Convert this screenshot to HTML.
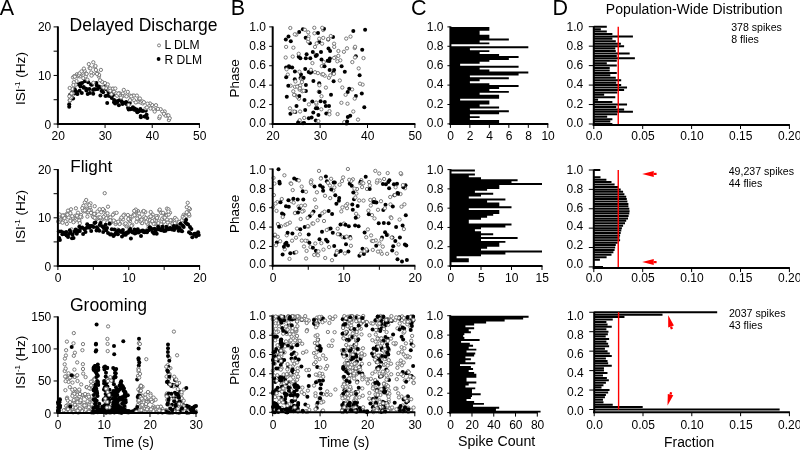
<!DOCTYPE html>
<html><head><meta charset="utf-8"><style>
html,body{margin:0;padding:0;background:#fff;}
svg{display:block;filter:blur(0.3px);}
text{font-family:"Liberation Sans", sans-serif;}
.b{fill:#000;}
.h{fill:#fff;stroke:#747474;stroke-width:0.95px;}
</style></head><body>
<svg width="800" height="450" viewBox="0 0 800 450" font-family='"Liberation Sans", sans-serif'>
<rect width="800" height="450" fill="#fff"/>
<g><circle cx="138.7" cy="111.3" r="2.0" class="b"/><circle cx="108.4" cy="91.4" r="2.0" class="b"/><circle cx="137.3" cy="112.3" r="2.0" class="b"/><circle cx="129.8" cy="103.0" r="2.0" class="b"/><circle cx="70.1" cy="94.7" r="2.0" class="b"/><circle cx="119.8" cy="100.0" r="2.0" class="b"/><circle cx="91.0" cy="84.4" r="2.0" class="b"/><circle cx="145.8" cy="110.7" r="2.0" class="b"/><circle cx="102.8" cy="89.1" r="2.0" class="b"/><circle cx="125.2" cy="102.7" r="2.0" class="b"/><circle cx="74.5" cy="93.5" r="2.0" class="b"/><circle cx="128.0" cy="107.8" r="2.0" class="b"/><circle cx="94.1" cy="89.2" r="2.0" class="b"/><circle cx="106.2" cy="89.3" r="2.0" class="b"/><circle cx="93.2" cy="93.7" r="2.0" class="b"/><circle cx="69.2" cy="106.7" r="2.0" class="b"/><circle cx="107.4" cy="95.4" r="2.0" class="b"/><circle cx="132.9" cy="107.3" r="2.0" class="b"/><circle cx="136.7" cy="109.4" r="2.0" class="b"/><circle cx="126.2" cy="102.0" r="2.0" class="b"/><circle cx="134.6" cy="108.4" r="2.0" class="b"/><circle cx="81.8" cy="93.0" r="2.0" class="b"/><circle cx="97.7" cy="89.0" r="2.0" class="b"/><circle cx="111.8" cy="97.9" r="2.0" class="b"/><circle cx="95.6" cy="89.2" r="2.0" class="b"/><circle cx="122.2" cy="102.4" r="2.0" class="b"/><circle cx="147.3" cy="118.1" r="2.0" class="b"/><circle cx="87.7" cy="94.1" r="2.0" class="b"/><circle cx="96.8" cy="85.5" r="2.0" class="b"/><circle cx="80.5" cy="86.6" r="2.0" class="b"/><circle cx="73.4" cy="93.1" r="2.0" class="b"/><circle cx="144.5" cy="116.5" r="2.0" class="b"/><circle cx="141.8" cy="110.7" r="2.0" class="b"/><circle cx="100.1" cy="87.4" r="2.0" class="b"/><circle cx="140.7" cy="116.0" r="2.0" class="b"/><circle cx="89.9" cy="93.0" r="2.0" class="b"/><circle cx="140.9" cy="117.2" r="2.0" class="b"/><circle cx="109.0" cy="94.2" r="2.0" class="b"/><circle cx="135.3" cy="109.9" r="2.0" class="b"/><circle cx="71.4" cy="97.0" r="2.0" class="b"/><circle cx="100.4" cy="95.4" r="2.0" class="b"/><circle cx="86.4" cy="90.5" r="2.0" class="b"/><circle cx="77.5" cy="94.1" r="2.0" class="b"/><circle cx="143.0" cy="111.1" r="2.0" class="b"/><circle cx="82.1" cy="82.9" r="2.0" class="b"/><circle cx="140.4" cy="108.9" r="2.0" class="b"/><circle cx="103.1" cy="92.2" r="2.0" class="b"/><circle cx="131.3" cy="108.8" r="2.0" class="b"/><circle cx="107.2" cy="103.1" r="2.0" class="b"/><circle cx="123.6" cy="102.7" r="2.0" class="b"/><circle cx="73.1" cy="98.5" r="2.0" class="b"/><circle cx="117.9" cy="100.9" r="2.0" class="b"/><circle cx="146.6" cy="114.8" r="2.0" class="b"/><circle cx="86.2" cy="88.7" r="2.0" class="b"/><circle cx="83.7" cy="86.9" r="2.0" class="b"/><circle cx="116.0" cy="101.4" r="2.0" class="b"/><circle cx="128.7" cy="109.6" r="2.0" class="b"/><circle cx="117.0" cy="102.4" r="2.0" class="b"/><circle cx="72.5" cy="91.5" r="2.0" class="b"/><circle cx="93.1" cy="89.9" r="2.0" class="b"/><circle cx="115.1" cy="103.4" r="2.0" class="b"/><circle cx="118.9" cy="105.3" r="2.0" class="b"/><circle cx="114.0" cy="102.3" r="2.0" class="b"/><circle cx="69.2" cy="104.3" r="2.0" class="b"/><circle cx="88.2" cy="82.3" r="2.0" class="b"/><circle cx="98.9" cy="86.5" r="2.0" class="b"/><circle cx="139.2" cy="110.7" r="2.0" class="b"/><circle cx="126.5" cy="104.0" r="2.0" class="b"/><circle cx="76.9" cy="93.4" r="2.0" class="b"/><circle cx="80.3" cy="83.5" r="2.0" class="b"/><circle cx="84.7" cy="81.2" r="2.0" class="b"/><circle cx="122.5" cy="104.0" r="2.0" class="b"/><circle cx="91.9" cy="84.7" r="2.0" class="b"/><circle cx="70.6" cy="99.6" r="2.0" class="b"/><circle cx="83.7" cy="87.7" r="2.0" class="b"/><circle cx="89.4" cy="89.1" r="2.0" class="b"/><circle cx="145.3" cy="116.6" r="2.0" class="b"/><circle cx="76.1" cy="91.5" r="2.0" class="b"/><circle cx="121.4" cy="101.1" r="2.0" class="b"/><circle cx="130.4" cy="109.2" r="2.0" class="b"/><circle cx="101.6" cy="91.1" r="2.0" class="b"/><circle cx="96.4" cy="83.1" r="2.0" class="b"/><circle cx="79.6" cy="90.8" r="2.0" class="b"/><circle cx="133.8" cy="109.4" r="2.0" class="b"/><circle cx="74.8" cy="89.3" r="2.0" class="b"/><circle cx="114.1" cy="99.9" r="2.0" class="b"/><circle cx="104.6" cy="86.8" r="2.0" class="b"/><circle cx="110.8" cy="92.8" r="2.0" class="b"/><circle cx="109.4" cy="95.9" r="2.0" class="b"/><circle cx="113.0" cy="94.9" r="2.0" class="b"/><circle cx="78.6" cy="84.6" r="2.0" class="b"/><circle cx="105.5" cy="95.9" r="2.0" class="b"/><circle cx="164.7" cy="111.5" r="1.65" class="h"/><circle cx="167.2" cy="115.5" r="1.65" class="h"/><circle cx="83.3" cy="78.1" r="1.65" class="h"/><circle cx="95.9" cy="70.0" r="1.65" class="h"/><circle cx="76.9" cy="74.3" r="1.65" class="h"/><circle cx="122.8" cy="93.5" r="1.65" class="h"/><circle cx="69.7" cy="100.2" r="1.65" class="h"/><circle cx="98.9" cy="76.6" r="1.65" class="h"/><circle cx="77.5" cy="76.4" r="1.65" class="h"/><circle cx="75.7" cy="84.8" r="1.65" class="h"/><circle cx="114.0" cy="91.7" r="1.65" class="h"/><circle cx="70.2" cy="100.5" r="1.65" class="h"/><circle cx="88.8" cy="64.1" r="1.65" class="h"/><circle cx="154.9" cy="110.2" r="1.65" class="h"/><circle cx="122.2" cy="96.3" r="1.65" class="h"/><circle cx="162.2" cy="111.4" r="1.65" class="h"/><circle cx="112.0" cy="88.9" r="1.65" class="h"/><circle cx="108.7" cy="89.8" r="1.65" class="h"/><circle cx="128.6" cy="105.0" r="1.65" class="h"/><circle cx="107.0" cy="86.1" r="1.65" class="h"/><circle cx="120.1" cy="95.1" r="1.65" class="h"/><circle cx="69.9" cy="100.3" r="1.65" class="h"/><circle cx="132.6" cy="95.7" r="1.65" class="h"/><circle cx="123.8" cy="89.9" r="1.65" class="h"/><circle cx="125.2" cy="95.5" r="1.65" class="h"/><circle cx="105.9" cy="88.1" r="1.65" class="h"/><circle cx="159.3" cy="118.1" r="1.65" class="h"/><circle cx="102.0" cy="81.8" r="1.65" class="h"/><circle cx="119.3" cy="93.1" r="1.65" class="h"/><circle cx="73.0" cy="77.4" r="1.65" class="h"/><circle cx="133.9" cy="95.6" r="1.65" class="h"/><circle cx="165.5" cy="115.6" r="1.65" class="h"/><circle cx="76.5" cy="81.1" r="1.65" class="h"/><circle cx="139.1" cy="99.1" r="1.65" class="h"/><circle cx="97.6" cy="73.3" r="1.65" class="h"/><circle cx="168.9" cy="120.1" r="1.65" class="h"/><circle cx="80.6" cy="74.9" r="1.65" class="h"/><circle cx="92.9" cy="73.8" r="1.65" class="h"/><circle cx="82.6" cy="72.7" r="1.65" class="h"/><circle cx="110.0" cy="88.5" r="1.65" class="h"/><circle cx="159.8" cy="116.5" r="1.65" class="h"/><circle cx="79.9" cy="76.4" r="1.65" class="h"/><circle cx="84.6" cy="70.8" r="1.65" class="h"/><circle cx="130.0" cy="100.2" r="1.65" class="h"/><circle cx="74.3" cy="76.1" r="1.65" class="h"/><circle cx="152.1" cy="105.0" r="1.65" class="h"/><circle cx="145.6" cy="108.4" r="1.65" class="h"/><circle cx="129.8" cy="95.6" r="1.65" class="h"/><circle cx="150.6" cy="108.5" r="1.65" class="h"/><circle cx="131.2" cy="96.4" r="1.65" class="h"/><circle cx="137.6" cy="101.9" r="1.65" class="h"/><circle cx="93.3" cy="62.3" r="1.65" class="h"/><circle cx="93.4" cy="82.8" r="1.65" class="h"/><circle cx="105.0" cy="83.1" r="1.65" class="h"/><circle cx="78.2" cy="75.7" r="1.65" class="h"/><circle cx="78.9" cy="74.8" r="1.65" class="h"/><circle cx="89.6" cy="68.0" r="1.65" class="h"/><circle cx="90.4" cy="68.3" r="1.65" class="h"/><circle cx="126.5" cy="96.4" r="1.65" class="h"/><circle cx="111.4" cy="94.3" r="1.65" class="h"/><circle cx="74.8" cy="76.7" r="1.65" class="h"/><circle cx="91.2" cy="72.5" r="1.65" class="h"/><circle cx="140.8" cy="102.5" r="1.65" class="h"/><circle cx="153.6" cy="109.1" r="1.65" class="h"/><circle cx="85.7" cy="76.3" r="1.65" class="h"/><circle cx="91.5" cy="75.6" r="1.65" class="h"/><circle cx="86.3" cy="73.7" r="1.65" class="h"/><circle cx="94.6" cy="66.8" r="1.65" class="h"/><circle cx="102.7" cy="86.8" r="1.65" class="h"/><circle cx="150.0" cy="103.5" r="1.65" class="h"/><circle cx="73.8" cy="82.2" r="1.65" class="h"/><circle cx="72.4" cy="89.0" r="1.65" class="h"/><circle cx="142.4" cy="101.4" r="1.65" class="h"/><circle cx="142.8" cy="103.4" r="1.65" class="h"/><circle cx="127.8" cy="91.9" r="1.65" class="h"/><circle cx="134.2" cy="100.3" r="1.65" class="h"/><circle cx="154.7" cy="111.5" r="1.65" class="h"/><circle cx="73.4" cy="85.0" r="1.65" class="h"/><circle cx="71.4" cy="97.2" r="1.65" class="h"/><circle cx="116.4" cy="93.3" r="1.65" class="h"/><circle cx="99.1" cy="74.9" r="1.65" class="h"/><circle cx="148.7" cy="105.6" r="1.65" class="h"/><circle cx="70.7" cy="97.6" r="1.65" class="h"/><circle cx="100.1" cy="80.3" r="1.65" class="h"/><circle cx="163.9" cy="113.8" r="1.65" class="h"/><circle cx="147.5" cy="103.7" r="1.65" class="h"/><circle cx="107.8" cy="84.4" r="1.65" class="h"/><circle cx="72.7" cy="93.3" r="1.65" class="h"/><circle cx="97.0" cy="73.9" r="1.65" class="h"/><circle cx="110.3" cy="90.8" r="1.65" class="h"/><circle cx="95.5" cy="66.0" r="1.65" class="h"/><circle cx="87.4" cy="79.7" r="1.65" class="h"/><circle cx="139.9" cy="98.5" r="1.65" class="h"/><circle cx="135.8" cy="102.4" r="1.65" class="h"/><circle cx="113.0" cy="88.6" r="1.65" class="h"/><circle cx="117.1" cy="95.7" r="1.65" class="h"/><circle cx="69.7" cy="88.0" r="1.65" class="h"/><circle cx="169.7" cy="118.2" r="1.65" class="h"/><circle cx="168.4" cy="115.3" r="1.65" class="h"/><circle cx="86.6" cy="73.9" r="1.65" class="h"/><circle cx="79.7" cy="73.2" r="1.65" class="h"/><circle cx="160.6" cy="109.2" r="1.65" class="h"/><circle cx="115.3" cy="88.5" r="1.65" class="h"/><circle cx="121.0" cy="97.6" r="1.65" class="h"/><circle cx="143.9" cy="102.2" r="1.65" class="h"/><circle cx="136.9" cy="95.6" r="1.65" class="h"/><circle cx="157.9" cy="108.9" r="1.65" class="h"/><circle cx="83.9" cy="68.6" r="1.65" class="h"/><circle cx="118.4" cy="93.7" r="1.65" class="h"/><circle cx="146.9" cy="107.5" r="1.65" class="h"/><circle cx="100.9" cy="69.9" r="1.65" class="h"/><circle cx="103.5" cy="87.6" r="1.65" class="h"/><circle cx="71.5" cy="93.4" r="1.65" class="h"/><circle cx="81.5" cy="71.4" r="1.65" class="h"/><circle cx="69.3" cy="96.3" r="1.65" class="h"/><circle cx="156.0" cy="105.2" r="1.65" class="h"/></g>
<g><circle cx="180.4" cy="229.8" r="1.65" class="h"/><circle cx="107.3" cy="222.3" r="1.65" class="h"/><circle cx="83.6" cy="211.4" r="1.65" class="h"/><circle cx="61.1" cy="219.2" r="1.65" class="h"/><circle cx="185.4" cy="222.3" r="1.65" class="h"/><circle cx="157.8" cy="216.2" r="1.65" class="h"/><circle cx="189.4" cy="215.7" r="1.65" class="h"/><circle cx="85.6" cy="210.3" r="1.65" class="h"/><circle cx="117.3" cy="223.0" r="1.65" class="h"/><circle cx="108.0" cy="206.7" r="1.65" class="h"/><circle cx="171.6" cy="220.6" r="1.65" class="h"/><circle cx="165.4" cy="214.8" r="1.65" class="h"/><circle cx="90.1" cy="207.6" r="1.65" class="h"/><circle cx="171.4" cy="220.1" r="1.65" class="h"/><circle cx="87.0" cy="212.3" r="1.65" class="h"/><circle cx="75.5" cy="215.7" r="1.65" class="h"/><circle cx="152.8" cy="214.6" r="1.65" class="h"/><circle cx="76.7" cy="216.8" r="1.65" class="h"/><circle cx="167.0" cy="208.6" r="1.65" class="h"/><circle cx="117.7" cy="229.6" r="1.65" class="h"/><circle cx="173.8" cy="226.4" r="1.65" class="h"/><circle cx="131.1" cy="216.8" r="1.65" class="h"/><circle cx="90.7" cy="210.0" r="1.65" class="h"/><circle cx="177.3" cy="227.9" r="1.65" class="h"/><circle cx="159.3" cy="210.5" r="1.65" class="h"/><circle cx="118.9" cy="230.3" r="1.65" class="h"/><circle cx="114.2" cy="213.4" r="1.65" class="h"/><circle cx="165.9" cy="215.2" r="1.65" class="h"/><circle cx="138.0" cy="211.1" r="1.65" class="h"/><circle cx="126.4" cy="226.2" r="1.65" class="h"/><circle cx="111.9" cy="221.5" r="1.65" class="h"/><circle cx="109.3" cy="217.3" r="1.65" class="h"/><circle cx="79.3" cy="221.2" r="1.65" class="h"/><circle cx="93.6" cy="217.3" r="1.65" class="h"/><circle cx="183.7" cy="214.8" r="1.65" class="h"/><circle cx="187.7" cy="202.8" r="1.65" class="h"/><circle cx="184.8" cy="215.9" r="1.65" class="h"/><circle cx="104.8" cy="218.5" r="1.65" class="h"/><circle cx="144.5" cy="218.8" r="1.65" class="h"/><circle cx="164.0" cy="221.8" r="1.65" class="h"/><circle cx="155.4" cy="223.9" r="1.65" class="h"/><circle cx="144.3" cy="216.5" r="1.65" class="h"/><circle cx="65.2" cy="216.7" r="1.65" class="h"/><circle cx="150.7" cy="212.0" r="1.65" class="h"/><circle cx="120.7" cy="219.1" r="1.65" class="h"/><circle cx="148.7" cy="226.4" r="1.65" class="h"/><circle cx="69.2" cy="211.6" r="1.65" class="h"/><circle cx="96.6" cy="217.9" r="1.65" class="h"/><circle cx="181.7" cy="220.3" r="1.65" class="h"/><circle cx="70.3" cy="220.9" r="1.65" class="h"/><circle cx="68.6" cy="217.4" r="1.65" class="h"/><circle cx="125.6" cy="224.3" r="1.65" class="h"/><circle cx="188.2" cy="212.8" r="1.65" class="h"/><circle cx="139.3" cy="218.3" r="1.65" class="h"/><circle cx="159.8" cy="209.6" r="1.65" class="h"/><circle cx="179.1" cy="223.8" r="1.65" class="h"/><circle cx="77.9" cy="217.1" r="1.65" class="h"/><circle cx="73.9" cy="220.4" r="1.65" class="h"/><circle cx="154.9" cy="223.7" r="1.65" class="h"/><circle cx="181.2" cy="224.6" r="1.65" class="h"/><circle cx="189.9" cy="209.1" r="1.65" class="h"/><circle cx="130.3" cy="219.1" r="1.65" class="h"/><circle cx="180.9" cy="230.3" r="1.65" class="h"/><circle cx="95.1" cy="213.8" r="1.65" class="h"/><circle cx="156.2" cy="218.0" r="1.65" class="h"/><circle cx="88.4" cy="204.3" r="1.65" class="h"/><circle cx="136.1" cy="210.8" r="1.65" class="h"/><circle cx="123.0" cy="219.4" r="1.65" class="h"/><circle cx="187.4" cy="212.5" r="1.65" class="h"/><circle cx="115.6" cy="224.0" r="1.65" class="h"/><circle cx="139.1" cy="213.4" r="1.65" class="h"/><circle cx="138.1" cy="218.7" r="1.65" class="h"/><circle cx="185.9" cy="216.5" r="1.65" class="h"/><circle cx="70.4" cy="213.2" r="1.65" class="h"/><circle cx="173.2" cy="222.6" r="1.65" class="h"/><circle cx="147.6" cy="229.3" r="1.65" class="h"/><circle cx="90.5" cy="203.3" r="1.65" class="h"/><circle cx="167.7" cy="222.4" r="1.65" class="h"/><circle cx="71.0" cy="209.3" r="1.65" class="h"/><circle cx="137.7" cy="219.7" r="1.65" class="h"/><circle cx="154.1" cy="220.3" r="1.65" class="h"/><circle cx="136.5" cy="221.9" r="1.65" class="h"/><circle cx="130.0" cy="221.2" r="1.65" class="h"/><circle cx="129.4" cy="228.0" r="1.65" class="h"/><circle cx="175.8" cy="225.7" r="1.65" class="h"/><circle cx="66.7" cy="214.0" r="1.65" class="h"/><circle cx="148.0" cy="223.4" r="1.65" class="h"/><circle cx="88.2" cy="212.2" r="1.65" class="h"/><circle cx="61.8" cy="215.7" r="1.65" class="h"/><circle cx="110.9" cy="222.6" r="1.65" class="h"/><circle cx="114.7" cy="221.3" r="1.65" class="h"/><circle cx="91.7" cy="212.7" r="1.65" class="h"/><circle cx="67.5" cy="214.7" r="1.65" class="h"/><circle cx="162.2" cy="225.3" r="1.65" class="h"/><circle cx="60.2" cy="219.6" r="1.65" class="h"/><circle cx="101.5" cy="219.9" r="1.65" class="h"/><circle cx="98.8" cy="217.8" r="1.65" class="h"/><circle cx="119.8" cy="223.4" r="1.65" class="h"/><circle cx="104.7" cy="193.2" r="1.65" class="h"/><circle cx="172.5" cy="223.9" r="1.65" class="h"/><circle cx="169.7" cy="225.1" r="1.65" class="h"/><circle cx="78.0" cy="212.7" r="1.65" class="h"/><circle cx="182.7" cy="216.9" r="1.65" class="h"/><circle cx="174.8" cy="223.1" r="1.65" class="h"/><circle cx="175.1" cy="217.9" r="1.65" class="h"/><circle cx="87.4" cy="216.6" r="1.65" class="h"/><circle cx="147.3" cy="223.6" r="1.65" class="h"/><circle cx="135.8" cy="209.6" r="1.65" class="h"/><circle cx="141.8" cy="223.0" r="1.65" class="h"/><circle cx="66.8" cy="223.9" r="1.65" class="h"/><circle cx="146.4" cy="222.0" r="1.65" class="h"/><circle cx="89.0" cy="210.4" r="1.65" class="h"/><circle cx="135.4" cy="214.8" r="1.65" class="h"/><circle cx="176.6" cy="219.5" r="1.65" class="h"/><circle cx="142.2" cy="223.1" r="1.65" class="h"/><circle cx="64.2" cy="215.7" r="1.65" class="h"/><circle cx="140.6" cy="221.2" r="1.65" class="h"/><circle cx="127.9" cy="215.0" r="1.65" class="h"/><circle cx="92.6" cy="215.8" r="1.65" class="h"/><circle cx="60.3" cy="221.5" r="1.65" class="h"/><circle cx="104.0" cy="210.2" r="1.65" class="h"/><circle cx="77.0" cy="215.7" r="1.65" class="h"/><circle cx="132.3" cy="224.8" r="1.65" class="h"/><circle cx="174.1" cy="227.1" r="1.65" class="h"/><circle cx="158.7" cy="221.3" r="1.65" class="h"/><circle cx="121.7" cy="231.2" r="1.65" class="h"/><circle cx="153.6" cy="223.8" r="1.65" class="h"/><circle cx="97.0" cy="218.8" r="1.65" class="h"/><circle cx="126.8" cy="224.5" r="1.65" class="h"/><circle cx="149.3" cy="217.3" r="1.65" class="h"/><circle cx="133.8" cy="214.4" r="1.65" class="h"/><circle cx="112.1" cy="220.9" r="1.65" class="h"/><circle cx="162.1" cy="218.8" r="1.65" class="h"/><circle cx="150.0" cy="220.2" r="1.65" class="h"/><circle cx="189.0" cy="208.2" r="1.65" class="h"/><circle cx="63.6" cy="215.5" r="1.65" class="h"/><circle cx="101.2" cy="212.3" r="1.65" class="h"/><circle cx="64.5" cy="218.1" r="1.65" class="h"/><circle cx="83.9" cy="209.9" r="1.65" class="h"/><circle cx="109.1" cy="218.3" r="1.65" class="h"/><circle cx="94.7" cy="206.2" r="1.65" class="h"/><circle cx="106.1" cy="213.6" r="1.65" class="h"/><circle cx="152.1" cy="221.5" r="1.65" class="h"/><circle cx="124.6" cy="224.2" r="1.65" class="h"/><circle cx="145.3" cy="212.0" r="1.65" class="h"/><circle cx="189.0" cy="214.2" r="1.65" class="h"/><circle cx="161.2" cy="212.9" r="1.65" class="h"/><circle cx="91.0" cy="212.9" r="1.65" class="h"/><circle cx="98.5" cy="217.4" r="1.65" class="h"/><circle cx="156.3" cy="216.1" r="1.65" class="h"/><circle cx="152.3" cy="221.1" r="1.65" class="h"/><circle cx="163.5" cy="217.3" r="1.65" class="h"/><circle cx="139.8" cy="216.8" r="1.65" class="h"/><circle cx="102.5" cy="218.5" r="1.65" class="h"/><circle cx="79.1" cy="220.5" r="1.65" class="h"/><circle cx="134.2" cy="210.9" r="1.65" class="h"/><circle cx="166.8" cy="215.3" r="1.65" class="h"/><circle cx="143.1" cy="211.5" r="1.65" class="h"/><circle cx="141.5" cy="219.8" r="1.65" class="h"/><circle cx="102.9" cy="209.1" r="1.65" class="h"/><circle cx="145.7" cy="218.0" r="1.65" class="h"/><circle cx="116.6" cy="212.8" r="1.65" class="h"/><circle cx="105.1" cy="215.2" r="1.65" class="h"/><circle cx="119.6" cy="224.0" r="1.65" class="h"/><circle cx="151.3" cy="216.4" r="1.65" class="h"/><circle cx="62.8" cy="215.6" r="1.65" class="h"/><circle cx="65.6" cy="221.3" r="1.65" class="h"/><circle cx="93.2" cy="217.0" r="1.65" class="h"/><circle cx="75.9" cy="208.3" r="1.65" class="h"/><circle cx="168.5" cy="209.3" r="1.65" class="h"/><circle cx="83.0" cy="210.4" r="1.65" class="h"/><circle cx="59.5" cy="214.5" r="1.65" class="h"/><circle cx="116.0" cy="222.3" r="1.65" class="h"/><circle cx="170.5" cy="220.2" r="1.65" class="h"/><circle cx="125.6" cy="223.4" r="1.65" class="h"/><circle cx="68.0" cy="210.6" r="1.65" class="h"/><circle cx="112.9" cy="214.8" r="1.65" class="h"/><circle cx="118.2" cy="221.7" r="1.65" class="h"/><circle cx="170.0" cy="212.7" r="1.65" class="h"/><circle cx="81.5" cy="217.2" r="1.65" class="h"/><circle cx="160.9" cy="224.3" r="1.65" class="h"/><circle cx="97.5" cy="211.5" r="1.65" class="h"/><circle cx="74.7" cy="221.0" r="1.65" class="h"/><circle cx="158.4" cy="223.1" r="1.65" class="h"/><circle cx="103.6" cy="216.8" r="1.65" class="h"/><circle cx="133.0" cy="216.4" r="1.65" class="h"/><circle cx="167.0" cy="219.5" r="1.65" class="h"/><circle cx="157.0" cy="217.8" r="1.65" class="h"/><circle cx="83.4" cy="205.8" r="1.65" class="h"/><circle cx="178.3" cy="226.9" r="1.65" class="h"/><circle cx="168.7" cy="214.5" r="1.65" class="h"/><circle cx="99.6" cy="209.2" r="1.65" class="h"/><circle cx="129.0" cy="219.8" r="1.65" class="h"/><circle cx="150.6" cy="216.4" r="1.65" class="h"/><circle cx="86.6" cy="208.6" r="1.65" class="h"/><circle cx="106.4" cy="218.1" r="1.65" class="h"/><circle cx="179.2" cy="222.1" r="1.65" class="h"/><circle cx="79.8" cy="223.2" r="1.65" class="h"/><circle cx="89.4" cy="205.2" r="1.65" class="h"/><circle cx="95.7" cy="218.4" r="1.65" class="h"/><circle cx="94.7" cy="217.8" r="1.65" class="h"/><circle cx="107.5" cy="213.3" r="1.65" class="h"/><circle cx="128.3" cy="219.0" r="1.65" class="h"/><circle cx="82.3" cy="208.1" r="1.65" class="h"/><circle cx="110.4" cy="217.4" r="1.65" class="h"/><circle cx="84.8" cy="202.4" r="1.65" class="h"/><circle cx="122.4" cy="217.3" r="1.65" class="h"/><circle cx="94.3" cy="213.9" r="1.65" class="h"/><circle cx="58.3" cy="221.3" r="1.65" class="h"/><circle cx="124.3" cy="214.6" r="1.65" class="h"/><circle cx="72.8" cy="217.8" r="1.65" class="h"/><circle cx="134.5" cy="215.2" r="1.65" class="h"/><circle cx="71.6" cy="229.4" r="1.65" class="h"/><circle cx="73.5" cy="222.2" r="1.65" class="h"/><circle cx="86.2" cy="200.0" r="1.65" class="h"/><circle cx="113.7" cy="220.5" r="1.65" class="h"/><circle cx="168.4" cy="211.5" r="1.65" class="h"/><circle cx="80.9" cy="215.0" r="1.65" class="h"/><circle cx="163.1" cy="212.8" r="1.65" class="h"/><circle cx="123.5" cy="215.4" r="1.65" class="h"/><circle cx="100.8" cy="218.3" r="1.65" class="h"/><circle cx="177.9" cy="226.0" r="1.65" class="h"/><circle cx="137.2" cy="218.5" r="1.65" class="h"/><circle cx="182.6" cy="225.8" r="1.65" class="h"/><circle cx="110.2" cy="220.3" r="1.65" class="h"/><circle cx="121.4" cy="217.6" r="1.65" class="h"/><circle cx="72.2" cy="216.2" r="1.65" class="h"/><circle cx="186.7" cy="212.2" r="1.65" class="h"/><circle cx="186.8" cy="207.2" r="1.65" class="h"/><circle cx="184.4" cy="218.2" r="1.65" class="h"/><circle cx="85.7" cy="209.6" r="1.65" class="h"/><circle cx="84.8" cy="210.4" r="1.65" class="h"/><circle cx="58.6" cy="222.1" r="1.65" class="h"/><circle cx="164.8" cy="217.7" r="1.65" class="h"/><circle cx="62.5" cy="222.7" r="1.65" class="h"/><circle cx="80.4" cy="216.8" r="1.65" class="h"/><circle cx="131.5" cy="225.9" r="1.65" class="h"/><circle cx="100.2" cy="217.3" r="1.65" class="h"/><circle cx="143.7" cy="211.0" r="1.65" class="h"/><circle cx="74.4" cy="231.8" r="2.0" class="b"/><circle cx="127.2" cy="232.5" r="2.0" class="b"/><circle cx="124.1" cy="234.8" r="2.0" class="b"/><circle cx="80.6" cy="228.0" r="2.0" class="b"/><circle cx="75.7" cy="229.6" r="2.0" class="b"/><circle cx="193.9" cy="234.3" r="2.0" class="b"/><circle cx="114.4" cy="229.5" r="2.0" class="b"/><circle cx="95.4" cy="222.5" r="2.0" class="b"/><circle cx="119.7" cy="231.3" r="2.0" class="b"/><circle cx="111.8" cy="229.3" r="2.0" class="b"/><circle cx="65.3" cy="234.2" r="2.0" class="b"/><circle cx="144.7" cy="232.3" r="2.0" class="b"/><circle cx="165.6" cy="230.7" r="2.0" class="b"/><circle cx="180.8" cy="230.4" r="2.0" class="b"/><circle cx="134.4" cy="229.6" r="2.0" class="b"/><circle cx="109.6" cy="223.8" r="2.0" class="b"/><circle cx="140.0" cy="231.4" r="2.0" class="b"/><circle cx="63.4" cy="232.4" r="2.0" class="b"/><circle cx="172.0" cy="229.4" r="2.0" class="b"/><circle cx="136.4" cy="231.5" r="2.0" class="b"/><circle cx="87.2" cy="224.3" r="2.0" class="b"/><circle cx="99.3" cy="230.8" r="2.0" class="b"/><circle cx="147.0" cy="232.3" r="2.0" class="b"/><circle cx="178.6" cy="230.8" r="2.0" class="b"/><circle cx="173.7" cy="225.9" r="2.0" class="b"/><circle cx="96.5" cy="230.5" r="2.0" class="b"/><circle cx="186.1" cy="219.8" r="2.0" class="b"/><circle cx="180.6" cy="223.7" r="2.0" class="b"/><circle cx="132.8" cy="232.4" r="2.0" class="b"/><circle cx="114.8" cy="234.6" r="2.0" class="b"/><circle cx="72.6" cy="234.6" r="2.0" class="b"/><circle cx="142.9" cy="230.6" r="2.0" class="b"/><circle cx="102.2" cy="226.3" r="2.0" class="b"/><circle cx="94.5" cy="223.0" r="2.0" class="b"/><circle cx="159.3" cy="229.5" r="2.0" class="b"/><circle cx="69.8" cy="230.2" r="2.0" class="b"/><circle cx="129.3" cy="230.6" r="2.0" class="b"/><circle cx="79.3" cy="226.8" r="2.0" class="b"/><circle cx="149.3" cy="230.0" r="2.0" class="b"/><circle cx="63.9" cy="233.6" r="2.0" class="b"/><circle cx="104.3" cy="227.8" r="2.0" class="b"/><circle cx="172.8" cy="228.7" r="2.0" class="b"/><circle cx="177.0" cy="227.6" r="2.0" class="b"/><circle cx="123.5" cy="233.1" r="2.0" class="b"/><circle cx="154.0" cy="233.4" r="2.0" class="b"/><circle cx="106.1" cy="230.2" r="2.0" class="b"/><circle cx="77.8" cy="231.4" r="2.0" class="b"/><circle cx="185.4" cy="222.2" r="2.0" class="b"/><circle cx="196.9" cy="234.8" r="2.0" class="b"/><circle cx="188.1" cy="224.5" r="2.0" class="b"/><circle cx="161.2" cy="230.2" r="2.0" class="b"/><circle cx="194.7" cy="233.8" r="2.0" class="b"/><circle cx="59.2" cy="238.1" r="2.0" class="b"/><circle cx="113.5" cy="235.9" r="2.0" class="b"/><circle cx="84.2" cy="228.8" r="2.0" class="b"/><circle cx="190.0" cy="227.0" r="2.0" class="b"/><circle cx="118.6" cy="230.3" r="2.0" class="b"/><circle cx="89.6" cy="227.7" r="2.0" class="b"/><circle cx="157.8" cy="229.0" r="2.0" class="b"/><circle cx="136.0" cy="232.8" r="2.0" class="b"/><circle cx="156.7" cy="233.7" r="2.0" class="b"/><circle cx="137.8" cy="229.3" r="2.0" class="b"/><circle cx="92.0" cy="226.0" r="2.0" class="b"/><circle cx="160.0" cy="228.9" r="2.0" class="b"/><circle cx="141.9" cy="230.8" r="2.0" class="b"/><circle cx="126.6" cy="232.8" r="2.0" class="b"/><circle cx="90.7" cy="225.9" r="2.0" class="b"/><circle cx="125.8" cy="234.8" r="2.0" class="b"/><circle cx="73.5" cy="238.0" r="2.0" class="b"/><circle cx="155.5" cy="231.6" r="2.0" class="b"/><circle cx="158.1" cy="226.8" r="2.0" class="b"/><circle cx="97.8" cy="228.8" r="2.0" class="b"/><circle cx="186.8" cy="223.7" r="2.0" class="b"/><circle cx="83.1" cy="234.0" r="2.0" class="b"/><circle cx="96.8" cy="227.2" r="2.0" class="b"/><circle cx="141.0" cy="236.0" r="2.0" class="b"/><circle cx="130.2" cy="229.1" r="2.0" class="b"/><circle cx="108.0" cy="232.9" r="2.0" class="b"/><circle cx="151.7" cy="229.1" r="2.0" class="b"/><circle cx="86.8" cy="227.8" r="2.0" class="b"/><circle cx="190.5" cy="233.6" r="2.0" class="b"/><circle cx="182.9" cy="225.8" r="2.0" class="b"/><circle cx="99.7" cy="224.9" r="2.0" class="b"/><circle cx="175.4" cy="228.0" r="2.0" class="b"/><circle cx="176.9" cy="226.3" r="2.0" class="b"/><circle cx="84.7" cy="229.2" r="2.0" class="b"/><circle cx="195.6" cy="233.7" r="2.0" class="b"/><circle cx="179.5" cy="228.0" r="2.0" class="b"/><circle cx="110.1" cy="234.6" r="2.0" class="b"/><circle cx="62.4" cy="234.3" r="2.0" class="b"/><circle cx="138.3" cy="232.4" r="2.0" class="b"/><circle cx="70.4" cy="232.5" r="2.0" class="b"/><circle cx="128.1" cy="232.7" r="2.0" class="b"/><circle cx="131.6" cy="231.8" r="2.0" class="b"/><circle cx="107.0" cy="227.9" r="2.0" class="b"/><circle cx="130.9" cy="238.6" r="2.0" class="b"/><circle cx="117.9" cy="234.3" r="2.0" class="b"/><circle cx="121.1" cy="232.1" r="2.0" class="b"/><circle cx="116.7" cy="231.2" r="2.0" class="b"/><circle cx="198.1" cy="232.2" r="2.0" class="b"/><circle cx="162.5" cy="226.7" r="2.0" class="b"/><circle cx="103.6" cy="228.0" r="2.0" class="b"/><circle cx="164.0" cy="230.9" r="2.0" class="b"/><circle cx="174.1" cy="230.1" r="2.0" class="b"/><circle cx="150.5" cy="227.9" r="2.0" class="b"/><circle cx="162.9" cy="229.0" r="2.0" class="b"/><circle cx="100.5" cy="223.0" r="2.0" class="b"/><circle cx="66.6" cy="235.6" r="2.0" class="b"/><circle cx="111.3" cy="234.3" r="2.0" class="b"/><circle cx="93.6" cy="227.0" r="2.0" class="b"/><circle cx="79.8" cy="230.9" r="2.0" class="b"/><circle cx="149.8" cy="227.3" r="2.0" class="b"/><circle cx="134.9" cy="233.5" r="2.0" class="b"/><circle cx="182.1" cy="231.3" r="2.0" class="b"/><circle cx="198.8" cy="235.0" r="2.0" class="b"/><circle cx="192.3" cy="237.3" r="2.0" class="b"/><circle cx="122.9" cy="230.1" r="2.0" class="b"/><circle cx="147.8" cy="230.5" r="2.0" class="b"/><circle cx="166.7" cy="228.8" r="2.0" class="b"/><circle cx="115.6" cy="233.5" r="2.0" class="b"/><circle cx="68.1" cy="237.1" r="2.0" class="b"/><circle cx="167.8" cy="228.8" r="2.0" class="b"/><circle cx="105.6" cy="224.8" r="2.0" class="b"/><circle cx="66.2" cy="232.1" r="2.0" class="b"/><circle cx="82.2" cy="227.6" r="2.0" class="b"/><circle cx="170.2" cy="227.9" r="2.0" class="b"/><circle cx="189.0" cy="232.2" r="2.0" class="b"/><circle cx="76.8" cy="233.7" r="2.0" class="b"/><circle cx="191.4" cy="229.0" r="2.0" class="b"/><circle cx="77.6" cy="230.5" r="2.0" class="b"/><circle cx="91.2" cy="231.1" r="2.0" class="b"/><circle cx="154.5" cy="228.8" r="2.0" class="b"/><circle cx="166.3" cy="226.8" r="2.0" class="b"/><circle cx="59.9" cy="240.0" r="2.0" class="b"/><circle cx="88.7" cy="225.8" r="2.0" class="b"/><circle cx="146.3" cy="231.4" r="2.0" class="b"/><circle cx="103.2" cy="231.9" r="2.0" class="b"/><circle cx="183.7" cy="227.1" r="2.0" class="b"/><circle cx="85.5" cy="231.9" r="2.0" class="b"/><circle cx="196.1" cy="236.6" r="2.0" class="b"/><circle cx="145.1" cy="231.2" r="2.0" class="b"/><circle cx="58.8" cy="231.5" r="2.0" class="b"/><circle cx="143.6" cy="232.0" r="2.0" class="b"/><circle cx="152.6" cy="232.1" r="2.0" class="b"/><circle cx="168.8" cy="229.2" r="2.0" class="b"/><circle cx="69.0" cy="234.1" r="2.0" class="b"/><circle cx="122.0" cy="236.6" r="2.0" class="b"/><circle cx="72.0" cy="238.3" r="2.0" class="b"/><circle cx="170.5" cy="228.8" r="2.0" class="b"/><circle cx="61.1" cy="231.4" r="2.0" class="b"/></g>
<g><circle cx="79.4" cy="408.8" r="1.65" class="h"/><circle cx="79.3" cy="390.7" r="1.65" class="h"/><circle cx="79.8" cy="396.2" r="1.65" class="h"/><circle cx="88.8" cy="409.7" r="1.65" class="h"/><circle cx="128.4" cy="412.6" r="1.65" class="h"/><circle cx="66.9" cy="341.6" r="1.65" class="h"/><circle cx="94.1" cy="390.0" r="1.65" class="h"/><circle cx="92.7" cy="383.4" r="1.65" class="h"/><circle cx="86.6" cy="387.2" r="1.65" class="h"/><circle cx="72.9" cy="411.2" r="1.65" class="h"/><circle cx="83.6" cy="410.9" r="1.65" class="h"/><circle cx="86.9" cy="387.1" r="1.65" class="h"/><circle cx="65.1" cy="409.9" r="1.65" class="h"/><circle cx="66.6" cy="409.4" r="1.65" class="h"/><circle cx="83.8" cy="402.6" r="1.65" class="h"/><circle cx="83.9" cy="405.9" r="1.65" class="h"/><circle cx="113.6" cy="411.2" r="1.65" class="h"/><circle cx="73.1" cy="376.4" r="1.65" class="h"/><circle cx="122.4" cy="404.6" r="1.65" class="h"/><circle cx="91.7" cy="401.1" r="1.65" class="h"/><circle cx="115.5" cy="411.2" r="1.65" class="h"/><circle cx="94.5" cy="378.7" r="1.65" class="h"/><circle cx="67.3" cy="409.1" r="1.65" class="h"/><circle cx="90.4" cy="388.9" r="1.65" class="h"/><circle cx="90.1" cy="402.4" r="1.65" class="h"/><circle cx="89.1" cy="388.2" r="1.65" class="h"/><circle cx="82.5" cy="404.6" r="1.65" class="h"/><circle cx="88.3" cy="404.2" r="1.65" class="h"/><circle cx="74.3" cy="408.4" r="1.65" class="h"/><circle cx="67.1" cy="397.7" r="1.65" class="h"/><circle cx="77.6" cy="398.6" r="1.65" class="h"/><circle cx="86.2" cy="411.3" r="1.65" class="h"/><circle cx="94.5" cy="397.5" r="1.65" class="h"/><circle cx="87.7" cy="411.7" r="1.65" class="h"/><circle cx="89.3" cy="397.5" r="1.65" class="h"/><circle cx="76.1" cy="393.8" r="1.65" class="h"/><circle cx="73.8" cy="401.4" r="1.65" class="h"/><circle cx="83.5" cy="409.7" r="1.65" class="h"/><circle cx="64.9" cy="358.6" r="1.65" class="h"/><circle cx="85.6" cy="410.9" r="1.65" class="h"/><circle cx="76.5" cy="398.8" r="1.65" class="h"/><circle cx="74.9" cy="377.0" r="1.65" class="h"/><circle cx="90.5" cy="407.9" r="1.65" class="h"/><circle cx="87.7" cy="395.2" r="1.65" class="h"/><circle cx="68.6" cy="381.9" r="1.65" class="h"/><circle cx="78.3" cy="401.9" r="1.65" class="h"/><circle cx="72.9" cy="393.9" r="1.65" class="h"/><circle cx="88.8" cy="410.6" r="1.65" class="h"/><circle cx="82.1" cy="411.1" r="1.65" class="h"/><circle cx="92.2" cy="401.1" r="1.65" class="h"/><circle cx="86.0" cy="405.3" r="1.65" class="h"/><circle cx="86.4" cy="411.7" r="1.65" class="h"/><circle cx="76.2" cy="411.6" r="1.65" class="h"/><circle cx="87.2" cy="410.2" r="1.65" class="h"/><circle cx="94.4" cy="379.0" r="1.65" class="h"/><circle cx="70.3" cy="377.6" r="1.65" class="h"/><circle cx="95.6" cy="389.2" r="1.65" class="h"/><circle cx="113.2" cy="408.2" r="1.65" class="h"/><circle cx="67.3" cy="405.2" r="1.65" class="h"/><circle cx="91.6" cy="412.5" r="1.65" class="h"/><circle cx="70.8" cy="405.7" r="1.65" class="h"/><circle cx="85.1" cy="395.9" r="1.65" class="h"/><circle cx="119.0" cy="412.4" r="1.65" class="h"/><circle cx="77.4" cy="394.9" r="1.65" class="h"/><circle cx="93.3" cy="399.6" r="1.65" class="h"/><circle cx="74.3" cy="401.7" r="1.65" class="h"/><circle cx="64.7" cy="364.3" r="1.65" class="h"/><circle cx="88.3" cy="394.8" r="1.65" class="h"/><circle cx="75.4" cy="390.2" r="1.65" class="h"/><circle cx="85.0" cy="411.1" r="1.65" class="h"/><circle cx="126.9" cy="412.1" r="1.65" class="h"/><circle cx="67.0" cy="398.8" r="1.65" class="h"/><circle cx="65.6" cy="381.2" r="1.65" class="h"/><circle cx="92.8" cy="380.9" r="1.65" class="h"/><circle cx="72.6" cy="408.5" r="1.65" class="h"/><circle cx="117.0" cy="408.7" r="1.65" class="h"/><circle cx="91.8" cy="409.0" r="1.65" class="h"/><circle cx="87.2" cy="397.5" r="1.65" class="h"/><circle cx="81.2" cy="398.1" r="1.65" class="h"/><circle cx="91.8" cy="408.2" r="1.65" class="h"/><circle cx="65.9" cy="355.5" r="1.65" class="h"/><circle cx="92.0" cy="408.6" r="1.65" class="h"/><circle cx="65.4" cy="390.2" r="1.65" class="h"/><circle cx="64.7" cy="371.0" r="1.65" class="h"/><circle cx="77.9" cy="410.0" r="1.65" class="h"/><circle cx="83.2" cy="373.6" r="1.65" class="h"/><circle cx="83.3" cy="395.0" r="1.65" class="h"/><circle cx="93.3" cy="402.0" r="1.65" class="h"/><circle cx="73.8" cy="333.1" r="1.65" class="h"/><circle cx="79.2" cy="402.5" r="1.65" class="h"/><circle cx="82.4" cy="350.2" r="1.65" class="h"/><circle cx="87.7" cy="409.2" r="1.65" class="h"/><circle cx="90.5" cy="411.8" r="1.65" class="h"/><circle cx="88.8" cy="411.8" r="1.65" class="h"/><circle cx="73.5" cy="343.3" r="1.65" class="h"/><circle cx="69.3" cy="378.2" r="1.65" class="h"/><circle cx="76.5" cy="375.8" r="1.65" class="h"/><circle cx="66.0" cy="377.0" r="1.65" class="h"/><circle cx="79.9" cy="402.0" r="1.65" class="h"/><circle cx="79.4" cy="396.3" r="1.65" class="h"/><circle cx="94.6" cy="379.8" r="1.65" class="h"/><circle cx="65.4" cy="411.1" r="1.65" class="h"/><circle cx="77.4" cy="402.2" r="1.65" class="h"/><circle cx="89.0" cy="411.6" r="1.65" class="h"/><circle cx="65.7" cy="368.6" r="1.65" class="h"/><circle cx="70.1" cy="377.5" r="1.65" class="h"/><circle cx="74.3" cy="393.8" r="1.65" class="h"/><circle cx="83.0" cy="369.0" r="1.65" class="h"/><circle cx="80.0" cy="409.2" r="1.65" class="h"/><circle cx="75.0" cy="404.8" r="1.65" class="h"/><circle cx="74.4" cy="369.6" r="1.65" class="h"/><circle cx="70.5" cy="405.7" r="1.65" class="h"/><circle cx="69.4" cy="407.7" r="1.65" class="h"/><circle cx="92.2" cy="411.1" r="1.65" class="h"/><circle cx="91.7" cy="396.4" r="1.65" class="h"/><circle cx="91.0" cy="381.7" r="1.65" class="h"/><circle cx="66.1" cy="350.2" r="1.65" class="h"/><circle cx="85.1" cy="395.1" r="1.65" class="h"/><circle cx="72.9" cy="412.2" r="1.65" class="h"/><circle cx="68.5" cy="373.3" r="1.65" class="h"/><circle cx="74.8" cy="389.1" r="1.65" class="h"/><circle cx="117.1" cy="403.8" r="1.65" class="h"/><circle cx="76.9" cy="410.6" r="1.65" class="h"/><circle cx="122.2" cy="411.5" r="1.65" class="h"/><circle cx="74.4" cy="400.3" r="1.65" class="h"/><circle cx="92.7" cy="411.1" r="1.65" class="h"/><circle cx="83.7" cy="405.2" r="1.65" class="h"/><circle cx="65.5" cy="411.4" r="1.65" class="h"/><circle cx="108.3" cy="409.0" r="1.65" class="h"/><circle cx="77.5" cy="381.0" r="1.65" class="h"/><circle cx="67.9" cy="400.6" r="1.65" class="h"/><circle cx="66.2" cy="405.9" r="1.65" class="h"/><circle cx="83.0" cy="344.1" r="1.65" class="h"/><circle cx="89.1" cy="405.2" r="1.65" class="h"/><circle cx="78.3" cy="412.6" r="1.65" class="h"/><circle cx="74.7" cy="399.3" r="1.65" class="h"/><circle cx="120.6" cy="404.8" r="1.65" class="h"/><circle cx="94.4" cy="386.4" r="1.65" class="h"/><circle cx="80.7" cy="400.2" r="1.65" class="h"/><circle cx="69.5" cy="411.7" r="1.65" class="h"/><circle cx="73.7" cy="400.1" r="1.65" class="h"/><circle cx="68.1" cy="406.8" r="1.65" class="h"/><circle cx="79.2" cy="389.6" r="1.65" class="h"/><circle cx="85.7" cy="409.8" r="1.65" class="h"/><circle cx="77.2" cy="375.2" r="1.65" class="h"/><circle cx="85.1" cy="394.0" r="1.65" class="h"/><circle cx="85.6" cy="377.1" r="1.65" class="h"/><circle cx="90.8" cy="409.0" r="1.65" class="h"/><circle cx="68.1" cy="408.0" r="1.65" class="h"/><circle cx="93.4" cy="410.1" r="1.65" class="h"/><circle cx="77.2" cy="362.4" r="1.65" class="h"/><circle cx="70.1" cy="402.1" r="1.65" class="h"/><circle cx="92.4" cy="402.6" r="1.65" class="h"/><circle cx="87.5" cy="401.2" r="1.65" class="h"/><circle cx="72.3" cy="389.8" r="1.65" class="h"/><circle cx="69.6" cy="411.0" r="1.65" class="h"/><circle cx="91.8" cy="404.4" r="1.65" class="h"/><circle cx="73.7" cy="412.1" r="1.65" class="h"/><circle cx="88.9" cy="396.7" r="1.65" class="h"/><circle cx="69.1" cy="408.2" r="1.65" class="h"/><circle cx="68.0" cy="409.2" r="1.65" class="h"/><circle cx="92.8" cy="387.1" r="1.65" class="h"/><circle cx="63.8" cy="410.3" r="1.65" class="h"/><circle cx="84.6" cy="405.4" r="1.65" class="h"/><circle cx="80.0" cy="394.0" r="1.65" class="h"/><circle cx="82.9" cy="364.2" r="1.65" class="h"/><circle cx="124.2" cy="409.5" r="1.65" class="h"/><circle cx="95.4" cy="400.6" r="1.65" class="h"/><circle cx="72.6" cy="407.1" r="1.65" class="h"/><circle cx="122.0" cy="412.7" r="1.65" class="h"/><circle cx="91.1" cy="385.4" r="1.65" class="h"/><circle cx="77.1" cy="406.8" r="1.65" class="h"/><circle cx="109.8" cy="409.5" r="1.65" class="h"/><circle cx="73.8" cy="355.8" r="1.65" class="h"/><circle cx="92.3" cy="412.2" r="1.65" class="h"/><circle cx="72.4" cy="395.9" r="1.65" class="h"/><circle cx="81.2" cy="384.4" r="1.65" class="h"/><circle cx="88.9" cy="407.2" r="1.65" class="h"/><circle cx="79.9" cy="408.5" r="1.65" class="h"/><circle cx="66.0" cy="376.4" r="1.65" class="h"/><circle cx="75.8" cy="407.8" r="1.65" class="h"/><circle cx="65.1" cy="376.5" r="1.65" class="h"/><circle cx="69.8" cy="387.1" r="1.65" class="h"/><circle cx="72.5" cy="382.6" r="1.65" class="h"/><circle cx="74.9" cy="352.7" r="1.65" class="h"/><circle cx="91.9" cy="410.1" r="1.65" class="h"/><circle cx="118.8" cy="410.8" r="1.65" class="h"/><circle cx="77.7" cy="410.7" r="1.65" class="h"/><circle cx="124.8" cy="407.7" r="1.65" class="h"/><circle cx="114.4" cy="377.6" r="2.0" class="b"/><circle cx="107.9" cy="410.4" r="2.0" class="b"/><circle cx="105.0" cy="405.7" r="2.0" class="b"/><circle cx="113.5" cy="394.3" r="2.0" class="b"/><circle cx="116.2" cy="369.0" r="2.0" class="b"/><circle cx="112.0" cy="407.7" r="2.0" class="b"/><circle cx="106.9" cy="404.7" r="2.0" class="b"/><circle cx="94.7" cy="411.8" r="2.0" class="b"/><circle cx="59.4" cy="402.3" r="2.0" class="b"/><circle cx="105.4" cy="411.2" r="2.0" class="b"/><circle cx="95.7" cy="372.1" r="2.0" class="b"/><circle cx="119.1" cy="406.2" r="2.0" class="b"/><circle cx="123.3" cy="341.2" r="2.0" class="b"/><circle cx="106.9" cy="401.0" r="2.0" class="b"/><circle cx="119.6" cy="397.7" r="2.0" class="b"/><circle cx="58.2" cy="407.6" r="2.0" class="b"/><circle cx="93.8" cy="370.0" r="2.0" class="b"/><circle cx="105.9" cy="389.9" r="2.0" class="b"/><circle cx="95.3" cy="387.2" r="2.0" class="b"/><circle cx="104.5" cy="369.5" r="2.0" class="b"/><circle cx="118.5" cy="398.7" r="2.0" class="b"/><circle cx="122.9" cy="408.8" r="2.0" class="b"/><circle cx="104.6" cy="389.5" r="2.0" class="b"/><circle cx="113.0" cy="411.5" r="2.0" class="b"/><circle cx="95.9" cy="384.2" r="2.0" class="b"/><circle cx="96.3" cy="388.7" r="2.0" class="b"/><circle cx="112.9" cy="395.0" r="2.0" class="b"/><circle cx="122.6" cy="386.3" r="2.0" class="b"/><circle cx="125.6" cy="392.7" r="2.0" class="b"/><circle cx="114.7" cy="404.5" r="2.0" class="b"/><circle cx="95.1" cy="398.9" r="2.0" class="b"/><circle cx="122.7" cy="400.0" r="2.0" class="b"/><circle cx="110.5" cy="411.6" r="2.0" class="b"/><circle cx="116.2" cy="404.2" r="2.0" class="b"/><circle cx="71.7" cy="375.2" r="2.0" class="b"/><circle cx="97.9" cy="406.4" r="2.0" class="b"/><circle cx="110.6" cy="409.5" r="2.0" class="b"/><circle cx="114.6" cy="411.6" r="2.0" class="b"/><circle cx="96.7" cy="407.7" r="2.0" class="b"/><circle cx="108.5" cy="400.7" r="2.0" class="b"/><circle cx="97.1" cy="393.6" r="2.0" class="b"/><circle cx="113.5" cy="406.7" r="2.0" class="b"/><circle cx="123.2" cy="411.5" r="2.0" class="b"/><circle cx="107.6" cy="405.6" r="2.0" class="b"/><circle cx="124.0" cy="388.4" r="2.0" class="b"/><circle cx="118.0" cy="410.3" r="2.0" class="b"/><circle cx="115.0" cy="369.8" r="2.0" class="b"/><circle cx="115.5" cy="377.0" r="2.0" class="b"/><circle cx="121.6" cy="410.3" r="2.0" class="b"/><circle cx="59.6" cy="400.4" r="2.0" class="b"/><circle cx="107.4" cy="400.6" r="2.0" class="b"/><circle cx="127.3" cy="411.2" r="2.0" class="b"/><circle cx="96.7" cy="391.0" r="2.0" class="b"/><circle cx="117.6" cy="401.7" r="2.0" class="b"/><circle cx="113.3" cy="391.0" r="2.0" class="b"/><circle cx="93.5" cy="369.0" r="2.0" class="b"/><circle cx="95.6" cy="370.4" r="2.0" class="b"/><circle cx="114.3" cy="411.3" r="2.0" class="b"/><circle cx="104.7" cy="389.5" r="2.0" class="b"/><circle cx="96.8" cy="392.3" r="2.0" class="b"/><circle cx="107.0" cy="382.3" r="2.0" class="b"/><circle cx="95.6" cy="384.7" r="2.0" class="b"/><circle cx="114.4" cy="377.1" r="2.0" class="b"/><circle cx="120.0" cy="412.2" r="2.0" class="b"/><circle cx="97.7" cy="410.1" r="2.0" class="b"/><circle cx="111.3" cy="412.2" r="2.0" class="b"/><circle cx="105.8" cy="411.1" r="2.0" class="b"/><circle cx="104.8" cy="405.2" r="2.0" class="b"/><circle cx="94.6" cy="400.0" r="2.0" class="b"/><circle cx="125.1" cy="392.0" r="2.0" class="b"/><circle cx="97.2" cy="381.0" r="2.0" class="b"/><circle cx="117.9" cy="391.6" r="2.0" class="b"/><circle cx="123.6" cy="390.8" r="2.0" class="b"/><circle cx="115.7" cy="400.4" r="2.0" class="b"/><circle cx="96.0" cy="406.7" r="2.0" class="b"/><circle cx="95.8" cy="392.6" r="2.0" class="b"/><circle cx="125.4" cy="402.4" r="2.0" class="b"/><circle cx="93.5" cy="407.9" r="2.0" class="b"/><circle cx="116.9" cy="394.8" r="2.0" class="b"/><circle cx="114.7" cy="406.9" r="2.0" class="b"/><circle cx="106.2" cy="407.7" r="2.0" class="b"/><circle cx="112.6" cy="398.8" r="2.0" class="b"/><circle cx="60.1" cy="405.8" r="2.0" class="b"/><circle cx="107.8" cy="407.3" r="2.0" class="b"/><circle cx="107.6" cy="398.0" r="2.0" class="b"/><circle cx="106.3" cy="410.1" r="2.0" class="b"/><circle cx="125.0" cy="392.1" r="2.0" class="b"/><circle cx="105.5" cy="397.6" r="2.0" class="b"/><circle cx="109.5" cy="393.4" r="2.0" class="b"/><circle cx="108.6" cy="412.3" r="2.0" class="b"/><circle cx="96.3" cy="411.3" r="2.0" class="b"/><circle cx="128.9" cy="411.0" r="2.0" class="b"/><circle cx="93.9" cy="395.0" r="2.0" class="b"/><circle cx="116.8" cy="389.4" r="2.0" class="b"/><circle cx="114.1" cy="410.6" r="2.0" class="b"/><circle cx="123.7" cy="409.9" r="2.0" class="b"/><circle cx="107.6" cy="411.2" r="2.0" class="b"/><circle cx="113.8" cy="378.0" r="2.0" class="b"/><circle cx="115.4" cy="403.7" r="2.0" class="b"/><circle cx="98.3" cy="367.5" r="2.0" class="b"/><circle cx="104.8" cy="387.6" r="2.0" class="b"/><circle cx="103.6" cy="400.0" r="2.0" class="b"/><circle cx="99.2" cy="403.7" r="2.0" class="b"/><circle cx="118.6" cy="410.9" r="2.0" class="b"/><circle cx="116.0" cy="387.3" r="2.0" class="b"/><circle cx="125.6" cy="400.1" r="2.0" class="b"/><circle cx="120.8" cy="383.8" r="2.0" class="b"/><circle cx="124.0" cy="412.1" r="2.0" class="b"/><circle cx="105.7" cy="401.9" r="2.0" class="b"/><circle cx="93.7" cy="412.4" r="2.0" class="b"/><circle cx="107.1" cy="378.7" r="2.0" class="b"/><circle cx="109.1" cy="410.5" r="2.0" class="b"/><circle cx="107.6" cy="394.4" r="2.0" class="b"/><circle cx="122.5" cy="399.5" r="2.0" class="b"/><circle cx="121.0" cy="412.3" r="2.0" class="b"/><circle cx="126.4" cy="395.6" r="2.0" class="b"/><circle cx="108.8" cy="402.3" r="2.0" class="b"/><circle cx="96.2" cy="350.2" r="2.0" class="b"/><circle cx="122.9" cy="386.9" r="2.0" class="b"/><circle cx="95.4" cy="366.1" r="2.0" class="b"/><circle cx="121.5" cy="407.9" r="2.0" class="b"/><circle cx="107.0" cy="391.7" r="2.0" class="b"/><circle cx="106.6" cy="386.9" r="2.0" class="b"/><circle cx="59.4" cy="405.7" r="2.0" class="b"/><circle cx="104.5" cy="406.7" r="2.0" class="b"/><circle cx="95.3" cy="391.6" r="2.0" class="b"/><circle cx="127.8" cy="395.3" r="2.0" class="b"/><circle cx="116.0" cy="390.3" r="2.0" class="b"/><circle cx="104.0" cy="399.3" r="2.0" class="b"/><circle cx="109.5" cy="389.7" r="2.0" class="b"/><circle cx="121.3" cy="412.7" r="2.0" class="b"/><circle cx="107.2" cy="368.1" r="2.0" class="b"/><circle cx="106.2" cy="410.0" r="2.0" class="b"/><circle cx="115.4" cy="396.5" r="2.0" class="b"/><circle cx="121.9" cy="397.2" r="2.0" class="b"/><circle cx="106.0" cy="402.2" r="2.0" class="b"/><circle cx="93.0" cy="410.9" r="2.0" class="b"/><circle cx="119.4" cy="408.8" r="2.0" class="b"/><circle cx="95.6" cy="406.4" r="2.0" class="b"/><circle cx="97.0" cy="411.5" r="2.0" class="b"/><circle cx="117.3" cy="394.9" r="2.0" class="b"/><circle cx="119.3" cy="389.8" r="2.0" class="b"/><circle cx="115.8" cy="373.2" r="2.0" class="b"/><circle cx="115.4" cy="407.6" r="2.0" class="b"/><circle cx="113.4" cy="408.3" r="2.0" class="b"/><circle cx="101.8" cy="412.0" r="2.0" class="b"/><circle cx="110.0" cy="412.4" r="2.0" class="b"/><circle cx="117.7" cy="411.0" r="2.0" class="b"/><circle cx="97.8" cy="411.4" r="2.0" class="b"/><circle cx="96.7" cy="384.6" r="2.0" class="b"/><circle cx="122.2" cy="403.7" r="2.0" class="b"/><circle cx="124.5" cy="410.7" r="2.0" class="b"/><circle cx="114.0" cy="403.7" r="2.0" class="b"/><circle cx="115.1" cy="403.4" r="2.0" class="b"/><circle cx="115.0" cy="399.2" r="2.0" class="b"/><circle cx="126.6" cy="411.1" r="2.0" class="b"/><circle cx="118.0" cy="409.5" r="2.0" class="b"/><circle cx="96.1" cy="371.0" r="2.0" class="b"/><circle cx="117.5" cy="405.0" r="2.0" class="b"/><circle cx="97.9" cy="375.8" r="2.0" class="b"/><circle cx="93.8" cy="367.3" r="2.0" class="b"/><circle cx="104.1" cy="367.3" r="2.0" class="b"/><circle cx="114.8" cy="369.5" r="2.0" class="b"/><circle cx="104.1" cy="383.5" r="2.0" class="b"/><circle cx="124.4" cy="402.3" r="2.0" class="b"/><circle cx="108.4" cy="407.7" r="2.0" class="b"/><circle cx="104.8" cy="381.7" r="2.0" class="b"/><circle cx="114.1" cy="412.1" r="2.0" class="b"/><circle cx="113.1" cy="404.7" r="2.0" class="b"/><circle cx="122.3" cy="411.6" r="2.0" class="b"/><circle cx="95.7" cy="351.5" r="2.0" class="b"/><circle cx="98.2" cy="385.0" r="2.0" class="b"/><circle cx="105.1" cy="366.5" r="2.0" class="b"/><circle cx="114.9" cy="400.1" r="2.0" class="b"/><circle cx="108.3" cy="409.3" r="2.0" class="b"/><circle cx="106.0" cy="411.1" r="2.0" class="b"/><circle cx="107.4" cy="412.3" r="2.0" class="b"/><circle cx="113.2" cy="368.0" r="2.0" class="b"/><circle cx="58.0" cy="410.8" r="2.0" class="b"/><circle cx="58.7" cy="411.6" r="2.0" class="b"/><circle cx="120.6" cy="398.4" r="2.0" class="b"/><circle cx="110.3" cy="394.7" r="2.0" class="b"/><circle cx="98.3" cy="369.9" r="2.0" class="b"/><circle cx="58.0" cy="402.3" r="2.0" class="b"/><circle cx="106.0" cy="372.7" r="2.0" class="b"/><circle cx="122.9" cy="411.0" r="2.0" class="b"/><circle cx="94.9" cy="366.0" r="2.0" class="b"/><circle cx="106.0" cy="385.0" r="2.0" class="b"/><circle cx="98.0" cy="381.9" r="2.0" class="b"/><circle cx="120.4" cy="399.3" r="2.0" class="b"/><circle cx="102.3" cy="406.4" r="2.0" class="b"/><circle cx="58.1" cy="411.9" r="2.0" class="b"/><circle cx="113.2" cy="410.3" r="2.0" class="b"/><circle cx="95.7" cy="403.0" r="2.0" class="b"/><circle cx="120.4" cy="411.1" r="2.0" class="b"/><circle cx="105.2" cy="409.0" r="2.0" class="b"/><circle cx="109.5" cy="396.5" r="2.0" class="b"/><circle cx="70.3" cy="406.6" r="2.0" class="b"/><circle cx="106.4" cy="410.3" r="2.0" class="b"/><circle cx="59.9" cy="399.3" r="2.0" class="b"/><circle cx="107.4" cy="386.6" r="2.0" class="b"/><circle cx="93.9" cy="390.4" r="2.0" class="b"/><circle cx="115.4" cy="399.6" r="2.0" class="b"/><circle cx="115.0" cy="373.0" r="2.0" class="b"/><circle cx="104.1" cy="410.4" r="2.0" class="b"/><circle cx="121.2" cy="381.2" r="2.0" class="b"/><circle cx="105.8" cy="411.0" r="2.0" class="b"/><circle cx="114.9" cy="395.4" r="2.0" class="b"/><circle cx="106.9" cy="389.7" r="2.0" class="b"/><circle cx="106.2" cy="401.2" r="2.0" class="b"/><circle cx="125.5" cy="394.7" r="2.0" class="b"/><circle cx="121.9" cy="388.5" r="2.0" class="b"/><circle cx="109.2" cy="399.8" r="2.0" class="b"/><circle cx="58.2" cy="410.2" r="2.0" class="b"/><circle cx="94.5" cy="369.1" r="2.0" class="b"/><circle cx="114.9" cy="393.9" r="2.0" class="b"/><circle cx="97.9" cy="384.2" r="2.0" class="b"/><circle cx="106.1" cy="412.4" r="2.0" class="b"/><circle cx="106.4" cy="405.5" r="2.0" class="b"/><circle cx="105.6" cy="394.0" r="2.0" class="b"/><circle cx="114.5" cy="411.9" r="2.0" class="b"/><circle cx="106.1" cy="389.2" r="2.0" class="b"/><circle cx="71.7" cy="347.0" r="2.0" class="b"/><circle cx="107.1" cy="367.7" r="2.0" class="b"/><circle cx="58.9" cy="410.0" r="2.0" class="b"/><circle cx="96.0" cy="389.5" r="2.0" class="b"/><circle cx="113.3" cy="402.6" r="2.0" class="b"/><circle cx="120.4" cy="408.1" r="2.0" class="b"/><circle cx="58.2" cy="404.0" r="2.0" class="b"/><circle cx="105.9" cy="412.4" r="2.0" class="b"/><circle cx="100.7" cy="410.2" r="2.0" class="b"/><circle cx="111.6" cy="393.4" r="2.0" class="b"/><circle cx="124.9" cy="392.7" r="2.0" class="b"/><circle cx="105.1" cy="381.4" r="2.0" class="b"/><circle cx="96.6" cy="365.7" r="2.0" class="b"/><circle cx="114.9" cy="407.0" r="2.0" class="b"/><circle cx="123.1" cy="397.2" r="2.0" class="b"/><circle cx="104.0" cy="389.5" r="2.0" class="b"/><circle cx="120.4" cy="408.4" r="2.0" class="b"/><circle cx="114.3" cy="412.5" r="2.0" class="b"/><circle cx="108.6" cy="406.0" r="2.0" class="b"/><circle cx="97.4" cy="408.1" r="2.0" class="b"/><circle cx="95.1" cy="403.9" r="2.0" class="b"/><circle cx="105.7" cy="376.6" r="2.0" class="b"/><circle cx="115.3" cy="402.1" r="2.0" class="b"/><circle cx="114.6" cy="407.8" r="2.0" class="b"/><circle cx="115.9" cy="411.5" r="2.0" class="b"/><circle cx="117.9" cy="407.0" r="2.0" class="b"/><circle cx="114.2" cy="354.2" r="2.0" class="b"/><circle cx="125.7" cy="401.9" r="2.0" class="b"/><circle cx="95.9" cy="344.5" r="2.0" class="b"/><circle cx="97.8" cy="412.3" r="2.0" class="b"/><circle cx="106.4" cy="411.2" r="2.0" class="b"/><circle cx="119.7" cy="399.7" r="2.0" class="b"/><circle cx="98.9" cy="409.3" r="2.0" class="b"/><circle cx="106.7" cy="388.9" r="2.0" class="b"/><circle cx="121.8" cy="385.5" r="2.0" class="b"/><circle cx="116.6" cy="409.7" r="2.0" class="b"/><circle cx="112.9" cy="381.0" r="2.0" class="b"/><circle cx="108.9" cy="407.1" r="2.0" class="b"/><circle cx="125.4" cy="396.5" r="2.0" class="b"/><circle cx="115.5" cy="393.2" r="2.0" class="b"/><circle cx="96.0" cy="343.8" r="2.0" class="b"/><circle cx="120.8" cy="388.2" r="2.0" class="b"/><circle cx="102.1" cy="408.5" r="2.0" class="b"/><circle cx="96.6" cy="324.4" r="2.0" class="b"/><circle cx="121.2" cy="387.4" r="2.0" class="b"/><circle cx="93.8" cy="399.5" r="2.0" class="b"/><circle cx="97.8" cy="364.5" r="2.0" class="b"/><circle cx="116.7" cy="402.6" r="2.0" class="b"/><circle cx="124.4" cy="395.6" r="2.0" class="b"/><circle cx="110.8" cy="410.9" r="2.0" class="b"/><circle cx="114.9" cy="393.9" r="2.0" class="b"/><circle cx="96.7" cy="373.8" r="2.0" class="b"/><circle cx="59.9" cy="407.5" r="2.0" class="b"/><circle cx="94.9" cy="368.7" r="2.0" class="b"/><circle cx="96.5" cy="376.9" r="2.0" class="b"/><circle cx="115.2" cy="398.9" r="2.0" class="b"/><circle cx="121.7" cy="410.5" r="2.0" class="b"/><circle cx="111.9" cy="410.5" r="2.0" class="b"/><circle cx="115.9" cy="403.5" r="2.0" class="b"/><circle cx="106.6" cy="405.4" r="2.0" class="b"/><circle cx="124.8" cy="400.7" r="2.0" class="b"/><circle cx="93.6" cy="389.9" r="2.0" class="b"/><circle cx="124.5" cy="406.1" r="2.0" class="b"/><circle cx="124.4" cy="409.3" r="2.0" class="b"/><circle cx="114.0" cy="346.0" r="2.0" class="b"/><circle cx="97.5" cy="395.9" r="2.0" class="b"/><circle cx="118.2" cy="389.3" r="2.0" class="b"/><circle cx="119.6" cy="385.5" r="2.0" class="b"/><circle cx="120.6" cy="382.7" r="2.0" class="b"/><circle cx="106.3" cy="390.7" r="2.0" class="b"/><circle cx="115.4" cy="376.9" r="2.0" class="b"/><circle cx="122.6" cy="397.7" r="2.0" class="b"/><circle cx="94.5" cy="388.3" r="2.0" class="b"/><circle cx="106.8" cy="387.7" r="2.0" class="b"/><circle cx="130.3" cy="412.1" r="2.0" class="b"/><circle cx="96.7" cy="400.7" r="2.0" class="b"/><circle cx="104.1" cy="381.1" r="2.0" class="b"/><circle cx="95.2" cy="370.9" r="2.0" class="b"/><circle cx="115.5" cy="400.2" r="2.0" class="b"/><circle cx="113.9" cy="384.2" r="2.0" class="b"/><circle cx="109.3" cy="407.4" r="1.65" class="h"/><circle cx="105.4" cy="401.4" r="1.65" class="h"/><circle cx="107.0" cy="388.6" r="1.65" class="h"/><circle cx="107.5" cy="379.6" r="1.65" class="h"/><circle cx="105.3" cy="398.6" r="1.65" class="h"/><circle cx="107.4" cy="338.9" r="1.65" class="h"/><circle cx="108.1" cy="326.4" r="1.65" class="h"/><circle cx="107.6" cy="343.9" r="1.65" class="h"/><circle cx="106.9" cy="407.5" r="1.65" class="h"/><circle cx="110.3" cy="377.1" r="1.65" class="h"/><circle cx="107.6" cy="392.1" r="1.65" class="h"/><circle cx="105.9" cy="388.7" r="1.65" class="h"/><circle cx="109.1" cy="395.0" r="1.65" class="h"/><circle cx="107.3" cy="402.0" r="1.65" class="h"/><circle cx="107.7" cy="351.1" r="1.65" class="h"/><circle cx="111.3" cy="380.7" r="1.65" class="h"/><circle cx="108.0" cy="381.0" r="1.65" class="h"/><circle cx="138.5" cy="371.3" r="1.65" class="h"/><circle cx="180.1" cy="412.2" r="1.65" class="h"/><circle cx="137.2" cy="379.6" r="2.0" class="b"/><circle cx="153.4" cy="406.4" r="1.65" class="h"/><circle cx="163.4" cy="411.6" r="1.65" class="h"/><circle cx="174.3" cy="409.7" r="2.0" class="b"/><circle cx="172.0" cy="404.7" r="2.0" class="b"/><circle cx="152.8" cy="408.0" r="1.65" class="h"/><circle cx="169.4" cy="375.6" r="2.0" class="b"/><circle cx="175.2" cy="407.3" r="1.65" class="h"/><circle cx="137.9" cy="404.9" r="1.65" class="h"/><circle cx="148.0" cy="392.0" r="1.65" class="h"/><circle cx="172.1" cy="384.7" r="2.0" class="b"/><circle cx="175.0" cy="379.9" r="2.0" class="b"/><circle cx="158.1" cy="412.5" r="1.65" class="h"/><circle cx="174.4" cy="385.2" r="2.0" class="b"/><circle cx="177.1" cy="355.3" r="1.65" class="h"/><circle cx="138.9" cy="343.2" r="1.65" class="h"/><circle cx="159.1" cy="411.7" r="1.65" class="h"/><circle cx="181.0" cy="397.8" r="1.65" class="h"/><circle cx="149.8" cy="410.2" r="1.65" class="h"/><circle cx="166.9" cy="393.5" r="1.65" class="h"/><circle cx="167.3" cy="400.1" r="1.65" class="h"/><circle cx="169.5" cy="374.0" r="1.65" class="h"/><circle cx="138.1" cy="410.5" r="1.65" class="h"/><circle cx="189.0" cy="410.7" r="2.0" class="b"/><circle cx="163.3" cy="411.9" r="1.65" class="h"/><circle cx="170.7" cy="412.4" r="2.0" class="b"/><circle cx="138.6" cy="359.7" r="2.0" class="b"/><circle cx="170.4" cy="368.1" r="1.65" class="h"/><circle cx="139.9" cy="390.9" r="1.65" class="h"/><circle cx="167.3" cy="412.5" r="1.65" class="h"/><circle cx="179.1" cy="382.9" r="1.65" class="h"/><circle cx="177.6" cy="393.9" r="2.0" class="b"/><circle cx="177.0" cy="412.3" r="2.0" class="b"/><circle cx="138.8" cy="365.4" r="2.0" class="b"/><circle cx="154.0" cy="411.4" r="1.65" class="h"/><circle cx="138.5" cy="409.4" r="1.65" class="h"/><circle cx="149.5" cy="400.5" r="1.65" class="h"/><circle cx="148.2" cy="408.4" r="1.65" class="h"/><circle cx="183.2" cy="404.9" r="2.0" class="b"/><circle cx="138.1" cy="410.8" r="2.0" class="b"/><circle cx="189.1" cy="406.7" r="2.0" class="b"/><circle cx="167.7" cy="365.2" r="1.65" class="h"/><circle cx="169.4" cy="384.2" r="2.0" class="b"/><circle cx="172.9" cy="396.2" r="2.0" class="b"/><circle cx="166.4" cy="395.1" r="1.65" class="h"/><circle cx="186.7" cy="405.7" r="2.0" class="b"/><circle cx="141.8" cy="395.5" r="1.65" class="h"/><circle cx="180.2" cy="391.7" r="2.0" class="b"/><circle cx="178.6" cy="397.1" r="1.65" class="h"/><circle cx="175.7" cy="406.0" r="2.0" class="b"/><circle cx="148.2" cy="400.9" r="1.65" class="h"/><circle cx="186.7" cy="412.2" r="2.0" class="b"/><circle cx="176.2" cy="379.4" r="1.65" class="h"/><circle cx="187.9" cy="412.5" r="2.0" class="b"/><circle cx="139.3" cy="362.4" r="2.0" class="b"/><circle cx="168.8" cy="393.5" r="2.0" class="b"/><circle cx="155.1" cy="411.4" r="1.65" class="h"/><circle cx="138.0" cy="375.9" r="1.65" class="h"/><circle cx="185.6" cy="409.4" r="2.0" class="b"/><circle cx="146.5" cy="409.8" r="1.65" class="h"/><circle cx="132.6" cy="411.3" r="2.0" class="b"/><circle cx="146.3" cy="398.7" r="1.65" class="h"/><circle cx="141.5" cy="410.4" r="1.65" class="h"/><circle cx="142.1" cy="410.3" r="1.65" class="h"/><circle cx="167.4" cy="404.5" r="2.0" class="b"/><circle cx="168.1" cy="402.0" r="1.65" class="h"/><circle cx="191.7" cy="412.0" r="2.0" class="b"/><circle cx="176.1" cy="400.7" r="2.0" class="b"/><circle cx="195.4" cy="410.6" r="1.65" class="h"/><circle cx="168.9" cy="378.9" r="1.65" class="h"/><circle cx="168.3" cy="366.9" r="2.0" class="b"/><circle cx="167.1" cy="395.5" r="2.0" class="b"/><circle cx="138.2" cy="401.2" r="1.65" class="h"/><circle cx="175.0" cy="385.7" r="1.65" class="h"/><circle cx="181.9" cy="399.0" r="1.65" class="h"/><circle cx="138.5" cy="399.1" r="1.65" class="h"/><circle cx="196.0" cy="406.1" r="2.0" class="b"/><circle cx="187.2" cy="408.2" r="2.0" class="b"/><circle cx="175.8" cy="398.2" r="2.0" class="b"/><circle cx="138.9" cy="400.4" r="1.65" class="h"/><circle cx="182.2" cy="409.8" r="1.65" class="h"/><circle cx="159.2" cy="410.8" r="1.65" class="h"/><circle cx="150.5" cy="393.8" r="1.65" class="h"/><circle cx="184.0" cy="389.5" r="1.65" class="h"/><circle cx="183.7" cy="400.7" r="1.65" class="h"/><circle cx="154.8" cy="410.1" r="1.65" class="h"/><circle cx="178.7" cy="409.7" r="1.65" class="h"/><circle cx="163.3" cy="410.8" r="1.65" class="h"/><circle cx="184.5" cy="411.5" r="2.0" class="b"/><circle cx="175.9" cy="393.8" r="2.0" class="b"/><circle cx="162.5" cy="409.0" r="1.65" class="h"/><circle cx="177.1" cy="404.7" r="1.65" class="h"/><circle cx="176.2" cy="412.3" r="2.0" class="b"/><circle cx="185.5" cy="411.8" r="2.0" class="b"/><circle cx="139.9" cy="344.0" r="1.65" class="h"/><circle cx="180.5" cy="411.5" r="2.0" class="b"/><circle cx="184.7" cy="412.1" r="2.0" class="b"/><circle cx="143.5" cy="408.9" r="1.65" class="h"/><circle cx="176.8" cy="399.7" r="1.65" class="h"/><circle cx="138.8" cy="411.4" r="1.65" class="h"/><circle cx="168.5" cy="395.9" r="2.0" class="b"/><circle cx="160.8" cy="406.8" r="1.65" class="h"/><circle cx="142.6" cy="411.0" r="1.65" class="h"/><circle cx="145.2" cy="408.4" r="1.65" class="h"/><circle cx="141.2" cy="412.0" r="2.0" class="b"/><circle cx="168.8" cy="374.6" r="1.65" class="h"/><circle cx="160.9" cy="411.0" r="1.65" class="h"/><circle cx="190.2" cy="407.9" r="1.65" class="h"/><circle cx="181.5" cy="394.1" r="1.65" class="h"/><circle cx="142.0" cy="402.2" r="1.65" class="h"/><circle cx="146.3" cy="359.2" r="1.65" class="h"/><circle cx="133.8" cy="411.6" r="2.0" class="b"/><circle cx="189.8" cy="408.0" r="2.0" class="b"/><circle cx="183.7" cy="406.1" r="1.65" class="h"/><circle cx="170.2" cy="411.6" r="2.0" class="b"/><circle cx="141.8" cy="402.8" r="1.65" class="h"/><circle cx="179.4" cy="412.6" r="1.65" class="h"/><circle cx="153.4" cy="409.2" r="1.65" class="h"/><circle cx="169.7" cy="412.4" r="1.65" class="h"/><circle cx="167.6" cy="381.4" r="2.0" class="b"/><circle cx="162.0" cy="411.0" r="2.0" class="b"/><circle cx="150.6" cy="395.6" r="1.65" class="h"/><circle cx="180.5" cy="403.7" r="2.0" class="b"/><circle cx="137.7" cy="397.1" r="2.0" class="b"/><circle cx="186.4" cy="407.7" r="2.0" class="b"/><circle cx="142.5" cy="386.8" r="1.65" class="h"/><circle cx="148.9" cy="410.4" r="1.65" class="h"/><circle cx="174.9" cy="392.8" r="2.0" class="b"/><circle cx="173.9" cy="331.6" r="1.65" class="h"/><circle cx="188.6" cy="409.9" r="2.0" class="b"/><circle cx="144.0" cy="400.4" r="1.65" class="h"/><circle cx="139.2" cy="377.6" r="1.65" class="h"/><circle cx="166.6" cy="376.6" r="1.65" class="h"/><circle cx="148.0" cy="401.9" r="1.65" class="h"/><circle cx="193.9" cy="412.2" r="2.0" class="b"/><circle cx="139.8" cy="406.6" r="1.65" class="h"/><circle cx="168.7" cy="369.1" r="1.65" class="h"/><circle cx="189.1" cy="412.6" r="2.0" class="b"/><circle cx="170.3" cy="406.8" r="1.65" class="h"/><circle cx="147.3" cy="409.4" r="1.65" class="h"/><circle cx="146.2" cy="406.0" r="1.65" class="h"/><circle cx="151.2" cy="411.9" r="1.65" class="h"/><circle cx="153.0" cy="401.1" r="1.65" class="h"/><circle cx="171.9" cy="410.7" r="2.0" class="b"/><circle cx="181.6" cy="409.9" r="2.0" class="b"/><circle cx="155.6" cy="399.7" r="1.65" class="h"/><circle cx="162.3" cy="412.6" r="2.0" class="b"/><circle cx="177.0" cy="385.2" r="2.0" class="b"/><circle cx="160.8" cy="406.7" r="1.65" class="h"/><circle cx="183.2" cy="411.5" r="1.65" class="h"/><circle cx="139.0" cy="338.7" r="2.0" class="b"/><circle cx="177.2" cy="410.7" r="1.65" class="h"/><circle cx="139.7" cy="410.1" r="1.65" class="h"/><circle cx="179.9" cy="408.2" r="1.65" class="h"/><circle cx="162.8" cy="411.0" r="1.65" class="h"/><circle cx="177.8" cy="389.1" r="1.65" class="h"/><circle cx="169.4" cy="357.9" r="1.65" class="h"/><circle cx="141.4" cy="410.1" r="1.65" class="h"/><circle cx="152.4" cy="408.5" r="1.65" class="h"/><circle cx="167.9" cy="352.1" r="2.0" class="b"/><circle cx="184.9" cy="408.7" r="1.65" class="h"/><circle cx="168.8" cy="383.4" r="2.0" class="b"/><circle cx="167.9" cy="371.8" r="2.0" class="b"/><circle cx="173.3" cy="395.4" r="1.65" class="h"/><circle cx="174.5" cy="411.4" r="2.0" class="b"/><circle cx="184.7" cy="411.4" r="1.65" class="h"/><circle cx="167.3" cy="370.4" r="2.0" class="b"/><circle cx="170.6" cy="395.9" r="1.65" class="h"/><circle cx="166.9" cy="381.9" r="2.0" class="b"/><circle cx="181.7" cy="404.5" r="1.65" class="h"/><circle cx="181.1" cy="404.1" r="1.65" class="h"/><circle cx="140.0" cy="373.9" r="1.65" class="h"/><circle cx="168.0" cy="355.9" r="2.0" class="b"/><circle cx="138.4" cy="368.7" r="1.65" class="h"/><circle cx="166.3" cy="410.1" r="1.65" class="h"/><circle cx="191.6" cy="410.0" r="2.0" class="b"/><circle cx="174.2" cy="376.7" r="1.65" class="h"/><circle cx="141.3" cy="405.6" r="1.65" class="h"/><circle cx="139.8" cy="391.6" r="1.65" class="h"/><circle cx="158.5" cy="408.7" r="1.65" class="h"/><circle cx="143.3" cy="400.5" r="1.65" class="h"/><circle cx="173.7" cy="410.0" r="2.0" class="b"/><circle cx="140.1" cy="395.9" r="2.0" class="b"/><circle cx="140.3" cy="387.5" r="2.0" class="b"/><circle cx="155.3" cy="407.5" r="1.65" class="h"/><circle cx="151.1" cy="399.6" r="1.65" class="h"/><circle cx="172.9" cy="412.5" r="2.0" class="b"/><circle cx="140.7" cy="387.8" r="1.65" class="h"/><circle cx="139.6" cy="390.0" r="1.65" class="h"/><circle cx="191.1" cy="408.8" r="1.65" class="h"/><circle cx="176.4" cy="410.7" r="1.65" class="h"/><circle cx="192.4" cy="407.7" r="2.0" class="b"/><circle cx="151.9" cy="401.9" r="1.65" class="h"/><circle cx="188.1" cy="410.6" r="1.65" class="h"/><circle cx="179.8" cy="401.5" r="2.0" class="b"/><circle cx="156.7" cy="410.7" r="1.65" class="h"/><circle cx="138.3" cy="389.5" r="1.65" class="h"/><circle cx="150.5" cy="410.1" r="1.65" class="h"/><circle cx="140.5" cy="390.8" r="2.0" class="b"/><circle cx="166.2" cy="366.7" r="1.65" class="h"/><circle cx="168.0" cy="348.3" r="2.0" class="b"/><circle cx="169.3" cy="360.7" r="2.0" class="b"/><circle cx="135.3" cy="409.6" r="2.0" class="b"/><circle cx="173.1" cy="386.4" r="1.65" class="h"/><circle cx="143.7" cy="402.4" r="1.65" class="h"/><circle cx="169.4" cy="376.7" r="2.0" class="b"/><circle cx="156.1" cy="408.6" r="1.65" class="h"/><circle cx="136.4" cy="411.7" r="1.65" class="h"/><circle cx="181.6" cy="392.2" r="1.65" class="h"/><circle cx="138.6" cy="348.6" r="2.0" class="b"/><circle cx="193.5" cy="411.1" r="2.0" class="b"/><circle cx="176.2" cy="394.1" r="2.0" class="b"/><circle cx="145.4" cy="394.5" r="1.65" class="h"/><circle cx="156.6" cy="409.4" r="1.65" class="h"/><circle cx="195.8" cy="412.2" r="2.0" class="b"/><circle cx="180.9" cy="410.1" r="1.65" class="h"/><circle cx="167.8" cy="403.4" r="2.0" class="b"/><circle cx="175.7" cy="411.3" r="1.65" class="h"/><circle cx="140.9" cy="390.7" r="1.65" class="h"/><circle cx="175.8" cy="410.9" r="2.0" class="b"/><circle cx="179.1" cy="402.5" r="2.0" class="b"/><circle cx="178.4" cy="412.4" r="2.0" class="b"/><circle cx="163.5" cy="411.7" r="1.65" class="h"/><circle cx="171.3" cy="393.7" r="2.0" class="b"/><circle cx="138.8" cy="370.1" r="1.65" class="h"/><circle cx="188.2" cy="412.5" r="1.65" class="h"/><circle cx="155.0" cy="409.7" r="1.65" class="h"/><circle cx="171.3" cy="386.0" r="2.0" class="b"/><circle cx="146.6" cy="402.3" r="1.65" class="h"/><circle cx="176.0" cy="406.7" r="2.0" class="b"/><circle cx="171.8" cy="412.4" r="1.65" class="h"/><circle cx="177.1" cy="383.5" r="1.65" class="h"/><circle cx="170.1" cy="384.5" r="1.65" class="h"/><circle cx="169.6" cy="411.2" r="1.65" class="h"/><circle cx="182.2" cy="408.3" r="1.65" class="h"/><circle cx="178.1" cy="395.2" r="2.0" class="b"/><circle cx="179.6" cy="412.1" r="1.65" class="h"/><circle cx="174.3" cy="411.2" r="1.65" class="h"/><circle cx="193.3" cy="408.7" r="2.0" class="b"/><circle cx="168.9" cy="412.4" r="2.0" class="b"/><circle cx="168.0" cy="344.5" r="2.0" class="b"/><circle cx="163.1" cy="412.0" r="1.65" class="h"/><circle cx="138.5" cy="395.4" r="2.0" class="b"/><circle cx="173.8" cy="399.6" r="1.65" class="h"/><circle cx="153.6" cy="397.6" r="1.65" class="h"/><circle cx="140.7" cy="385.5" r="1.65" class="h"/><circle cx="174.2" cy="401.3" r="2.0" class="b"/><circle cx="181.7" cy="398.2" r="1.65" class="h"/><circle cx="147.9" cy="407.9" r="1.65" class="h"/><circle cx="146.1" cy="404.0" r="1.65" class="h"/><circle cx="140.6" cy="397.1" r="1.65" class="h"/><circle cx="168.6" cy="397.9" r="2.0" class="b"/><circle cx="141.8" cy="398.6" r="1.65" class="h"/><circle cx="153.5" cy="410.5" r="1.65" class="h"/><circle cx="179.8" cy="410.7" r="2.0" class="b"/><circle cx="153.4" cy="411.0" r="1.65" class="h"/><circle cx="172.3" cy="410.2" r="2.0" class="b"/><circle cx="141.1" cy="386.0" r="1.65" class="h"/><circle cx="170.3" cy="408.4" r="2.0" class="b"/><circle cx="166.0" cy="411.3" r="2.0" class="b"/><circle cx="151.0" cy="409.3" r="1.65" class="h"/><circle cx="190.6" cy="409.2" r="2.0" class="b"/><circle cx="147.0" cy="409.3" r="1.65" class="h"/><circle cx="159.2" cy="410.5" r="1.65" class="h"/><circle cx="177.7" cy="411.9" r="1.65" class="h"/><circle cx="177.8" cy="408.7" r="1.65" class="h"/><circle cx="175.9" cy="404.6" r="2.0" class="b"/><circle cx="182.0" cy="408.2" r="2.0" class="b"/><circle cx="178.9" cy="397.8" r="2.0" class="b"/><circle cx="186.5" cy="412.5" r="2.0" class="b"/><circle cx="138.5" cy="358.3" r="2.0" class="b"/><circle cx="166.7" cy="396.5" r="1.65" class="h"/><circle cx="194.6" cy="406.5" r="2.0" class="b"/><circle cx="179.3" cy="403.8" r="1.65" class="h"/><circle cx="168.5" cy="400.0" r="2.0" class="b"/><circle cx="163.2" cy="411.2" r="1.65" class="h"/><circle cx="157.8" cy="406.8" r="1.65" class="h"/><circle cx="145.3" cy="397.9" r="1.65" class="h"/><circle cx="186.3" cy="388.0" r="2.0" class="b"/><circle cx="142.3" cy="404.9" r="1.65" class="h"/><circle cx="188.0" cy="406.5" r="2.0" class="b"/><circle cx="137.2" cy="407.1" r="2.0" class="b"/></g>
<g><circle cx="329.0" cy="106.0" r="2.0" class="b"/><circle cx="315.0" cy="72.2" r="1.65" class="h"/><circle cx="329.4" cy="61.0" r="2.0" class="b"/><circle cx="308.7" cy="72.1" r="2.0" class="b"/><circle cx="350.5" cy="36.6" r="1.65" class="h"/><circle cx="346.2" cy="38.6" r="1.65" class="h"/><circle cx="350.2" cy="115.7" r="2.0" class="b"/><circle cx="325.8" cy="106.1" r="2.0" class="b"/><circle cx="316.4" cy="104.1" r="1.65" class="h"/><circle cx="358.7" cy="68.4" r="1.65" class="h"/><circle cx="287.8" cy="74.6" r="1.65" class="h"/><circle cx="362.2" cy="49.8" r="2.0" class="b"/><circle cx="315.6" cy="54.9" r="1.65" class="h"/><circle cx="290.4" cy="113.8" r="2.0" class="b"/><circle cx="353.3" cy="111.5" r="1.65" class="h"/><circle cx="295.1" cy="95.1" r="1.65" class="h"/><circle cx="355.9" cy="96.1" r="2.0" class="b"/><circle cx="354.7" cy="48.0" r="1.65" class="h"/><circle cx="288.5" cy="36.6" r="2.0" class="b"/><circle cx="302.9" cy="29.2" r="2.0" class="b"/><circle cx="286.1" cy="46.9" r="1.65" class="h"/><circle cx="329.5" cy="111.1" r="1.65" class="h"/><circle cx="305.9" cy="85.1" r="2.0" class="b"/><circle cx="347.7" cy="91.9" r="2.0" class="b"/><circle cx="314.4" cy="33.3" r="1.65" class="h"/><circle cx="328.2" cy="39.6" r="2.0" class="b"/><circle cx="334.2" cy="46.9" r="1.65" class="h"/><circle cx="298.7" cy="56.7" r="2.0" class="b"/><circle cx="290.3" cy="28.0" r="1.65" class="h"/><circle cx="301.0" cy="74.4" r="2.0" class="b"/><circle cx="324.8" cy="102.1" r="2.0" class="b"/><circle cx="296.5" cy="105.9" r="2.0" class="b"/><circle cx="304.9" cy="29.8" r="1.65" class="h"/><circle cx="338.3" cy="55.9" r="1.65" class="h"/><circle cx="323.2" cy="30.0" r="1.65" class="h"/><circle cx="300.5" cy="77.9" r="2.0" class="b"/><circle cx="290.0" cy="108.3" r="1.65" class="h"/><circle cx="296.3" cy="34.7" r="1.65" class="h"/><circle cx="361.8" cy="93.6" r="2.0" class="b"/><circle cx="358.0" cy="119.6" r="1.65" class="h"/><circle cx="318.8" cy="91.7" r="1.65" class="h"/><circle cx="301.3" cy="79.0" r="1.65" class="h"/><circle cx="310.4" cy="72.7" r="2.0" class="b"/><circle cx="326.3" cy="113.6" r="2.0" class="b"/><circle cx="311.3" cy="72.0" r="2.0" class="b"/><circle cx="321.8" cy="66.1" r="1.65" class="h"/><circle cx="341.6" cy="66.2" r="2.0" class="b"/><circle cx="319.2" cy="42.1" r="2.0" class="b"/><circle cx="294.9" cy="86.8" r="1.65" class="h"/><circle cx="300.3" cy="89.1" r="1.65" class="h"/><circle cx="292.8" cy="111.6" r="1.65" class="h"/><circle cx="313.3" cy="112.5" r="2.0" class="b"/><circle cx="328.9" cy="77.8" r="1.65" class="h"/><circle cx="308.6" cy="36.5" r="1.65" class="h"/><circle cx="329.4" cy="114.3" r="1.65" class="h"/><circle cx="299.0" cy="86.3" r="2.0" class="b"/><circle cx="328.2" cy="39.0" r="1.65" class="h"/><circle cx="294.8" cy="79.2" r="2.0" class="b"/><circle cx="286.1" cy="67.5" r="2.0" class="b"/><circle cx="302.3" cy="91.2" r="1.65" class="h"/><circle cx="355.8" cy="56.2" r="2.0" class="b"/><circle cx="343.9" cy="51.8" r="1.65" class="h"/><circle cx="319.2" cy="83.3" r="2.0" class="b"/><circle cx="292.7" cy="56.6" r="1.65" class="h"/><circle cx="299.2" cy="121.3" r="1.65" class="h"/><circle cx="335.3" cy="57.3" r="1.65" class="h"/><circle cx="333.6" cy="81.2" r="2.0" class="b"/><circle cx="299.7" cy="120.2" r="1.65" class="h"/><circle cx="323.8" cy="62.1" r="1.65" class="h"/><circle cx="330.3" cy="75.4" r="1.65" class="h"/><circle cx="298.7" cy="53.8" r="1.65" class="h"/><circle cx="306.6" cy="54.2" r="2.0" class="b"/><circle cx="321.3" cy="109.3" r="1.65" class="h"/><circle cx="339.8" cy="80.5" r="1.65" class="h"/><circle cx="302.8" cy="78.8" r="1.65" class="h"/><circle cx="293.4" cy="47.7" r="1.65" class="h"/><circle cx="344.8" cy="71.7" r="2.0" class="b"/><circle cx="303.6" cy="77.8" r="2.0" class="b"/><circle cx="355.1" cy="46.8" r="1.65" class="h"/><circle cx="345.6" cy="94.8" r="1.65" class="h"/><circle cx="309.9" cy="43.3" r="2.0" class="b"/><circle cx="299.2" cy="32.0" r="2.0" class="b"/><circle cx="365.1" cy="29.8" r="2.0" class="b"/><circle cx="286.8" cy="96.8" r="2.0" class="b"/><circle cx="310.9" cy="69.8" r="1.65" class="h"/><circle cx="333.3" cy="72.7" r="2.0" class="b"/><circle cx="300.3" cy="85.5" r="1.65" class="h"/><circle cx="347.0" cy="48.3" r="1.65" class="h"/><circle cx="290.7" cy="85.7" r="1.65" class="h"/><circle cx="298.9" cy="98.7" r="1.65" class="h"/><circle cx="340.3" cy="60.3" r="1.65" class="h"/><circle cx="315.9" cy="108.2" r="2.0" class="b"/><circle cx="299.6" cy="89.6" r="1.65" class="h"/><circle cx="308.1" cy="41.5" r="1.65" class="h"/><circle cx="312.4" cy="63.1" r="1.65" class="h"/><circle cx="295.3" cy="112.1" r="2.0" class="b"/><circle cx="295.4" cy="81.5" r="1.65" class="h"/><circle cx="324.0" cy="28.7" r="2.0" class="b"/><circle cx="294.6" cy="111.6" r="1.65" class="h"/><circle cx="346.5" cy="123.8" r="1.65" class="h"/><circle cx="285.7" cy="57.5" r="1.65" class="h"/><circle cx="292.2" cy="67.6" r="2.0" class="b"/><circle cx="288.3" cy="85.7" r="2.0" class="b"/><circle cx="288.9" cy="66.3" r="2.0" class="b"/><circle cx="317.9" cy="73.1" r="1.65" class="h"/><circle cx="305.9" cy="91.1" r="2.0" class="b"/><circle cx="341.4" cy="102.8" r="1.65" class="h"/><circle cx="322.2" cy="27.8" r="1.65" class="h"/><circle cx="298.1" cy="122.6" r="2.0" class="b"/><circle cx="333.0" cy="36.9" r="2.0" class="b"/><circle cx="347.5" cy="103.7" r="1.65" class="h"/><circle cx="318.0" cy="32.9" r="2.0" class="b"/><circle cx="338.4" cy="51.0" r="1.65" class="h"/><circle cx="305.8" cy="58.2" r="2.0" class="b"/><circle cx="321.5" cy="59.5" r="2.0" class="b"/><circle cx="352.3" cy="62.1" r="1.65" class="h"/><circle cx="322.1" cy="43.7" r="1.65" class="h"/><circle cx="353.3" cy="31.0" r="2.0" class="b"/><circle cx="305.2" cy="110.0" r="2.0" class="b"/><circle cx="301.9" cy="82.1" r="1.65" class="h"/><circle cx="362.6" cy="84.6" r="1.65" class="h"/><circle cx="312.3" cy="101.6" r="2.0" class="b"/><circle cx="312.8" cy="52.1" r="2.0" class="b"/><circle cx="316.2" cy="102.6" r="1.65" class="h"/><circle cx="347.8" cy="117.1" r="2.0" class="b"/><circle cx="305.7" cy="37.8" r="2.0" class="b"/><circle cx="320.6" cy="101.3" r="2.0" class="b"/><circle cx="337.3" cy="61.3" r="1.65" class="h"/><circle cx="337.6" cy="114.1" r="1.65" class="h"/><circle cx="344.3" cy="122.1" r="1.65" class="h"/><circle cx="319.2" cy="38.7" r="1.65" class="h"/><circle cx="286.2" cy="77.2" r="2.0" class="b"/><circle cx="300.1" cy="111.5" r="1.65" class="h"/><circle cx="311.6" cy="117.4" r="2.0" class="b"/><circle cx="315.0" cy="46.9" r="1.65" class="h"/><circle cx="355.0" cy="57.5" r="1.65" class="h"/><circle cx="352.1" cy="89.4" r="1.65" class="h"/><circle cx="354.7" cy="98.6" r="1.65" class="h"/><circle cx="329.6" cy="70.0" r="2.0" class="b"/><circle cx="314.3" cy="27.8" r="1.65" class="h"/><circle cx="321.0" cy="52.1" r="2.0" class="b"/><circle cx="349.2" cy="88.8" r="2.0" class="b"/><circle cx="321.5" cy="96.2" r="1.65" class="h"/><circle cx="308.2" cy="32.3" r="1.65" class="h"/><circle cx="313.4" cy="81.0" r="2.0" class="b"/><circle cx="360.0" cy="83.7" r="1.65" class="h"/><circle cx="294.1" cy="94.9" r="1.65" class="h"/><circle cx="315.8" cy="120.6" r="2.0" class="b"/><circle cx="329.9" cy="58.5" r="2.0" class="b"/><circle cx="324.7" cy="75.7" r="1.65" class="h"/><circle cx="330.1" cy="51.0" r="2.0" class="b"/><circle cx="316.9" cy="55.0" r="2.0" class="b"/><circle cx="334.1" cy="70.1" r="2.0" class="b"/><circle cx="342.3" cy="87.5" r="1.65" class="h"/><circle cx="316.7" cy="43.4" r="1.65" class="h"/><circle cx="334.1" cy="43.7" r="1.65" class="h"/><circle cx="359.6" cy="75.2" r="2.0" class="b"/><circle cx="290.8" cy="41.3" r="2.0" class="b"/><circle cx="364.3" cy="107.2" r="2.0" class="b"/><circle cx="322.0" cy="74.4" r="1.65" class="h"/><circle cx="324.5" cy="66.3" r="2.0" class="b"/><circle cx="333.9" cy="73.9" r="1.65" class="h"/><circle cx="317.3" cy="108.3" r="2.0" class="b"/><circle cx="294.9" cy="71.5" r="2.0" class="b"/><circle cx="308.8" cy="118.3" r="2.0" class="b"/><circle cx="323.2" cy="37.9" r="1.65" class="h"/><circle cx="318.4" cy="115.0" r="2.0" class="b"/><circle cx="308.9" cy="104.4" r="1.65" class="h"/><circle cx="323.2" cy="74.2" r="1.65" class="h"/><circle cx="330.8" cy="36.0" r="1.65" class="h"/><circle cx="285.8" cy="39.5" r="2.0" class="b"/><circle cx="318.4" cy="121.1" r="1.65" class="h"/><circle cx="299.4" cy="71.7" r="1.65" class="h"/><circle cx="363.5" cy="58.1" r="1.65" class="h"/><circle cx="299.9" cy="88.3" r="1.65" class="h"/><circle cx="310.3" cy="58.3" r="2.0" class="b"/><circle cx="297.6" cy="96.9" r="1.65" class="h"/><circle cx="304.5" cy="100.0" r="2.0" class="b"/><circle cx="328.5" cy="48.4" r="2.0" class="b"/><circle cx="303.6" cy="90.8" r="1.65" class="h"/><circle cx="289.5" cy="67.3" r="2.0" class="b"/><circle cx="327.7" cy="60.8" r="2.0" class="b"/><circle cx="300.4" cy="58.2" r="2.0" class="b"/><circle cx="297.2" cy="86.6" r="1.65" class="h"/><circle cx="299.3" cy="96.0" r="2.0" class="b"/><circle cx="305.2" cy="68.9" r="2.0" class="b"/><circle cx="293.3" cy="91.3" r="1.65" class="h"/><circle cx="303.0" cy="123.3" r="2.0" class="b"/><circle cx="319.4" cy="85.3" r="1.65" class="h"/><circle cx="294.8" cy="34.3" r="1.65" class="h"/><circle cx="334.1" cy="57.9" r="1.65" class="h"/><circle cx="331.0" cy="94.7" r="2.0" class="b"/><circle cx="315.8" cy="56.0" r="2.0" class="b"/><circle cx="347.1" cy="121.5" r="2.0" class="b"/><circle cx="304.2" cy="117.9" r="1.65" class="h"/><circle cx="286.6" cy="69.3" r="1.65" class="h"/><circle cx="325.9" cy="87.6" r="1.65" class="h"/><circle cx="304.1" cy="123.0" r="2.0" class="b"/><circle cx="319.5" cy="92.1" r="2.0" class="b"/><circle cx="308.3" cy="38.9" r="1.65" class="h"/></g>
<g><circle cx="297.0" cy="228.6" r="1.65" class="h"/><circle cx="325.0" cy="195.8" r="1.65" class="h"/><circle cx="350.1" cy="237.0" r="2.0" class="b"/><circle cx="335.3" cy="195.2" r="2.0" class="b"/><circle cx="314.9" cy="199.6" r="1.65" class="h"/><circle cx="329.1" cy="247.1" r="1.65" class="h"/><circle cx="291.4" cy="201.3" r="1.65" class="h"/><circle cx="339.9" cy="234.4" r="2.0" class="b"/><circle cx="352.9" cy="179.3" r="1.65" class="h"/><circle cx="292.7" cy="190.1" r="1.65" class="h"/><circle cx="388.3" cy="181.9" r="2.0" class="b"/><circle cx="322.7" cy="187.2" r="2.0" class="b"/><circle cx="404.9" cy="244.6" r="2.0" class="b"/><circle cx="387.4" cy="234.8" r="1.65" class="h"/><circle cx="338.9" cy="200.8" r="2.0" class="b"/><circle cx="301.8" cy="240.6" r="1.65" class="h"/><circle cx="312.4" cy="223.5" r="1.65" class="h"/><circle cx="336.4" cy="203.8" r="2.0" class="b"/><circle cx="371.9" cy="240.9" r="1.65" class="h"/><circle cx="300.7" cy="219.0" r="1.65" class="h"/><circle cx="296.9" cy="179.8" r="2.0" class="b"/><circle cx="384.1" cy="179.0" r="1.65" class="h"/><circle cx="317.0" cy="252.1" r="1.65" class="h"/><circle cx="306.6" cy="250.9" r="1.65" class="h"/><circle cx="333.3" cy="190.4" r="1.65" class="h"/><circle cx="394.4" cy="195.3" r="2.0" class="b"/><circle cx="332.1" cy="214.0" r="2.0" class="b"/><circle cx="390.2" cy="197.0" r="1.65" class="h"/><circle cx="367.9" cy="229.4" r="1.65" class="h"/><circle cx="315.9" cy="250.7" r="2.0" class="b"/><circle cx="399.1" cy="193.6" r="1.65" class="h"/><circle cx="290.3" cy="253.3" r="2.0" class="b"/><circle cx="293.7" cy="202.6" r="1.65" class="h"/><circle cx="310.4" cy="247.0" r="1.65" class="h"/><circle cx="350.9" cy="245.8" r="1.65" class="h"/><circle cx="383.3" cy="210.0" r="2.0" class="b"/><circle cx="329.0" cy="228.9" r="1.65" class="h"/><circle cx="284.4" cy="175.3" r="1.65" class="h"/><circle cx="372.8" cy="249.9" r="1.65" class="h"/><circle cx="293.4" cy="198.7" r="2.0" class="b"/><circle cx="297.7" cy="199.6" r="2.0" class="b"/><circle cx="340.8" cy="251.0" r="2.0" class="b"/><circle cx="342.4" cy="207.4" r="1.65" class="h"/><circle cx="277.9" cy="224.0" r="1.65" class="h"/><circle cx="367.0" cy="189.0" r="1.65" class="h"/><circle cx="280.2" cy="241.2" r="1.65" class="h"/><circle cx="342.6" cy="237.1" r="1.65" class="h"/><circle cx="359.4" cy="255.7" r="2.0" class="b"/><circle cx="330.2" cy="198.1" r="1.65" class="h"/><circle cx="290.6" cy="183.3" r="1.65" class="h"/><circle cx="316.9" cy="192.3" r="1.65" class="h"/><circle cx="273.9" cy="195.1" r="1.65" class="h"/><circle cx="312.9" cy="247.7" r="2.0" class="b"/><circle cx="395.3" cy="241.1" r="2.0" class="b"/><circle cx="385.9" cy="184.3" r="2.0" class="b"/><circle cx="406.9" cy="260.1" r="2.0" class="b"/><circle cx="273.5" cy="177.9" r="1.65" class="h"/><circle cx="352.3" cy="204.5" r="2.0" class="b"/><circle cx="313.5" cy="211.6" r="2.0" class="b"/><circle cx="328.6" cy="210.9" r="2.0" class="b"/><circle cx="277.3" cy="202.1" r="1.65" class="h"/><circle cx="401.2" cy="174.1" r="1.65" class="h"/><circle cx="405.5" cy="185.3" r="2.0" class="b"/><circle cx="325.2" cy="258.0" r="1.65" class="h"/><circle cx="298.5" cy="206.5" r="1.65" class="h"/><circle cx="374.0" cy="199.2" r="1.65" class="h"/><circle cx="279.4" cy="181.7" r="2.0" class="b"/><circle cx="368.4" cy="210.6" r="1.65" class="h"/><circle cx="301.7" cy="186.6" r="1.65" class="h"/><circle cx="275.5" cy="203.6" r="1.65" class="h"/><circle cx="389.4" cy="180.2" r="2.0" class="b"/><circle cx="396.1" cy="227.0" r="2.0" class="b"/><circle cx="294.4" cy="252.8" r="2.0" class="b"/><circle cx="364.6" cy="232.4" r="2.0" class="b"/><circle cx="317.7" cy="220.3" r="1.65" class="h"/><circle cx="349.7" cy="183.8" r="2.0" class="b"/><circle cx="307.1" cy="240.9" r="1.65" class="h"/><circle cx="343.5" cy="223.9" r="1.65" class="h"/><circle cx="390.7" cy="217.2" r="1.65" class="h"/><circle cx="400.5" cy="194.0" r="1.65" class="h"/><circle cx="334.2" cy="246.1" r="2.0" class="b"/><circle cx="321.3" cy="243.2" r="1.65" class="h"/><circle cx="367.3" cy="250.8" r="2.0" class="b"/><circle cx="382.9" cy="184.1" r="2.0" class="b"/><circle cx="309.7" cy="216.2" r="2.0" class="b"/><circle cx="359.9" cy="183.1" r="1.65" class="h"/><circle cx="303.6" cy="210.8" r="1.65" class="h"/><circle cx="396.6" cy="253.4" r="1.65" class="h"/><circle cx="344.6" cy="237.4" r="2.0" class="b"/><circle cx="387.7" cy="173.1" r="1.65" class="h"/><circle cx="326.8" cy="230.0" r="1.65" class="h"/><circle cx="337.7" cy="228.7" r="1.65" class="h"/><circle cx="400.7" cy="173.2" r="1.65" class="h"/><circle cx="373.4" cy="202.0" r="2.0" class="b"/><circle cx="381.8" cy="253.8" r="1.65" class="h"/><circle cx="397.5" cy="193.0" r="2.0" class="b"/><circle cx="302.7" cy="191.3" r="2.0" class="b"/><circle cx="382.0" cy="237.4" r="2.0" class="b"/><circle cx="286.7" cy="235.3" r="1.65" class="h"/><circle cx="319.8" cy="215.8" r="2.0" class="b"/><circle cx="340.5" cy="224.5" r="2.0" class="b"/><circle cx="361.3" cy="180.1" r="1.65" class="h"/><circle cx="299.5" cy="208.2" r="2.0" class="b"/><circle cx="292.4" cy="233.5" r="2.0" class="b"/><circle cx="362.1" cy="187.1" r="1.65" class="h"/><circle cx="379.8" cy="180.5" r="1.65" class="h"/><circle cx="390.5" cy="204.4" r="1.65" class="h"/><circle cx="357.7" cy="205.9" r="2.0" class="b"/><circle cx="394.9" cy="195.1" r="1.65" class="h"/><circle cx="306.0" cy="191.8" r="1.65" class="h"/><circle cx="385.1" cy="232.2" r="2.0" class="b"/><circle cx="331.3" cy="189.4" r="2.0" class="b"/><circle cx="339.2" cy="198.0" r="2.0" class="b"/><circle cx="288.8" cy="206.7" r="2.0" class="b"/><circle cx="281.0" cy="226.2" r="1.65" class="h"/><circle cx="357.4" cy="216.7" r="1.65" class="h"/><circle cx="283.5" cy="214.6" r="2.0" class="b"/><circle cx="375.8" cy="240.4" r="1.65" class="h"/><circle cx="403.9" cy="229.1" r="1.65" class="h"/><circle cx="359.2" cy="200.5" r="1.65" class="h"/><circle cx="356.4" cy="193.5" r="1.65" class="h"/><circle cx="327.5" cy="241.6" r="2.0" class="b"/><circle cx="281.8" cy="199.0" r="1.65" class="h"/><circle cx="295.4" cy="212.8" r="1.65" class="h"/><circle cx="299.9" cy="234.3" r="1.65" class="h"/><circle cx="286.4" cy="242.8" r="2.0" class="b"/><circle cx="351.7" cy="185.8" r="2.0" class="b"/><circle cx="329.9" cy="185.5" r="1.65" class="h"/><circle cx="276.8" cy="242.5" r="2.0" class="b"/><circle cx="330.6" cy="228.4" r="2.0" class="b"/><circle cx="351.3" cy="180.9" r="1.65" class="h"/><circle cx="376.2" cy="245.7" r="2.0" class="b"/><circle cx="388.6" cy="223.3" r="2.0" class="b"/><circle cx="304.7" cy="227.1" r="2.0" class="b"/><circle cx="337.9" cy="234.2" r="1.65" class="h"/><circle cx="347.9" cy="169.0" r="1.65" class="h"/><circle cx="308.4" cy="226.6" r="1.65" class="h"/><circle cx="278.5" cy="169.3" r="2.0" class="b"/><circle cx="357.0" cy="189.0" r="1.65" class="h"/><circle cx="395.6" cy="187.3" r="1.65" class="h"/><circle cx="358.6" cy="226.3" r="2.0" class="b"/><circle cx="380.4" cy="251.4" r="1.65" class="h"/><circle cx="333.7" cy="182.5" r="2.0" class="b"/><circle cx="296.0" cy="237.7" r="1.65" class="h"/><circle cx="318.5" cy="251.4" r="1.65" class="h"/><circle cx="404.4" cy="204.3" r="1.65" class="h"/><circle cx="339.6" cy="184.7" r="1.65" class="h"/><circle cx="405.0" cy="188.3" r="1.65" class="h"/><circle cx="365.7" cy="176.7" r="2.0" class="b"/><circle cx="294.9" cy="213.1" r="1.65" class="h"/><circle cx="314.5" cy="186.4" r="2.0" class="b"/><circle cx="399.9" cy="237.6" r="2.0" class="b"/><circle cx="326.9" cy="181.2" r="2.0" class="b"/><circle cx="362.5" cy="248.8" r="2.0" class="b"/><circle cx="374.5" cy="218.4" r="1.65" class="h"/><circle cx="316.2" cy="207.2" r="1.65" class="h"/><circle cx="356.1" cy="213.8" r="1.65" class="h"/><circle cx="311.2" cy="183.6" r="1.65" class="h"/><circle cx="305.4" cy="240.7" r="1.65" class="h"/><circle cx="341.3" cy="211.4" r="1.65" class="h"/><circle cx="382.8" cy="246.6" r="1.65" class="h"/><circle cx="361.0" cy="253.6" r="1.65" class="h"/><circle cx="365.3" cy="251.4" r="1.65" class="h"/><circle cx="307.6" cy="217.9" r="1.65" class="h"/><circle cx="360.6" cy="181.8" r="2.0" class="b"/><circle cx="338.4" cy="252.1" r="2.0" class="b"/><circle cx="303.3" cy="199.4" r="2.0" class="b"/><circle cx="336.9" cy="251.1" r="1.65" class="h"/><circle cx="378.0" cy="209.8" r="1.65" class="h"/><circle cx="313.3" cy="223.6" r="1.65" class="h"/><circle cx="323.1" cy="190.7" r="2.0" class="b"/><circle cx="376.4" cy="202.4" r="2.0" class="b"/><circle cx="305.0" cy="205.3" r="1.65" class="h"/><circle cx="369.8" cy="185.5" r="1.65" class="h"/><circle cx="389.1" cy="188.2" r="2.0" class="b"/><circle cx="387.1" cy="253.8" r="1.65" class="h"/><circle cx="393.9" cy="184.3" r="2.0" class="b"/><circle cx="284.8" cy="249.3" r="1.65" class="h"/><circle cx="354.5" cy="188.7" r="1.65" class="h"/><circle cx="383.8" cy="222.9" r="2.0" class="b"/><circle cx="282.0" cy="213.5" r="2.0" class="b"/><circle cx="296.3" cy="252.1" r="1.65" class="h"/><circle cx="300.3" cy="229.2" r="2.0" class="b"/><circle cx="319.5" cy="239.3" r="2.0" class="b"/><circle cx="280.5" cy="202.3" r="2.0" class="b"/><circle cx="381.0" cy="201.2" r="1.65" class="h"/><circle cx="398.1" cy="193.8" r="2.0" class="b"/><circle cx="381.3" cy="239.4" r="1.65" class="h"/><circle cx="288.0" cy="245.6" r="2.0" class="b"/><circle cx="349.2" cy="179.8" r="1.65" class="h"/><circle cx="318.0" cy="255.3" r="1.65" class="h"/><circle cx="386.7" cy="234.9" r="2.0" class="b"/><circle cx="403.4" cy="187.2" r="2.0" class="b"/><circle cx="402.0" cy="261.4" r="2.0" class="b"/><circle cx="346.6" cy="236.6" r="1.65" class="h"/><circle cx="326.0" cy="239.7" r="2.0" class="b"/><circle cx="285.5" cy="224.9" r="1.65" class="h"/><circle cx="304.0" cy="246.5" r="1.65" class="h"/><circle cx="366.4" cy="249.3" r="1.65" class="h"/><circle cx="315.3" cy="243.5" r="1.65" class="h"/><circle cx="369.7" cy="189.1" r="2.0" class="b"/><circle cx="274.7" cy="235.4" r="2.0" class="b"/><circle cx="347.3" cy="204.0" r="1.65" class="h"/><circle cx="393.2" cy="246.3" r="2.0" class="b"/><circle cx="346.0" cy="244.2" r="2.0" class="b"/><circle cx="331.1" cy="178.8" r="1.65" class="h"/><circle cx="402.6" cy="225.4" r="2.0" class="b"/><circle cx="392.2" cy="250.4" r="2.0" class="b"/><circle cx="379.4" cy="243.5" r="1.65" class="h"/><circle cx="343.1" cy="177.4" r="1.65" class="h"/><circle cx="353.3" cy="192.6" r="2.0" class="b"/><circle cx="370.8" cy="205.5" r="1.65" class="h"/><circle cx="332.8" cy="232.7" r="2.0" class="b"/><circle cx="376.9" cy="182.6" r="1.65" class="h"/><circle cx="289.9" cy="222.6" r="1.65" class="h"/><circle cx="321.0" cy="178.1" r="1.65" class="h"/><circle cx="302.2" cy="211.6" r="1.65" class="h"/><circle cx="301.2" cy="205.8" r="1.65" class="h"/><circle cx="378.0" cy="251.6" r="1.65" class="h"/><circle cx="352.8" cy="209.8" r="2.0" class="b"/><circle cx="361.9" cy="182.6" r="1.65" class="h"/><circle cx="319.0" cy="170.9" r="1.65" class="h"/><circle cx="325.9" cy="176.5" r="2.0" class="b"/><circle cx="328.0" cy="182.9" r="1.65" class="h"/><circle cx="322.0" cy="231.7" r="2.0" class="b"/><circle cx="399.6" cy="219.6" r="1.65" class="h"/><circle cx="320.8" cy="178.5" r="1.65" class="h"/><circle cx="355.1" cy="225.6" r="2.0" class="b"/><circle cx="335.6" cy="254.9" r="2.0" class="b"/><circle cx="398.6" cy="244.5" r="1.65" class="h"/><circle cx="347.0" cy="208.2" r="1.65" class="h"/><circle cx="308.7" cy="234.6" r="2.0" class="b"/><circle cx="397.0" cy="183.7" r="2.0" class="b"/><circle cx="378.7" cy="223.2" r="2.0" class="b"/><circle cx="371.1" cy="235.4" r="1.65" class="h"/><circle cx="406.3" cy="245.4" r="2.0" class="b"/><circle cx="405.8" cy="215.2" r="2.0" class="b"/><circle cx="350.5" cy="238.3" r="1.65" class="h"/><circle cx="306.1" cy="258.5" r="1.65" class="h"/><circle cx="342.0" cy="181.1" r="1.65" class="h"/><circle cx="344.9" cy="253.4" r="1.65" class="h"/><circle cx="392.4" cy="237.4" r="2.0" class="b"/><circle cx="323.5" cy="249.6" r="1.65" class="h"/><circle cx="332.0" cy="260.2" r="1.65" class="h"/><circle cx="372.0" cy="215.1" r="1.65" class="h"/><circle cx="370.3" cy="199.9" r="1.65" class="h"/><circle cx="401.5" cy="206.7" r="1.65" class="h"/><circle cx="363.5" cy="200.6" r="1.65" class="h"/><circle cx="368.8" cy="214.2" r="2.0" class="b"/><circle cx="363.9" cy="253.9" r="2.0" class="b"/><circle cx="309.4" cy="242.7" r="2.0" class="b"/><circle cx="366.2" cy="237.3" r="1.65" class="h"/><circle cx="385.5" cy="204.8" r="2.0" class="b"/><circle cx="334.8" cy="182.5" r="2.0" class="b"/><circle cx="354.0" cy="199.3" r="2.0" class="b"/><circle cx="348.4" cy="251.5" r="2.0" class="b"/><circle cx="276.5" cy="210.9" r="1.65" class="h"/><circle cx="311.4" cy="180.3" r="1.65" class="h"/><circle cx="334.4" cy="187.4" r="1.65" class="h"/><circle cx="288.4" cy="200.3" r="2.0" class="b"/><circle cx="289.5" cy="258.9" r="1.65" class="h"/><circle cx="298.0" cy="212.5" r="2.0" class="b"/><circle cx="369.1" cy="182.0" r="1.65" class="h"/><circle cx="345.8" cy="205.6" r="1.65" class="h"/><circle cx="358.2" cy="216.5" r="1.65" class="h"/><circle cx="310.8" cy="182.1" r="1.65" class="h"/><circle cx="348.8" cy="226.2" r="2.0" class="b"/><circle cx="312.1" cy="213.5" r="1.65" class="h"/><circle cx="277.8" cy="236.8" r="1.65" class="h"/><circle cx="344.1" cy="223.6" r="1.65" class="h"/><circle cx="286.0" cy="206.2" r="2.0" class="b"/><circle cx="276.0" cy="245.2" r="1.65" class="h"/><circle cx="287.4" cy="224.0" r="1.65" class="h"/><circle cx="314.2" cy="254.9" r="1.65" class="h"/><circle cx="292.1" cy="240.7" r="1.65" class="h"/><circle cx="392.8" cy="206.5" r="2.0" class="b"/><circle cx="282.6" cy="254.6" r="2.0" class="b"/><circle cx="373.2" cy="241.1" r="1.65" class="h"/><circle cx="279.7" cy="183.5" r="2.0" class="b"/><circle cx="364.4" cy="251.1" r="1.65" class="h"/><circle cx="322.4" cy="213.2" r="1.65" class="h"/><circle cx="324.5" cy="211.7" r="1.65" class="h"/><circle cx="345.5" cy="224.7" r="2.0" class="b"/><circle cx="307.8" cy="226.1" r="1.65" class="h"/><circle cx="275.0" cy="234.7" r="1.65" class="h"/><circle cx="287.6" cy="232.8" r="2.0" class="b"/><circle cx="320.1" cy="185.6" r="2.0" class="b"/><circle cx="355.4" cy="197.5" r="1.65" class="h"/><circle cx="374.9" cy="202.3" r="2.0" class="b"/><circle cx="283.9" cy="246.7" r="2.0" class="b"/><circle cx="324.0" cy="221.0" r="1.65" class="h"/><circle cx="274.4" cy="183.6" r="1.65" class="h"/><circle cx="377.3" cy="180.4" r="1.65" class="h"/><circle cx="294.2" cy="178.5" r="2.0" class="b"/><circle cx="282.7" cy="217.0" r="1.65" class="h"/><circle cx="298.9" cy="180.5" r="1.65" class="h"/><circle cx="375.3" cy="170.9" r="1.65" class="h"/><circle cx="384.9" cy="208.2" r="1.65" class="h"/><circle cx="379.2" cy="173.5" r="1.65" class="h"/><circle cx="391.4" cy="218.1" r="1.65" class="h"/><circle cx="285.2" cy="244.1" r="2.0" class="b"/><circle cx="273.0" cy="207.2" r="1.65" class="h"/><circle cx="279.1" cy="226.8" r="2.0" class="b"/><circle cx="391.7" cy="237.6" r="1.65" class="h"/><circle cx="402.9" cy="185.1" r="1.65" class="h"/><circle cx="363.3" cy="183.3" r="1.65" class="h"/><circle cx="397.5" cy="259.2" r="2.0" class="b"/><circle cx="291.2" cy="183.8" r="1.65" class="h"/><circle cx="355.7" cy="217.8" r="2.0" class="b"/><circle cx="336.8" cy="252.7" r="1.65" class="h"/></g>
<g><circle cx="383.6" cy="317.5" r="1.65" class="h"/><circle cx="375.7" cy="381.8" r="1.65" class="h"/><circle cx="287.4" cy="318.0" r="1.65" class="h"/><circle cx="356.0" cy="347.5" r="1.65" class="h"/><circle cx="342.8" cy="386.4" r="1.65" class="h"/><circle cx="351.2" cy="359.5" r="2.0" class="b"/><circle cx="279.0" cy="321.8" r="1.65" class="h"/><circle cx="308.7" cy="385.9" r="2.0" class="b"/><circle cx="360.2" cy="354.5" r="1.65" class="h"/><circle cx="306.3" cy="411.6" r="2.0" class="b"/><circle cx="321.4" cy="319.5" r="2.0" class="b"/><circle cx="388.8" cy="399.6" r="1.65" class="h"/><circle cx="349.1" cy="321.1" r="1.65" class="h"/><circle cx="410.9" cy="323.3" r="2.0" class="b"/><circle cx="376.7" cy="408.9" r="2.0" class="b"/><circle cx="374.1" cy="400.8" r="1.65" class="h"/><circle cx="411.1" cy="316.4" r="1.65" class="h"/><circle cx="372.9" cy="411.3" r="2.0" class="b"/><circle cx="343.4" cy="318.6" r="1.65" class="h"/><circle cx="293.6" cy="344.9" r="1.65" class="h"/><circle cx="397.4" cy="367.8" r="1.65" class="h"/><circle cx="356.7" cy="317.4" r="1.65" class="h"/><circle cx="385.3" cy="322.3" r="2.0" class="b"/><circle cx="345.4" cy="366.5" r="1.65" class="h"/><circle cx="320.4" cy="350.8" r="2.0" class="b"/><circle cx="401.6" cy="396.5" r="1.65" class="h"/><circle cx="285.1" cy="398.9" r="2.0" class="b"/><circle cx="274.9" cy="411.5" r="2.0" class="b"/><circle cx="393.1" cy="334.4" r="2.0" class="b"/><circle cx="375.4" cy="390.1" r="1.65" class="h"/><circle cx="359.7" cy="319.8" r="1.65" class="h"/><circle cx="401.6" cy="336.7" r="2.0" class="b"/><circle cx="355.4" cy="398.0" r="1.65" class="h"/><circle cx="351.5" cy="368.0" r="1.65" class="h"/><circle cx="278.5" cy="390.2" r="2.0" class="b"/><circle cx="320.4" cy="388.4" r="2.0" class="b"/><circle cx="408.1" cy="371.2" r="1.65" class="h"/><circle cx="293.0" cy="410.7" r="1.65" class="h"/><circle cx="316.8" cy="408.0" r="2.0" class="b"/><circle cx="382.5" cy="342.6" r="1.65" class="h"/><circle cx="387.8" cy="359.5" r="1.65" class="h"/><circle cx="352.6" cy="316.5" r="2.0" class="b"/><circle cx="381.9" cy="350.0" r="2.0" class="b"/><circle cx="286.8" cy="394.6" r="2.0" class="b"/><circle cx="346.2" cy="355.5" r="2.0" class="b"/><circle cx="401.7" cy="318.9" r="1.65" class="h"/><circle cx="325.8" cy="358.9" r="1.65" class="h"/><circle cx="406.5" cy="357.4" r="1.65" class="h"/><circle cx="391.2" cy="374.3" r="1.65" class="h"/><circle cx="283.5" cy="316.7" r="2.0" class="b"/><circle cx="356.8" cy="349.1" r="1.65" class="h"/><circle cx="278.8" cy="355.7" r="2.0" class="b"/><circle cx="355.8" cy="391.9" r="2.0" class="b"/><circle cx="297.4" cy="342.0" r="1.65" class="h"/><circle cx="291.1" cy="348.5" r="1.65" class="h"/><circle cx="356.4" cy="374.4" r="1.65" class="h"/><circle cx="352.2" cy="347.0" r="1.65" class="h"/><circle cx="301.8" cy="320.1" r="2.0" class="b"/><circle cx="348.5" cy="366.5" r="1.65" class="h"/><circle cx="356.1" cy="340.8" r="1.65" class="h"/><circle cx="379.6" cy="411.6" r="1.65" class="h"/><circle cx="342.2" cy="411.7" r="2.0" class="b"/><circle cx="391.0" cy="363.7" r="1.65" class="h"/><circle cx="384.7" cy="349.8" r="1.65" class="h"/><circle cx="277.3" cy="408.9" r="2.0" class="b"/><circle cx="347.1" cy="397.3" r="1.65" class="h"/><circle cx="295.9" cy="331.5" r="1.65" class="h"/><circle cx="395.1" cy="344.2" r="1.65" class="h"/><circle cx="352.0" cy="404.4" r="1.65" class="h"/><circle cx="344.9" cy="318.3" r="1.65" class="h"/><circle cx="314.0" cy="323.3" r="2.0" class="b"/><circle cx="288.1" cy="316.2" r="1.65" class="h"/><circle cx="291.7" cy="316.6" r="1.65" class="h"/><circle cx="399.7" cy="323.5" r="1.65" class="h"/><circle cx="406.3" cy="402.5" r="2.0" class="b"/><circle cx="381.5" cy="409.4" r="1.65" class="h"/><circle cx="322.9" cy="380.5" r="2.0" class="b"/><circle cx="276.6" cy="404.3" r="2.0" class="b"/><circle cx="373.5" cy="355.9" r="2.0" class="b"/><circle cx="354.9" cy="350.0" r="1.65" class="h"/><circle cx="287.4" cy="412.2" r="2.0" class="b"/><circle cx="403.6" cy="332.8" r="1.65" class="h"/><circle cx="403.7" cy="362.5" r="1.65" class="h"/><circle cx="281.4" cy="347.5" r="2.0" class="b"/><circle cx="281.5" cy="380.0" r="2.0" class="b"/><circle cx="317.9" cy="349.2" r="2.0" class="b"/><circle cx="301.3" cy="318.8" r="1.65" class="h"/><circle cx="355.3" cy="403.4" r="1.65" class="h"/><circle cx="382.2" cy="340.9" r="1.65" class="h"/><circle cx="348.2" cy="402.1" r="1.65" class="h"/><circle cx="288.6" cy="384.5" r="1.65" class="h"/><circle cx="347.0" cy="369.0" r="2.0" class="b"/><circle cx="317.6" cy="323.3" r="2.0" class="b"/><circle cx="280.6" cy="343.7" r="2.0" class="b"/><circle cx="384.3" cy="410.0" r="2.0" class="b"/><circle cx="352.5" cy="405.2" r="1.65" class="h"/><circle cx="281.8" cy="407.8" r="1.65" class="h"/><circle cx="375.2" cy="380.1" r="1.65" class="h"/><circle cx="279.6" cy="408.1" r="2.0" class="b"/><circle cx="404.8" cy="380.5" r="1.65" class="h"/><circle cx="349.2" cy="317.7" r="1.65" class="h"/><circle cx="407.6" cy="396.3" r="1.65" class="h"/><circle cx="301.4" cy="366.6" r="2.0" class="b"/><circle cx="289.5" cy="319.3" r="2.0" class="b"/><circle cx="366.2" cy="321.9" r="1.65" class="h"/><circle cx="387.1" cy="344.3" r="2.0" class="b"/><circle cx="292.4" cy="401.5" r="2.0" class="b"/><circle cx="282.9" cy="409.7" r="2.0" class="b"/><circle cx="386.3" cy="408.1" r="2.0" class="b"/><circle cx="294.7" cy="409.9" r="2.0" class="b"/><circle cx="363.2" cy="316.0" r="1.65" class="h"/><circle cx="373.4" cy="412.1" r="1.65" class="h"/><circle cx="291.7" cy="336.5" r="1.65" class="h"/><circle cx="343.3" cy="327.2" r="1.65" class="h"/><circle cx="319.5" cy="398.1" r="1.65" class="h"/><circle cx="378.3" cy="409.7" r="1.65" class="h"/><circle cx="400.9" cy="319.9" r="1.65" class="h"/><circle cx="388.8" cy="350.3" r="1.65" class="h"/><circle cx="349.2" cy="317.3" r="1.65" class="h"/><circle cx="355.6" cy="370.0" r="2.0" class="b"/><circle cx="410.5" cy="327.3" r="1.65" class="h"/><circle cx="344.1" cy="366.4" r="1.65" class="h"/><circle cx="315.7" cy="357.2" r="1.65" class="h"/><circle cx="343.9" cy="324.7" r="1.65" class="h"/><circle cx="383.4" cy="406.1" r="2.0" class="b"/><circle cx="387.0" cy="340.9" r="1.65" class="h"/><circle cx="314.5" cy="323.9" r="2.0" class="b"/><circle cx="377.1" cy="319.5" r="2.0" class="b"/><circle cx="389.0" cy="380.1" r="2.0" class="b"/><circle cx="353.1" cy="393.5" r="1.65" class="h"/><circle cx="372.9" cy="399.1" r="2.0" class="b"/><circle cx="280.0" cy="388.7" r="2.0" class="b"/><circle cx="289.9" cy="373.8" r="1.65" class="h"/><circle cx="364.5" cy="354.8" r="1.65" class="h"/><circle cx="276.0" cy="392.5" r="2.0" class="b"/><circle cx="377.4" cy="318.9" r="1.65" class="h"/><circle cx="384.4" cy="384.9" r="1.65" class="h"/><circle cx="283.5" cy="344.5" r="1.65" class="h"/><circle cx="318.1" cy="339.8" r="2.0" class="b"/><circle cx="288.8" cy="408.9" r="2.0" class="b"/><circle cx="380.6" cy="343.8" r="2.0" class="b"/><circle cx="291.1" cy="392.0" r="2.0" class="b"/><circle cx="297.3" cy="320.5" r="1.65" class="h"/><circle cx="290.1" cy="342.0" r="1.65" class="h"/><circle cx="276.4" cy="317.0" r="2.0" class="b"/><circle cx="367.8" cy="383.3" r="1.65" class="h"/><circle cx="342.8" cy="411.8" r="1.65" class="h"/><circle cx="363.5" cy="376.3" r="1.65" class="h"/><circle cx="287.4" cy="408.4" r="2.0" class="b"/><circle cx="362.3" cy="388.4" r="1.65" class="h"/><circle cx="386.6" cy="338.9" r="1.65" class="h"/><circle cx="375.8" cy="334.5" r="1.65" class="h"/><circle cx="277.4" cy="352.3" r="1.65" class="h"/><circle cx="307.1" cy="330.0" r="1.65" class="h"/><circle cx="348.4" cy="378.8" r="1.65" class="h"/><circle cx="346.9" cy="409.0" r="1.65" class="h"/><circle cx="408.2" cy="379.5" r="1.65" class="h"/><circle cx="381.9" cy="406.8" r="1.65" class="h"/><circle cx="376.0" cy="396.3" r="1.65" class="h"/><circle cx="387.9" cy="407.2" r="1.65" class="h"/><circle cx="289.9" cy="387.9" r="2.0" class="b"/><circle cx="278.1" cy="331.7" r="1.65" class="h"/><circle cx="294.9" cy="316.6" r="1.65" class="h"/><circle cx="360.9" cy="328.8" r="1.65" class="h"/><circle cx="382.8" cy="322.6" r="1.65" class="h"/><circle cx="321.4" cy="317.3" r="1.65" class="h"/><circle cx="349.8" cy="389.1" r="2.0" class="b"/><circle cx="346.3" cy="407.7" r="2.0" class="b"/><circle cx="308.8" cy="320.5" r="1.65" class="h"/><circle cx="289.2" cy="382.0" r="1.65" class="h"/><circle cx="349.5" cy="318.5" r="1.65" class="h"/><circle cx="344.9" cy="408.7" r="1.65" class="h"/><circle cx="277.8" cy="411.8" r="2.0" class="b"/><circle cx="273.6" cy="411.8" r="2.0" class="b"/><circle cx="296.4" cy="330.9" r="1.65" class="h"/><circle cx="383.6" cy="322.0" r="1.65" class="h"/><circle cx="291.4" cy="346.7" r="1.65" class="h"/><circle cx="283.4" cy="377.4" r="2.0" class="b"/><circle cx="386.9" cy="393.5" r="1.65" class="h"/><circle cx="376.8" cy="360.9" r="1.65" class="h"/><circle cx="371.3" cy="323.2" r="1.65" class="h"/><circle cx="405.5" cy="320.4" r="2.0" class="b"/><circle cx="317.2" cy="366.9" r="2.0" class="b"/><circle cx="275.2" cy="382.0" r="2.0" class="b"/><circle cx="346.2" cy="345.0" r="1.65" class="h"/><circle cx="288.3" cy="407.4" r="2.0" class="b"/><circle cx="353.4" cy="403.9" r="2.0" class="b"/><circle cx="355.4" cy="360.5" r="1.65" class="h"/><circle cx="358.7" cy="328.2" r="1.65" class="h"/><circle cx="356.1" cy="330.3" r="2.0" class="b"/><circle cx="282.5" cy="382.8" r="1.65" class="h"/><circle cx="276.3" cy="368.6" r="2.0" class="b"/><circle cx="351.0" cy="338.3" r="1.65" class="h"/><circle cx="298.6" cy="387.3" r="2.0" class="b"/><circle cx="345.8" cy="394.2" r="1.65" class="h"/><circle cx="283.8" cy="344.5" r="2.0" class="b"/><circle cx="384.2" cy="364.9" r="1.65" class="h"/><circle cx="381.0" cy="362.3" r="2.0" class="b"/><circle cx="327.2" cy="391.4" r="1.65" class="h"/><circle cx="277.8" cy="318.0" r="1.65" class="h"/><circle cx="320.3" cy="399.3" r="1.65" class="h"/><circle cx="413.0" cy="316.5" r="2.0" class="b"/><circle cx="362.7" cy="321.7" r="1.65" class="h"/><circle cx="353.9" cy="402.7" r="1.65" class="h"/><circle cx="387.4" cy="377.1" r="1.65" class="h"/><circle cx="317.4" cy="381.5" r="1.65" class="h"/><circle cx="346.5" cy="396.8" r="1.65" class="h"/><circle cx="351.2" cy="365.7" r="1.65" class="h"/><circle cx="309.0" cy="369.9" r="1.65" class="h"/><circle cx="315.5" cy="393.3" r="1.65" class="h"/><circle cx="351.3" cy="319.3" r="2.0" class="b"/><circle cx="388.0" cy="395.1" r="1.65" class="h"/><circle cx="406.2" cy="373.2" r="2.0" class="b"/><circle cx="273.1" cy="393.5" r="2.0" class="b"/><circle cx="366.9" cy="322.1" r="1.65" class="h"/><circle cx="314.0" cy="385.6" r="1.65" class="h"/><circle cx="406.1" cy="381.8" r="2.0" class="b"/><circle cx="374.3" cy="354.6" r="1.65" class="h"/><circle cx="346.0" cy="398.4" r="1.65" class="h"/><circle cx="411.5" cy="344.0" r="2.0" class="b"/><circle cx="379.1" cy="319.1" r="2.0" class="b"/><circle cx="395.3" cy="320.1" r="1.65" class="h"/><circle cx="348.4" cy="392.2" r="1.65" class="h"/><circle cx="298.7" cy="316.9" r="1.65" class="h"/><circle cx="287.4" cy="375.3" r="2.0" class="b"/><circle cx="385.1" cy="325.4" r="2.0" class="b"/><circle cx="379.9" cy="376.8" r="2.0" class="b"/><circle cx="289.5" cy="382.7" r="1.65" class="h"/><circle cx="285.5" cy="330.5" r="1.65" class="h"/><circle cx="369.5" cy="335.3" r="1.65" class="h"/><circle cx="281.1" cy="378.1" r="2.0" class="b"/><circle cx="328.8" cy="345.7" r="1.65" class="h"/><circle cx="384.2" cy="383.5" r="1.65" class="h"/><circle cx="294.3" cy="364.0" r="1.65" class="h"/><circle cx="351.6" cy="327.8" r="1.65" class="h"/><circle cx="384.9" cy="354.5" r="1.65" class="h"/><circle cx="379.3" cy="368.1" r="1.65" class="h"/><circle cx="290.5" cy="395.2" r="2.0" class="b"/><circle cx="357.3" cy="381.6" r="2.0" class="b"/><circle cx="322.3" cy="373.9" r="1.65" class="h"/><circle cx="378.7" cy="367.0" r="2.0" class="b"/><circle cx="303.0" cy="352.8" r="1.65" class="h"/><circle cx="291.6" cy="400.9" r="2.0" class="b"/><circle cx="401.8" cy="351.5" r="1.65" class="h"/><circle cx="376.6" cy="408.9" r="2.0" class="b"/><circle cx="331.1" cy="318.4" r="1.65" class="h"/><circle cx="386.1" cy="355.4" r="1.65" class="h"/><circle cx="377.2" cy="382.3" r="2.0" class="b"/><circle cx="389.9" cy="319.5" r="1.65" class="h"/><circle cx="281.2" cy="342.5" r="2.0" class="b"/><circle cx="295.9" cy="317.8" r="1.65" class="h"/><circle cx="367.8" cy="379.4" r="1.65" class="h"/><circle cx="373.9" cy="407.2" r="2.0" class="b"/><circle cx="301.7" cy="392.1" r="1.65" class="h"/><circle cx="376.8" cy="346.4" r="2.0" class="b"/><circle cx="354.0" cy="400.8" r="1.65" class="h"/><circle cx="345.1" cy="379.2" r="1.65" class="h"/><circle cx="383.2" cy="321.4" r="1.65" class="h"/><circle cx="408.0" cy="396.6" r="2.0" class="b"/><circle cx="330.6" cy="394.8" r="1.65" class="h"/><circle cx="388.0" cy="319.3" r="1.65" class="h"/><circle cx="369.2" cy="363.9" r="1.65" class="h"/><circle cx="278.0" cy="407.0" r="2.0" class="b"/><circle cx="289.8" cy="340.8" r="1.65" class="h"/><circle cx="348.4" cy="367.8" r="1.65" class="h"/><circle cx="398.5" cy="352.9" r="1.65" class="h"/><circle cx="411.6" cy="318.4" r="1.65" class="h"/><circle cx="382.3" cy="342.1" r="1.65" class="h"/><circle cx="377.5" cy="361.0" r="2.0" class="b"/><circle cx="361.9" cy="363.7" r="1.65" class="h"/><circle cx="358.4" cy="356.2" r="1.65" class="h"/><circle cx="294.8" cy="382.7" r="1.65" class="h"/><circle cx="352.4" cy="366.6" r="1.65" class="h"/><circle cx="279.8" cy="354.1" r="1.65" class="h"/><circle cx="343.5" cy="407.4" r="2.0" class="b"/><circle cx="316.9" cy="404.2" r="1.65" class="h"/><circle cx="353.9" cy="318.4" r="1.65" class="h"/><circle cx="401.0" cy="327.2" r="1.65" class="h"/><circle cx="343.6" cy="409.4" r="2.0" class="b"/><circle cx="381.1" cy="365.0" r="1.65" class="h"/><circle cx="298.4" cy="341.1" r="1.65" class="h"/><circle cx="388.4" cy="321.7" r="1.65" class="h"/><circle cx="357.1" cy="316.2" r="1.65" class="h"/><circle cx="283.2" cy="333.7" r="1.65" class="h"/><circle cx="281.9" cy="383.1" r="1.65" class="h"/><circle cx="350.6" cy="357.2" r="1.65" class="h"/><circle cx="273.7" cy="377.4" r="2.0" class="b"/><circle cx="297.1" cy="379.8" r="1.65" class="h"/><circle cx="296.8" cy="396.6" r="2.0" class="b"/><circle cx="285.0" cy="346.5" r="1.65" class="h"/><circle cx="378.1" cy="338.4" r="2.0" class="b"/><circle cx="355.5" cy="369.2" r="2.0" class="b"/><circle cx="364.1" cy="411.3" r="2.0" class="b"/><circle cx="342.7" cy="354.1" r="2.0" class="b"/><circle cx="346.8" cy="339.8" r="2.0" class="b"/><circle cx="378.7" cy="369.1" r="1.65" class="h"/><circle cx="382.3" cy="357.3" r="1.65" class="h"/><circle cx="402.1" cy="316.4" r="1.65" class="h"/><circle cx="281.0" cy="397.5" r="2.0" class="b"/><circle cx="302.7" cy="410.8" r="2.0" class="b"/><circle cx="354.4" cy="344.9" r="2.0" class="b"/><circle cx="356.9" cy="361.6" r="2.0" class="b"/><circle cx="406.6" cy="318.2" r="2.0" class="b"/><circle cx="377.8" cy="320.6" r="1.65" class="h"/><circle cx="298.4" cy="410.9" r="1.65" class="h"/><circle cx="281.1" cy="380.6" r="2.0" class="b"/><circle cx="292.2" cy="331.2" r="1.65" class="h"/><circle cx="362.5" cy="377.3" r="1.65" class="h"/><circle cx="353.5" cy="405.0" r="2.0" class="b"/><circle cx="349.6" cy="410.8" r="2.0" class="b"/><circle cx="329.4" cy="323.0" r="1.65" class="h"/><circle cx="372.9" cy="407.3" r="2.0" class="b"/><circle cx="305.0" cy="320.0" r="1.65" class="h"/><circle cx="387.3" cy="352.4" r="2.0" class="b"/><circle cx="292.8" cy="328.1" r="1.65" class="h"/><circle cx="282.5" cy="410.7" r="2.0" class="b"/><circle cx="293.5" cy="334.5" r="1.65" class="h"/><circle cx="373.4" cy="402.1" r="1.65" class="h"/><circle cx="280.8" cy="364.9" r="2.0" class="b"/><circle cx="346.8" cy="360.5" r="1.65" class="h"/><circle cx="391.4" cy="316.1" r="1.65" class="h"/><circle cx="316.6" cy="323.3" r="1.65" class="h"/><circle cx="348.3" cy="317.2" r="1.65" class="h"/><circle cx="355.4" cy="345.5" r="1.65" class="h"/><circle cx="346.9" cy="332.0" r="2.0" class="b"/><circle cx="401.9" cy="365.3" r="1.65" class="h"/><circle cx="289.3" cy="404.2" r="1.65" class="h"/><circle cx="286.7" cy="333.9" r="1.65" class="h"/><circle cx="283.6" cy="322.1" r="1.65" class="h"/><circle cx="361.8" cy="322.1" r="2.0" class="b"/><circle cx="380.0" cy="339.5" r="1.65" class="h"/><circle cx="320.8" cy="348.4" r="2.0" class="b"/><circle cx="376.1" cy="403.4" r="2.0" class="b"/><circle cx="373.4" cy="406.5" r="2.0" class="b"/><circle cx="362.8" cy="395.7" r="1.65" class="h"/><circle cx="391.3" cy="409.0" r="1.65" class="h"/><circle cx="377.7" cy="400.6" r="1.65" class="h"/><circle cx="349.2" cy="378.5" r="1.65" class="h"/><circle cx="384.0" cy="373.7" r="1.65" class="h"/><circle cx="288.9" cy="324.4" r="2.0" class="b"/><circle cx="341.9" cy="395.4" r="1.65" class="h"/><circle cx="387.5" cy="347.2" r="2.0" class="b"/><circle cx="289.8" cy="410.5" r="2.0" class="b"/><circle cx="378.4" cy="321.5" r="1.65" class="h"/><circle cx="402.0" cy="320.1" r="1.65" class="h"/><circle cx="354.4" cy="317.7" r="1.65" class="h"/><circle cx="378.4" cy="319.2" r="2.0" class="b"/><circle cx="278.8" cy="317.0" r="1.65" class="h"/><circle cx="383.2" cy="350.6" r="1.65" class="h"/><circle cx="286.0" cy="331.7" r="1.65" class="h"/><circle cx="360.6" cy="359.1" r="2.0" class="b"/><circle cx="388.6" cy="402.2" r="1.65" class="h"/><circle cx="358.0" cy="391.8" r="1.65" class="h"/><circle cx="372.6" cy="329.5" r="2.0" class="b"/><circle cx="395.8" cy="343.2" r="1.65" class="h"/><circle cx="342.7" cy="319.3" r="2.0" class="b"/><circle cx="346.0" cy="403.9" r="1.65" class="h"/><circle cx="274.6" cy="335.0" r="1.65" class="h"/><circle cx="411.2" cy="410.6" r="1.65" class="h"/><circle cx="377.1" cy="368.1" r="2.0" class="b"/><circle cx="349.5" cy="393.5" r="1.65" class="h"/><circle cx="359.8" cy="317.9" r="2.0" class="b"/><circle cx="399.2" cy="317.3" r="2.0" class="b"/><circle cx="294.8" cy="394.5" r="2.0" class="b"/><circle cx="277.1" cy="357.9" r="2.0" class="b"/><circle cx="388.1" cy="338.7" r="2.0" class="b"/><circle cx="377.6" cy="322.5" r="1.65" class="h"/><circle cx="294.1" cy="352.4" r="2.0" class="b"/><circle cx="411.7" cy="323.1" r="2.0" class="b"/><circle cx="361.6" cy="356.3" r="1.65" class="h"/><circle cx="357.4" cy="340.5" r="2.0" class="b"/><circle cx="383.3" cy="404.2" r="2.0" class="b"/><circle cx="349.9" cy="336.5" r="1.65" class="h"/><circle cx="355.8" cy="393.1" r="1.65" class="h"/><circle cx="348.3" cy="340.7" r="1.65" class="h"/><circle cx="294.1" cy="385.0" r="2.0" class="b"/><circle cx="373.6" cy="400.5" r="1.65" class="h"/><circle cx="356.3" cy="339.4" r="1.65" class="h"/><circle cx="343.9" cy="356.6" r="1.65" class="h"/><circle cx="289.4" cy="318.7" r="1.65" class="h"/><circle cx="282.1" cy="328.1" r="2.0" class="b"/><circle cx="347.6" cy="326.1" r="1.65" class="h"/><circle cx="344.9" cy="363.4" r="1.65" class="h"/><circle cx="385.7" cy="322.6" r="2.0" class="b"/><circle cx="288.5" cy="383.2" r="2.0" class="b"/><circle cx="274.5" cy="407.2" r="1.65" class="h"/><circle cx="347.8" cy="317.8" r="1.65" class="h"/><circle cx="279.1" cy="345.7" r="1.65" class="h"/><circle cx="356.5" cy="334.6" r="1.65" class="h"/><circle cx="315.5" cy="396.0" r="1.65" class="h"/><circle cx="373.0" cy="323.6" r="1.65" class="h"/><circle cx="314.3" cy="319.4" r="1.65" class="h"/><circle cx="356.5" cy="411.7" r="2.0" class="b"/><circle cx="354.4" cy="356.3" r="2.0" class="b"/><circle cx="343.0" cy="412.1" r="1.65" class="h"/><circle cx="404.1" cy="328.6" r="2.0" class="b"/><circle cx="399.2" cy="318.4" r="2.0" class="b"/><circle cx="291.0" cy="407.5" r="2.0" class="b"/><circle cx="327.9" cy="332.0" r="1.65" class="h"/><circle cx="388.3" cy="324.7" r="1.65" class="h"/><circle cx="382.2" cy="319.6" r="1.65" class="h"/><circle cx="376.8" cy="321.1" r="1.65" class="h"/><circle cx="344.0" cy="383.7" r="1.65" class="h"/><circle cx="284.2" cy="360.1" r="2.0" class="b"/><circle cx="363.1" cy="407.3" r="1.65" class="h"/><circle cx="296.8" cy="408.4" r="1.65" class="h"/><circle cx="298.1" cy="405.0" r="2.0" class="b"/><circle cx="349.8" cy="362.9" r="1.65" class="h"/><circle cx="410.8" cy="410.1" r="1.65" class="h"/><circle cx="317.9" cy="375.2" r="1.65" class="h"/><circle cx="296.2" cy="329.1" r="1.65" class="h"/><circle cx="379.6" cy="373.7" r="1.65" class="h"/><circle cx="286.6" cy="412.2" r="2.0" class="b"/><circle cx="278.5" cy="360.8" r="2.0" class="b"/><circle cx="281.3" cy="400.4" r="1.65" class="h"/><circle cx="273.7" cy="318.9" r="1.65" class="h"/><circle cx="291.1" cy="375.2" r="1.65" class="h"/><circle cx="403.8" cy="318.0" r="1.65" class="h"/><circle cx="405.9" cy="343.4" r="1.65" class="h"/><circle cx="278.9" cy="318.9" r="1.65" class="h"/><circle cx="410.0" cy="320.0" r="2.0" class="b"/><circle cx="394.7" cy="402.8" r="2.0" class="b"/><circle cx="277.9" cy="411.1" r="1.65" class="h"/><circle cx="412.4" cy="377.3" r="2.0" class="b"/><circle cx="356.2" cy="344.1" r="1.65" class="h"/><circle cx="386.8" cy="319.6" r="2.0" class="b"/><circle cx="315.9" cy="374.6" r="1.65" class="h"/><circle cx="275.8" cy="328.8" r="1.65" class="h"/><circle cx="344.4" cy="390.3" r="2.0" class="b"/><circle cx="386.9" cy="403.3" r="2.0" class="b"/><circle cx="382.8" cy="401.7" r="2.0" class="b"/><circle cx="276.8" cy="380.8" r="1.65" class="h"/><circle cx="344.0" cy="352.8" r="1.65" class="h"/><circle cx="280.3" cy="344.2" r="2.0" class="b"/><circle cx="377.9" cy="324.7" r="1.65" class="h"/><circle cx="278.8" cy="317.7" r="1.65" class="h"/><circle cx="274.2" cy="378.3" r="2.0" class="b"/><circle cx="272.9" cy="316.6" r="1.65" class="h"/><circle cx="292.1" cy="319.4" r="2.0" class="b"/><circle cx="342.4" cy="409.9" r="2.0" class="b"/><circle cx="374.3" cy="409.1" r="1.65" class="h"/><circle cx="381.6" cy="376.2" r="2.0" class="b"/><circle cx="349.4" cy="410.8" r="1.65" class="h"/><circle cx="367.2" cy="411.2" r="2.0" class="b"/><circle cx="323.3" cy="401.8" r="1.65" class="h"/><circle cx="388.8" cy="360.2" r="1.65" class="h"/><circle cx="297.0" cy="321.5" r="2.0" class="b"/><circle cx="387.7" cy="393.3" r="2.0" class="b"/><circle cx="289.4" cy="384.6" r="1.65" class="h"/><circle cx="280.0" cy="389.3" r="2.0" class="b"/><circle cx="353.3" cy="410.4" r="2.0" class="b"/><circle cx="315.6" cy="335.9" r="1.65" class="h"/><circle cx="413.4" cy="382.5" r="1.65" class="h"/><circle cx="352.4" cy="367.6" r="1.65" class="h"/><circle cx="280.9" cy="316.1" r="1.65" class="h"/><circle cx="388.8" cy="390.4" r="1.65" class="h"/><circle cx="402.7" cy="371.9" r="2.0" class="b"/><circle cx="272.7" cy="319.1" r="1.65" class="h"/><circle cx="377.5" cy="385.7" r="1.65" class="h"/><circle cx="280.9" cy="410.4" r="2.0" class="b"/><circle cx="408.0" cy="373.0" r="2.0" class="b"/><circle cx="319.5" cy="380.8" r="2.0" class="b"/><circle cx="358.9" cy="319.8" r="1.65" class="h"/><circle cx="347.8" cy="363.0" r="2.0" class="b"/><circle cx="274.6" cy="353.4" r="1.65" class="h"/><circle cx="403.0" cy="410.4" r="2.0" class="b"/><circle cx="399.7" cy="363.7" r="1.65" class="h"/><circle cx="384.6" cy="402.8" r="2.0" class="b"/><circle cx="292.4" cy="401.6" r="2.0" class="b"/><circle cx="381.5" cy="324.0" r="2.0" class="b"/><circle cx="283.1" cy="330.8" r="2.0" class="b"/><circle cx="297.4" cy="319.9" r="1.65" class="h"/><circle cx="379.1" cy="406.6" r="1.65" class="h"/><circle cx="351.5" cy="316.2" r="2.0" class="b"/><circle cx="380.4" cy="395.0" r="1.65" class="h"/><circle cx="295.4" cy="357.9" r="2.0" class="b"/><circle cx="377.3" cy="323.5" r="1.65" class="h"/><circle cx="346.9" cy="324.7" r="1.65" class="h"/><circle cx="378.6" cy="383.9" r="2.0" class="b"/><circle cx="294.9" cy="387.0" r="2.0" class="b"/><circle cx="297.6" cy="368.3" r="1.65" class="h"/><circle cx="351.1" cy="354.5" r="1.65" class="h"/><circle cx="367.0" cy="412.2" r="2.0" class="b"/><circle cx="332.8" cy="319.0" r="1.65" class="h"/><circle cx="327.2" cy="366.0" r="1.65" class="h"/><circle cx="284.6" cy="352.4" r="1.65" class="h"/><circle cx="350.6" cy="328.8" r="2.0" class="b"/><circle cx="373.1" cy="384.1" r="1.65" class="h"/><circle cx="408.2" cy="407.7" r="1.65" class="h"/><circle cx="291.9" cy="372.4" r="2.0" class="b"/><circle cx="281.0" cy="342.4" r="2.0" class="b"/><circle cx="379.5" cy="389.6" r="1.65" class="h"/><circle cx="380.2" cy="407.1" r="1.65" class="h"/><circle cx="292.8" cy="395.3" r="2.0" class="b"/><circle cx="273.4" cy="360.4" r="1.65" class="h"/><circle cx="360.3" cy="318.3" r="1.65" class="h"/><circle cx="358.8" cy="317.4" r="1.65" class="h"/><circle cx="317.3" cy="325.4" r="1.65" class="h"/><circle cx="286.0" cy="412.0" r="2.0" class="b"/><circle cx="387.3" cy="320.7" r="1.65" class="h"/><circle cx="299.8" cy="340.8" r="1.65" class="h"/><circle cx="381.5" cy="412.1" r="2.0" class="b"/><circle cx="282.1" cy="360.0" r="2.0" class="b"/><circle cx="355.6" cy="318.1" r="1.65" class="h"/><circle cx="342.4" cy="411.8" r="1.65" class="h"/><circle cx="350.6" cy="408.1" r="1.65" class="h"/><circle cx="273.4" cy="317.7" r="1.65" class="h"/><circle cx="282.4" cy="384.4" r="1.65" class="h"/><circle cx="400.0" cy="408.1" r="1.65" class="h"/><circle cx="329.8" cy="317.2" r="1.65" class="h"/><circle cx="316.7" cy="348.0" r="1.65" class="h"/><circle cx="413.1" cy="316.7" r="2.0" class="b"/><circle cx="284.5" cy="401.7" r="2.0" class="b"/><circle cx="343.2" cy="393.8" r="2.0" class="b"/><circle cx="276.2" cy="348.9" r="2.0" class="b"/><circle cx="274.4" cy="410.9" r="2.0" class="b"/><circle cx="288.4" cy="409.1" r="2.0" class="b"/><circle cx="314.9" cy="343.0" r="1.65" class="h"/><circle cx="291.5" cy="374.4" r="1.65" class="h"/><circle cx="323.1" cy="355.4" r="1.65" class="h"/><circle cx="353.6" cy="375.8" r="2.0" class="b"/><circle cx="403.0" cy="411.3" r="1.65" class="h"/><circle cx="382.5" cy="373.2" r="1.65" class="h"/><circle cx="289.1" cy="409.1" r="2.0" class="b"/><circle cx="349.6" cy="350.7" r="2.0" class="b"/><circle cx="343.5" cy="333.3" r="2.0" class="b"/><circle cx="413.3" cy="320.5" r="2.0" class="b"/><circle cx="354.1" cy="354.0" r="1.65" class="h"/><circle cx="348.4" cy="404.5" r="2.0" class="b"/><circle cx="343.8" cy="403.0" r="2.0" class="b"/><circle cx="286.4" cy="332.1" r="2.0" class="b"/><circle cx="351.8" cy="316.1" r="1.65" class="h"/><circle cx="283.2" cy="319.4" r="1.65" class="h"/><circle cx="349.4" cy="318.7" r="1.65" class="h"/><circle cx="354.0" cy="349.9" r="1.65" class="h"/><circle cx="373.3" cy="386.9" r="1.65" class="h"/><circle cx="356.7" cy="317.5" r="2.0" class="b"/><circle cx="317.7" cy="402.7" r="2.0" class="b"/><circle cx="346.7" cy="364.0" r="1.65" class="h"/><circle cx="325.8" cy="368.7" r="1.65" class="h"/><circle cx="317.6" cy="344.9" r="2.0" class="b"/><circle cx="379.3" cy="323.5" r="1.65" class="h"/><circle cx="290.9" cy="373.6" r="1.65" class="h"/><circle cx="291.7" cy="354.3" r="2.0" class="b"/><circle cx="410.7" cy="330.1" r="2.0" class="b"/><circle cx="284.5" cy="388.9" r="1.65" class="h"/><circle cx="345.3" cy="370.8" r="1.65" class="h"/><circle cx="411.5" cy="376.0" r="2.0" class="b"/><circle cx="407.9" cy="401.2" r="2.0" class="b"/><circle cx="350.4" cy="327.4" r="1.65" class="h"/><circle cx="355.7" cy="354.5" r="2.0" class="b"/><circle cx="283.6" cy="374.4" r="1.65" class="h"/><circle cx="378.2" cy="329.5" r="2.0" class="b"/><circle cx="322.8" cy="318.7" r="2.0" class="b"/><circle cx="381.5" cy="338.5" r="1.65" class="h"/><circle cx="356.7" cy="332.0" r="1.65" class="h"/><circle cx="351.5" cy="322.2" r="1.65" class="h"/><circle cx="359.0" cy="327.8" r="1.65" class="h"/><circle cx="408.8" cy="372.2" r="1.65" class="h"/><circle cx="359.0" cy="317.0" r="1.65" class="h"/><circle cx="411.9" cy="326.1" r="2.0" class="b"/><circle cx="375.0" cy="410.9" r="1.65" class="h"/><circle cx="307.4" cy="396.8" r="2.0" class="b"/><circle cx="377.1" cy="395.8" r="1.65" class="h"/><circle cx="323.2" cy="376.8" r="1.65" class="h"/><circle cx="357.1" cy="382.4" r="1.65" class="h"/><circle cx="346.0" cy="403.8" r="1.65" class="h"/><circle cx="390.3" cy="409.3" r="1.65" class="h"/><circle cx="275.9" cy="389.9" r="2.0" class="b"/><circle cx="408.0" cy="411.2" r="2.0" class="b"/><circle cx="356.1" cy="394.0" r="2.0" class="b"/><circle cx="273.9" cy="375.4" r="1.65" class="h"/><circle cx="287.6" cy="408.2" r="2.0" class="b"/><circle cx="275.2" cy="340.3" r="1.65" class="h"/><circle cx="381.6" cy="390.3" r="1.65" class="h"/><circle cx="273.4" cy="333.9" r="1.65" class="h"/><circle cx="380.2" cy="330.9" r="2.0" class="b"/><circle cx="356.3" cy="356.8" r="2.0" class="b"/><circle cx="274.4" cy="332.0" r="1.65" class="h"/><circle cx="319.9" cy="399.8" r="1.65" class="h"/><circle cx="387.7" cy="322.2" r="2.0" class="b"/><circle cx="296.7" cy="406.1" r="2.0" class="b"/><circle cx="332.5" cy="340.5" r="1.65" class="h"/><circle cx="297.4" cy="326.2" r="1.65" class="h"/><circle cx="401.6" cy="347.2" r="1.65" class="h"/><circle cx="358.0" cy="320.8" r="2.0" class="b"/><circle cx="349.5" cy="395.2" r="1.65" class="h"/><circle cx="317.8" cy="339.7" r="1.65" class="h"/><circle cx="272.8" cy="370.8" r="1.65" class="h"/><circle cx="296.3" cy="338.0" r="1.65" class="h"/><circle cx="307.5" cy="411.9" r="1.65" class="h"/><circle cx="378.6" cy="356.4" r="2.0" class="b"/><circle cx="377.0" cy="389.9" r="2.0" class="b"/><circle cx="285.4" cy="410.4" r="1.65" class="h"/><circle cx="350.5" cy="346.8" r="1.65" class="h"/><circle cx="349.6" cy="404.5" r="1.65" class="h"/><circle cx="376.9" cy="391.1" r="1.65" class="h"/><circle cx="351.5" cy="354.3" r="1.65" class="h"/><circle cx="390.1" cy="408.4" r="1.65" class="h"/><circle cx="334.6" cy="332.2" r="1.65" class="h"/><circle cx="280.7" cy="319.7" r="1.65" class="h"/><circle cx="404.4" cy="331.6" r="1.65" class="h"/><circle cx="358.7" cy="319.9" r="1.65" class="h"/><circle cx="321.4" cy="316.9" r="1.65" class="h"/><circle cx="383.3" cy="327.6" r="1.65" class="h"/><circle cx="399.9" cy="410.6" r="2.0" class="b"/><circle cx="276.4" cy="332.5" r="1.65" class="h"/><circle cx="290.9" cy="340.3" r="1.65" class="h"/><circle cx="275.6" cy="323.3" r="1.65" class="h"/><circle cx="293.1" cy="372.2" r="2.0" class="b"/><circle cx="381.3" cy="338.4" r="1.65" class="h"/><circle cx="379.9" cy="366.8" r="2.0" class="b"/><circle cx="279.5" cy="389.3" r="1.65" class="h"/><circle cx="403.1" cy="339.6" r="2.0" class="b"/><circle cx="349.0" cy="407.4" r="1.65" class="h"/><circle cx="358.4" cy="349.2" r="1.65" class="h"/><circle cx="274.8" cy="356.2" r="2.0" class="b"/><circle cx="316.0" cy="382.3" r="2.0" class="b"/><circle cx="299.0" cy="318.1" r="1.65" class="h"/><circle cx="285.6" cy="402.7" r="2.0" class="b"/><circle cx="409.8" cy="357.2" r="1.65" class="h"/><circle cx="398.2" cy="393.3" r="1.65" class="h"/><circle cx="383.9" cy="383.8" r="1.65" class="h"/><circle cx="354.0" cy="407.8" r="1.65" class="h"/><circle cx="323.1" cy="394.2" r="1.65" class="h"/><circle cx="326.8" cy="394.8" r="1.65" class="h"/><circle cx="354.7" cy="363.8" r="2.0" class="b"/><circle cx="288.2" cy="375.8" r="1.65" class="h"/><circle cx="349.8" cy="320.7" r="1.65" class="h"/><circle cx="347.6" cy="383.4" r="1.65" class="h"/><circle cx="304.5" cy="318.2" r="1.65" class="h"/><circle cx="359.7" cy="321.4" r="1.65" class="h"/><circle cx="370.4" cy="403.6" r="2.0" class="b"/><circle cx="386.3" cy="369.5" r="2.0" class="b"/><circle cx="409.4" cy="317.6" r="2.0" class="b"/><circle cx="296.9" cy="345.2" r="2.0" class="b"/><circle cx="279.0" cy="317.9" r="2.0" class="b"/><circle cx="294.9" cy="384.1" r="2.0" class="b"/><circle cx="345.5" cy="390.4" r="1.65" class="h"/><circle cx="279.1" cy="326.2" r="1.65" class="h"/><circle cx="281.0" cy="377.3" r="2.0" class="b"/><circle cx="345.8" cy="333.7" r="2.0" class="b"/><circle cx="403.3" cy="387.1" r="1.65" class="h"/><circle cx="359.8" cy="366.6" r="2.0" class="b"/><circle cx="305.4" cy="404.4" r="2.0" class="b"/><circle cx="376.4" cy="396.9" r="2.0" class="b"/><circle cx="287.3" cy="376.7" r="1.65" class="h"/><circle cx="355.8" cy="368.4" r="1.65" class="h"/><circle cx="290.0" cy="326.0" r="1.65" class="h"/><circle cx="297.1" cy="411.0" r="2.0" class="b"/><circle cx="351.2" cy="393.8" r="1.65" class="h"/><circle cx="380.4" cy="355.4" r="1.65" class="h"/><circle cx="275.7" cy="403.7" r="2.0" class="b"/><circle cx="375.2" cy="383.0" r="2.0" class="b"/><circle cx="305.2" cy="316.1" r="1.65" class="h"/><circle cx="306.4" cy="370.1" r="1.65" class="h"/><circle cx="356.4" cy="398.2" r="1.65" class="h"/><circle cx="403.7" cy="354.4" r="1.65" class="h"/><circle cx="294.9" cy="372.0" r="1.65" class="h"/><circle cx="389.5" cy="408.7" r="1.65" class="h"/><circle cx="350.7" cy="388.9" r="1.65" class="h"/><circle cx="381.5" cy="347.4" r="2.0" class="b"/><circle cx="274.8" cy="412.3" r="2.0" class="b"/><circle cx="288.2" cy="366.8" r="2.0" class="b"/><circle cx="343.2" cy="368.5" r="2.0" class="b"/><circle cx="379.2" cy="359.7" r="2.0" class="b"/><circle cx="298.1" cy="376.7" r="1.65" class="h"/><circle cx="344.5" cy="378.8" r="1.65" class="h"/><circle cx="273.6" cy="318.5" r="1.65" class="h"/><circle cx="347.4" cy="316.9" r="1.65" class="h"/><circle cx="314.0" cy="364.1" r="1.65" class="h"/><circle cx="344.9" cy="397.3" r="1.65" class="h"/><circle cx="317.5" cy="335.1" r="1.65" class="h"/><circle cx="309.3" cy="409.9" r="1.65" class="h"/><circle cx="350.6" cy="375.6" r="1.65" class="h"/><circle cx="386.6" cy="403.5" r="1.65" class="h"/><circle cx="343.9" cy="409.3" r="2.0" class="b"/><circle cx="357.3" cy="328.7" r="1.65" class="h"/><circle cx="388.5" cy="349.1" r="2.0" class="b"/><circle cx="400.8" cy="360.5" r="1.65" class="h"/><circle cx="356.6" cy="405.9" r="2.0" class="b"/><circle cx="384.7" cy="359.1" r="1.65" class="h"/><circle cx="288.0" cy="345.6" r="2.0" class="b"/><circle cx="319.6" cy="345.9" r="2.0" class="b"/><circle cx="343.6" cy="407.1" r="1.65" class="h"/><circle cx="345.6" cy="350.3" r="1.65" class="h"/><circle cx="357.1" cy="373.3" r="1.65" class="h"/><circle cx="381.6" cy="328.2" r="2.0" class="b"/><circle cx="320.0" cy="398.2" r="2.0" class="b"/><circle cx="285.5" cy="409.5" r="2.0" class="b"/><circle cx="403.1" cy="375.9" r="1.65" class="h"/><circle cx="287.3" cy="369.4" r="1.65" class="h"/><circle cx="347.6" cy="326.2" r="1.65" class="h"/><circle cx="294.4" cy="407.7" r="1.65" class="h"/><circle cx="279.4" cy="377.3" r="2.0" class="b"/><circle cx="355.4" cy="371.8" r="1.65" class="h"/><circle cx="409.3" cy="321.3" r="1.65" class="h"/><circle cx="356.0" cy="363.4" r="1.65" class="h"/><circle cx="346.3" cy="371.5" r="2.0" class="b"/><circle cx="354.9" cy="402.6" r="2.0" class="b"/><circle cx="384.1" cy="388.2" r="1.65" class="h"/><circle cx="309.1" cy="375.7" r="2.0" class="b"/><circle cx="335.3" cy="316.5" r="1.65" class="h"/><circle cx="296.2" cy="329.4" r="1.65" class="h"/><circle cx="286.8" cy="374.7" r="1.65" class="h"/><circle cx="380.5" cy="316.0" r="1.65" class="h"/><circle cx="385.8" cy="364.1" r="1.65" class="h"/><circle cx="377.6" cy="338.6" r="1.65" class="h"/><circle cx="273.7" cy="392.2" r="2.0" class="b"/><circle cx="396.8" cy="379.2" r="1.65" class="h"/><circle cx="297.8" cy="371.2" r="1.65" class="h"/><circle cx="301.9" cy="319.6" r="1.65" class="h"/><circle cx="380.9" cy="319.7" r="1.65" class="h"/><circle cx="273.6" cy="352.2" r="2.0" class="b"/><circle cx="343.5" cy="377.1" r="1.65" class="h"/><circle cx="289.1" cy="328.2" r="1.65" class="h"/><circle cx="405.0" cy="408.8" r="2.0" class="b"/><circle cx="404.4" cy="348.2" r="1.65" class="h"/><circle cx="346.5" cy="380.7" r="2.0" class="b"/><circle cx="345.4" cy="324.7" r="1.65" class="h"/><circle cx="361.9" cy="354.3" r="1.65" class="h"/><circle cx="286.1" cy="383.4" r="2.0" class="b"/><circle cx="376.6" cy="362.1" r="2.0" class="b"/><circle cx="317.3" cy="343.5" r="1.65" class="h"/><circle cx="399.1" cy="408.3" r="2.0" class="b"/><circle cx="359.2" cy="372.4" r="2.0" class="b"/><circle cx="322.9" cy="318.6" r="2.0" class="b"/><circle cx="405.2" cy="320.7" r="1.65" class="h"/><circle cx="354.1" cy="354.9" r="2.0" class="b"/><circle cx="360.4" cy="410.6" r="2.0" class="b"/><circle cx="382.9" cy="411.5" r="1.65" class="h"/><circle cx="280.1" cy="380.3" r="2.0" class="b"/><circle cx="305.8" cy="411.5" r="1.65" class="h"/><circle cx="273.2" cy="391.8" r="2.0" class="b"/><circle cx="297.0" cy="335.9" r="1.65" class="h"/><circle cx="306.7" cy="323.0" r="1.65" class="h"/><circle cx="291.5" cy="390.4" r="1.65" class="h"/><circle cx="351.6" cy="364.8" r="1.65" class="h"/><circle cx="386.7" cy="385.0" r="1.65" class="h"/><circle cx="380.9" cy="376.3" r="1.65" class="h"/><circle cx="413.6" cy="407.6" r="1.65" class="h"/><circle cx="321.0" cy="384.3" r="2.0" class="b"/><circle cx="273.5" cy="409.1" r="1.65" class="h"/><circle cx="402.6" cy="405.4" r="1.65" class="h"/><circle cx="281.4" cy="384.7" r="1.65" class="h"/><circle cx="286.8" cy="374.1" r="1.65" class="h"/><circle cx="295.1" cy="386.4" r="2.0" class="b"/><circle cx="377.1" cy="408.0" r="2.0" class="b"/><circle cx="317.1" cy="317.6" r="1.65" class="h"/><circle cx="357.0" cy="402.5" r="2.0" class="b"/><circle cx="346.2" cy="331.8" r="1.65" class="h"/><circle cx="388.0" cy="410.3" r="1.65" class="h"/><circle cx="278.8" cy="323.3" r="1.65" class="h"/><circle cx="407.5" cy="409.8" r="2.0" class="b"/><circle cx="288.8" cy="316.5" r="1.65" class="h"/><circle cx="358.7" cy="387.8" r="2.0" class="b"/><circle cx="396.5" cy="388.6" r="1.65" class="h"/><circle cx="410.0" cy="376.5" r="1.65" class="h"/><circle cx="319.5" cy="318.1" r="1.65" class="h"/><circle cx="386.1" cy="411.2" r="1.65" class="h"/><circle cx="387.1" cy="322.5" r="2.0" class="b"/><circle cx="382.2" cy="410.7" r="2.0" class="b"/><circle cx="353.7" cy="375.6" r="1.65" class="h"/><circle cx="363.0" cy="348.3" r="1.65" class="h"/><circle cx="375.5" cy="394.4" r="1.65" class="h"/><circle cx="372.4" cy="340.2" r="1.65" class="h"/><circle cx="273.0" cy="360.1" r="2.0" class="b"/><circle cx="322.5" cy="322.2" r="1.65" class="h"/><circle cx="282.7" cy="352.6" r="2.0" class="b"/><circle cx="372.1" cy="353.5" r="2.0" class="b"/><circle cx="355.6" cy="411.1" r="1.65" class="h"/><circle cx="384.0" cy="329.1" r="1.65" class="h"/><circle cx="282.0" cy="345.8" r="2.0" class="b"/><circle cx="375.9" cy="349.3" r="2.0" class="b"/><circle cx="346.2" cy="391.5" r="2.0" class="b"/><circle cx="412.1" cy="335.9" r="1.65" class="h"/><circle cx="411.2" cy="399.2" r="1.65" class="h"/><circle cx="274.1" cy="402.9" r="2.0" class="b"/><circle cx="297.5" cy="345.1" r="2.0" class="b"/><circle cx="376.1" cy="402.8" r="2.0" class="b"/><circle cx="276.7" cy="393.3" r="1.65" class="h"/><circle cx="406.8" cy="400.8" r="1.65" class="h"/><circle cx="275.7" cy="316.5" r="1.65" class="h"/><circle cx="297.1" cy="362.5" r="1.65" class="h"/><circle cx="386.5" cy="379.6" r="1.65" class="h"/><circle cx="274.8" cy="363.6" r="1.65" class="h"/><circle cx="276.9" cy="336.7" r="2.0" class="b"/><circle cx="372.3" cy="373.6" r="1.65" class="h"/><circle cx="413.3" cy="345.8" r="1.65" class="h"/><circle cx="319.4" cy="317.0" r="1.65" class="h"/><circle cx="392.1" cy="407.5" r="1.65" class="h"/><circle cx="297.7" cy="408.4" r="2.0" class="b"/><circle cx="282.5" cy="350.0" r="1.65" class="h"/><circle cx="314.0" cy="353.1" r="1.65" class="h"/><circle cx="288.9" cy="390.7" r="2.0" class="b"/><circle cx="284.1" cy="383.3" r="1.65" class="h"/><circle cx="320.4" cy="367.7" r="1.65" class="h"/><circle cx="281.4" cy="356.0" r="1.65" class="h"/><circle cx="375.8" cy="406.6" r="2.0" class="b"/><circle cx="343.8" cy="351.0" r="1.65" class="h"/><circle cx="350.1" cy="374.2" r="2.0" class="b"/><circle cx="275.1" cy="351.5" r="2.0" class="b"/><circle cx="354.6" cy="363.7" r="1.65" class="h"/><circle cx="404.4" cy="321.9" r="1.65" class="h"/><circle cx="352.8" cy="333.3" r="1.65" class="h"/><circle cx="362.3" cy="379.4" r="1.65" class="h"/><circle cx="400.6" cy="406.0" r="2.0" class="b"/><circle cx="321.1" cy="393.4" r="2.0" class="b"/><circle cx="360.9" cy="319.0" r="1.65" class="h"/><circle cx="344.5" cy="333.0" r="1.65" class="h"/><circle cx="383.2" cy="316.6" r="2.0" class="b"/><circle cx="295.1" cy="400.1" r="2.0" class="b"/><circle cx="350.2" cy="367.2" r="1.65" class="h"/><circle cx="296.4" cy="353.9" r="1.65" class="h"/><circle cx="282.0" cy="386.6" r="2.0" class="b"/><circle cx="375.4" cy="371.6" r="1.65" class="h"/><circle cx="387.6" cy="405.4" r="1.65" class="h"/><circle cx="275.0" cy="397.1" r="1.65" class="h"/><circle cx="316.3" cy="320.5" r="2.0" class="b"/><circle cx="360.2" cy="369.6" r="1.65" class="h"/><circle cx="387.9" cy="410.7" r="1.65" class="h"/><circle cx="350.7" cy="348.7" r="2.0" class="b"/><circle cx="402.6" cy="327.4" r="2.0" class="b"/><circle cx="376.7" cy="330.2" r="1.65" class="h"/><circle cx="352.3" cy="337.1" r="2.0" class="b"/><circle cx="297.7" cy="395.0" r="2.0" class="b"/><circle cx="287.4" cy="405.7" r="1.65" class="h"/><circle cx="377.7" cy="316.9" r="1.65" class="h"/><circle cx="382.5" cy="410.4" r="2.0" class="b"/><circle cx="293.5" cy="411.2" r="2.0" class="b"/><circle cx="398.7" cy="317.8" r="1.65" class="h"/><circle cx="349.2" cy="389.7" r="1.65" class="h"/><circle cx="379.5" cy="400.4" r="1.65" class="h"/><circle cx="348.9" cy="340.1" r="2.0" class="b"/><circle cx="291.8" cy="347.5" r="2.0" class="b"/><circle cx="273.0" cy="407.1" r="2.0" class="b"/><circle cx="376.0" cy="330.0" r="1.65" class="h"/><circle cx="289.8" cy="334.1" r="1.65" class="h"/><circle cx="335.4" cy="389.5" r="1.65" class="h"/><circle cx="325.1" cy="320.5" r="1.65" class="h"/><circle cx="290.6" cy="410.9" r="2.0" class="b"/><circle cx="410.8" cy="350.2" r="2.0" class="b"/><circle cx="353.2" cy="357.9" r="2.0" class="b"/><circle cx="347.6" cy="393.7" r="1.65" class="h"/><circle cx="387.7" cy="365.5" r="1.65" class="h"/><circle cx="382.0" cy="356.1" r="2.0" class="b"/><circle cx="286.0" cy="341.4" r="1.65" class="h"/><circle cx="385.1" cy="349.2" r="1.65" class="h"/><circle cx="393.5" cy="343.3" r="1.65" class="h"/><circle cx="378.3" cy="346.6" r="1.65" class="h"/><circle cx="362.2" cy="373.4" r="2.0" class="b"/><circle cx="360.7" cy="323.9" r="1.65" class="h"/><circle cx="388.1" cy="386.2" r="1.65" class="h"/><circle cx="306.7" cy="331.2" r="1.65" class="h"/><circle cx="277.3" cy="358.4" r="1.65" class="h"/><circle cx="293.3" cy="377.4" r="1.65" class="h"/><circle cx="354.1" cy="373.5" r="1.65" class="h"/><circle cx="322.4" cy="411.2" r="2.0" class="b"/><circle cx="285.6" cy="396.0" r="2.0" class="b"/><circle cx="396.4" cy="409.3" r="1.65" class="h"/><circle cx="386.6" cy="392.6" r="1.65" class="h"/><circle cx="361.8" cy="319.1" r="2.0" class="b"/><circle cx="349.6" cy="382.1" r="2.0" class="b"/><circle cx="352.8" cy="354.7" r="1.65" class="h"/><circle cx="345.0" cy="321.7" r="1.65" class="h"/><circle cx="378.7" cy="411.1" r="1.65" class="h"/><circle cx="302.9" cy="411.6" r="2.0" class="b"/><circle cx="276.9" cy="409.5" r="2.0" class="b"/><circle cx="294.7" cy="409.7" r="2.0" class="b"/><circle cx="291.2" cy="316.8" r="1.65" class="h"/><circle cx="295.0" cy="397.3" r="2.0" class="b"/><circle cx="296.8" cy="390.1" r="2.0" class="b"/><circle cx="277.0" cy="405.8" r="2.0" class="b"/><circle cx="296.3" cy="395.6" r="2.0" class="b"/><circle cx="361.7" cy="353.2" r="1.65" class="h"/><circle cx="282.9" cy="402.5" r="1.65" class="h"/><circle cx="281.1" cy="339.8" r="2.0" class="b"/><circle cx="396.2" cy="317.4" r="1.65" class="h"/><circle cx="385.0" cy="387.9" r="1.65" class="h"/><circle cx="292.7" cy="366.3" r="1.65" class="h"/><circle cx="378.2" cy="369.2" r="1.65" class="h"/><circle cx="278.2" cy="368.6" r="2.0" class="b"/><circle cx="355.5" cy="409.8" r="2.0" class="b"/><circle cx="280.2" cy="410.4" r="2.0" class="b"/><circle cx="314.7" cy="320.4" r="1.65" class="h"/><circle cx="281.3" cy="353.7" r="1.65" class="h"/><circle cx="359.6" cy="407.9" r="2.0" class="b"/><circle cx="287.1" cy="409.3" r="2.0" class="b"/><circle cx="346.9" cy="411.8" r="1.65" class="h"/><circle cx="316.5" cy="352.4" r="1.65" class="h"/><circle cx="273.8" cy="406.0" r="2.0" class="b"/><circle cx="343.2" cy="366.9" r="2.0" class="b"/><circle cx="355.7" cy="400.5" r="1.65" class="h"/><circle cx="408.4" cy="411.8" r="1.65" class="h"/><circle cx="345.6" cy="386.6" r="1.65" class="h"/><circle cx="405.6" cy="410.6" r="2.0" class="b"/><circle cx="321.3" cy="402.6" r="1.65" class="h"/><circle cx="355.5" cy="407.5" r="1.65" class="h"/><circle cx="358.7" cy="325.6" r="2.0" class="b"/><circle cx="407.3" cy="324.3" r="1.65" class="h"/><circle cx="349.0" cy="348.6" r="1.65" class="h"/><circle cx="273.7" cy="363.5" r="2.0" class="b"/><circle cx="411.2" cy="340.7" r="1.65" class="h"/><circle cx="347.3" cy="410.2" r="1.65" class="h"/><circle cx="299.0" cy="316.6" r="1.65" class="h"/><circle cx="383.5" cy="391.4" r="2.0" class="b"/><circle cx="292.6" cy="369.4" r="2.0" class="b"/><circle cx="382.9" cy="371.6" r="1.65" class="h"/><circle cx="316.0" cy="327.3" r="1.65" class="h"/><circle cx="342.2" cy="404.9" r="2.0" class="b"/><circle cx="356.5" cy="410.1" r="2.0" class="b"/><circle cx="389.4" cy="393.7" r="1.65" class="h"/><circle cx="353.2" cy="330.3" r="1.65" class="h"/><circle cx="351.1" cy="325.6" r="1.65" class="h"/><circle cx="384.3" cy="392.6" r="2.0" class="b"/><circle cx="403.6" cy="399.4" r="2.0" class="b"/><circle cx="302.4" cy="387.6" r="1.65" class="h"/><circle cx="347.0" cy="411.0" r="1.65" class="h"/><circle cx="342.0" cy="410.7" r="1.65" class="h"/><circle cx="319.9" cy="375.6" r="1.65" class="h"/><circle cx="369.4" cy="393.0" r="1.65" class="h"/><circle cx="350.8" cy="410.1" r="2.0" class="b"/><circle cx="358.2" cy="339.3" r="2.0" class="b"/><circle cx="387.5" cy="370.8" r="1.65" class="h"/><circle cx="306.6" cy="319.7" r="1.65" class="h"/><circle cx="287.4" cy="412.2" r="2.0" class="b"/><circle cx="350.3" cy="375.2" r="1.65" class="h"/><circle cx="288.2" cy="321.5" r="1.65" class="h"/><circle cx="361.5" cy="334.4" r="1.65" class="h"/><circle cx="395.3" cy="388.7" r="1.65" class="h"/><circle cx="359.3" cy="320.2" r="1.65" class="h"/><circle cx="387.4" cy="392.3" r="1.65" class="h"/><circle cx="381.7" cy="317.3" r="1.65" class="h"/><circle cx="277.6" cy="387.8" r="2.0" class="b"/><circle cx="289.5" cy="319.0" r="2.0" class="b"/><circle cx="372.9" cy="388.4" r="1.65" class="h"/><circle cx="404.6" cy="410.5" r="1.65" class="h"/><circle cx="374.9" cy="359.7" r="1.65" class="h"/><circle cx="306.4" cy="351.5" r="1.65" class="h"/><circle cx="355.5" cy="351.1" r="1.65" class="h"/><circle cx="287.6" cy="364.1" r="1.65" class="h"/><circle cx="291.5" cy="358.5" r="2.0" class="b"/><circle cx="407.8" cy="321.7" r="1.65" class="h"/><circle cx="350.0" cy="320.2" r="1.65" class="h"/><circle cx="280.7" cy="340.7" r="2.0" class="b"/><circle cx="375.7" cy="341.7" r="1.65" class="h"/><circle cx="293.9" cy="405.7" r="2.0" class="b"/><circle cx="278.7" cy="411.6" r="2.0" class="b"/><circle cx="349.6" cy="370.7" r="1.65" class="h"/><circle cx="297.7" cy="316.4" r="1.65" class="h"/><circle cx="362.9" cy="320.9" r="1.65" class="h"/><circle cx="343.4" cy="338.2" r="1.65" class="h"/><circle cx="413.6" cy="377.8" r="1.65" class="h"/><circle cx="294.4" cy="391.7" r="2.0" class="b"/><circle cx="294.2" cy="318.8" r="2.0" class="b"/><circle cx="279.9" cy="350.7" r="2.0" class="b"/><circle cx="315.5" cy="409.2" r="1.65" class="h"/><circle cx="297.5" cy="316.2" r="1.65" class="h"/><circle cx="349.7" cy="402.7" r="2.0" class="b"/><circle cx="343.6" cy="338.4" r="1.65" class="h"/><circle cx="362.3" cy="375.1" r="1.65" class="h"/><circle cx="285.2" cy="379.9" r="2.0" class="b"/><circle cx="357.7" cy="348.9" r="2.0" class="b"/><circle cx="381.1" cy="320.5" r="2.0" class="b"/><circle cx="348.2" cy="398.2" r="1.65" class="h"/><circle cx="348.3" cy="373.2" r="2.0" class="b"/><circle cx="403.9" cy="410.3" r="2.0" class="b"/><circle cx="342.0" cy="350.4" r="1.65" class="h"/><circle cx="297.1" cy="321.5" r="1.65" class="h"/><circle cx="294.7" cy="317.1" r="1.65" class="h"/><circle cx="290.4" cy="366.6" r="1.65" class="h"/><circle cx="377.3" cy="362.3" r="1.65" class="h"/><circle cx="375.8" cy="405.8" r="1.65" class="h"/><circle cx="383.9" cy="388.2" r="2.0" class="b"/><circle cx="377.9" cy="408.5" r="2.0" class="b"/><circle cx="383.1" cy="403.3" r="1.65" class="h"/><circle cx="385.5" cy="337.1" r="2.0" class="b"/><circle cx="375.4" cy="320.3" r="2.0" class="b"/><circle cx="282.0" cy="362.1" r="2.0" class="b"/><circle cx="349.6" cy="405.7" r="2.0" class="b"/><circle cx="407.6" cy="356.0" r="1.65" class="h"/><circle cx="374.2" cy="351.4" r="1.65" class="h"/><circle cx="344.3" cy="316.1" r="1.65" class="h"/><circle cx="379.1" cy="317.2" r="2.0" class="b"/><circle cx="283.8" cy="319.9" r="1.65" class="h"/><circle cx="280.8" cy="320.5" r="1.65" class="h"/><circle cx="281.6" cy="368.2" r="1.65" class="h"/><circle cx="297.2" cy="385.8" r="2.0" class="b"/><circle cx="284.9" cy="393.4" r="2.0" class="b"/><circle cx="293.7" cy="317.1" r="1.65" class="h"/><circle cx="349.5" cy="316.4" r="1.65" class="h"/><circle cx="398.9" cy="397.4" r="1.65" class="h"/><circle cx="287.6" cy="329.6" r="1.65" class="h"/><circle cx="281.1" cy="350.3" r="2.0" class="b"/><circle cx="344.3" cy="407.3" r="1.65" class="h"/><circle cx="274.8" cy="336.7" r="2.0" class="b"/><circle cx="298.2" cy="403.0" r="2.0" class="b"/><circle cx="397.9" cy="374.1" r="1.65" class="h"/><circle cx="281.7" cy="321.3" r="2.0" class="b"/><circle cx="386.2" cy="320.0" r="1.65" class="h"/><circle cx="373.6" cy="348.5" r="2.0" class="b"/><circle cx="355.3" cy="411.4" r="1.65" class="h"/><circle cx="376.2" cy="411.1" r="1.65" class="h"/><circle cx="293.1" cy="381.4" r="1.65" class="h"/><circle cx="297.2" cy="411.3" r="2.0" class="b"/><circle cx="323.0" cy="410.5" r="1.65" class="h"/><circle cx="346.8" cy="319.1" r="2.0" class="b"/><circle cx="350.4" cy="371.6" r="1.65" class="h"/><circle cx="410.1" cy="317.0" r="1.65" class="h"/><circle cx="362.6" cy="318.1" r="2.0" class="b"/><circle cx="343.5" cy="325.2" r="2.0" class="b"/><circle cx="280.2" cy="319.5" r="2.0" class="b"/><circle cx="382.0" cy="411.6" r="2.0" class="b"/><circle cx="281.3" cy="322.7" r="2.0" class="b"/><circle cx="385.3" cy="356.6" r="2.0" class="b"/><circle cx="370.9" cy="378.8" r="1.65" class="h"/><circle cx="349.9" cy="319.7" r="1.65" class="h"/><circle cx="277.5" cy="345.2" r="1.65" class="h"/><circle cx="355.4" cy="337.3" r="1.65" class="h"/><circle cx="292.9" cy="316.2" r="1.65" class="h"/><circle cx="378.3" cy="319.4" r="1.65" class="h"/><circle cx="348.1" cy="363.7" r="1.65" class="h"/><circle cx="345.4" cy="411.1" r="2.0" class="b"/><circle cx="386.4" cy="375.4" r="1.65" class="h"/><circle cx="386.6" cy="332.1" r="1.65" class="h"/><circle cx="381.2" cy="389.2" r="1.65" class="h"/><circle cx="295.6" cy="329.2" r="1.65" class="h"/><circle cx="397.6" cy="363.6" r="1.65" class="h"/><circle cx="315.9" cy="320.7" r="1.65" class="h"/><circle cx="379.7" cy="402.0" r="1.65" class="h"/><circle cx="376.9" cy="408.4" r="1.65" class="h"/><circle cx="307.9" cy="390.6" r="1.65" class="h"/><circle cx="344.2" cy="384.4" r="1.65" class="h"/><circle cx="351.7" cy="328.2" r="1.65" class="h"/><circle cx="282.0" cy="391.7" r="1.65" class="h"/><circle cx="413.5" cy="319.8" r="1.65" class="h"/><circle cx="343.1" cy="328.0" r="1.65" class="h"/><circle cx="279.0" cy="357.3" r="1.65" class="h"/><circle cx="292.3" cy="370.4" r="2.0" class="b"/><circle cx="286.2" cy="382.1" r="1.65" class="h"/><circle cx="319.5" cy="359.1" r="1.65" class="h"/><circle cx="350.1" cy="317.2" r="2.0" class="b"/><circle cx="291.7" cy="325.2" r="2.0" class="b"/><circle cx="275.8" cy="406.8" r="2.0" class="b"/><circle cx="380.7" cy="345.3" r="1.65" class="h"/><circle cx="342.5" cy="398.3" r="1.65" class="h"/><circle cx="348.5" cy="348.2" r="1.65" class="h"/><circle cx="292.4" cy="316.3" r="1.65" class="h"/><circle cx="391.7" cy="321.0" r="2.0" class="b"/><circle cx="281.9" cy="316.6" r="1.65" class="h"/><circle cx="288.4" cy="387.4" r="2.0" class="b"/><circle cx="284.9" cy="393.5" r="2.0" class="b"/><circle cx="366.4" cy="379.5" r="1.65" class="h"/><circle cx="366.3" cy="325.5" r="2.0" class="b"/><circle cx="302.2" cy="343.8" r="1.65" class="h"/><circle cx="383.5" cy="340.8" r="2.0" class="b"/><circle cx="319.6" cy="373.4" r="1.65" class="h"/><circle cx="331.7" cy="345.9" r="1.65" class="h"/><circle cx="304.2" cy="394.0" r="1.65" class="h"/><circle cx="377.9" cy="393.7" r="1.65" class="h"/><circle cx="285.9" cy="326.5" r="1.65" class="h"/><circle cx="378.3" cy="355.6" r="1.65" class="h"/><circle cx="376.8" cy="350.0" r="2.0" class="b"/><circle cx="278.6" cy="411.4" r="2.0" class="b"/><circle cx="294.8" cy="407.4" r="1.65" class="h"/><circle cx="298.1" cy="411.5" r="1.65" class="h"/><circle cx="295.1" cy="340.4" r="1.65" class="h"/><circle cx="405.4" cy="356.3" r="1.65" class="h"/><circle cx="280.8" cy="369.6" r="1.65" class="h"/><circle cx="342.5" cy="333.7" r="2.0" class="b"/><circle cx="397.5" cy="328.4" r="1.65" class="h"/><circle cx="388.3" cy="354.5" r="2.0" class="b"/><circle cx="278.7" cy="397.8" r="1.65" class="h"/><circle cx="281.0" cy="350.6" r="1.65" class="h"/><circle cx="281.0" cy="360.9" r="1.65" class="h"/><circle cx="379.2" cy="318.3" r="1.65" class="h"/><circle cx="288.7" cy="322.5" r="1.65" class="h"/><circle cx="281.2" cy="339.5" r="2.0" class="b"/><circle cx="308.1" cy="405.9" r="1.65" class="h"/><circle cx="314.0" cy="319.9" r="2.0" class="b"/><circle cx="377.7" cy="394.9" r="1.65" class="h"/><circle cx="343.6" cy="369.1" r="2.0" class="b"/><circle cx="407.6" cy="317.0" r="2.0" class="b"/><circle cx="408.4" cy="409.2" r="2.0" class="b"/><circle cx="289.9" cy="317.1" r="2.0" class="b"/><circle cx="296.6" cy="373.8" r="1.65" class="h"/><circle cx="352.3" cy="357.7" r="2.0" class="b"/><circle cx="405.3" cy="398.3" r="1.65" class="h"/><circle cx="284.1" cy="320.3" r="2.0" class="b"/><circle cx="298.7" cy="359.6" r="2.0" class="b"/><circle cx="345.2" cy="324.0" r="2.0" class="b"/><circle cx="383.2" cy="316.9" r="2.0" class="b"/><circle cx="283.2" cy="388.4" r="1.65" class="h"/><circle cx="387.8" cy="340.9" r="1.65" class="h"/><circle cx="355.3" cy="402.6" r="2.0" class="b"/><circle cx="354.1" cy="378.5" r="1.65" class="h"/><circle cx="385.2" cy="411.0" r="1.65" class="h"/><circle cx="348.2" cy="347.5" r="1.65" class="h"/><circle cx="405.1" cy="407.3" r="2.0" class="b"/><circle cx="358.9" cy="367.2" r="1.65" class="h"/><circle cx="276.1" cy="359.1" r="1.65" class="h"/><circle cx="377.8" cy="316.8" r="2.0" class="b"/><circle cx="382.7" cy="411.5" r="1.65" class="h"/><circle cx="385.1" cy="411.6" r="2.0" class="b"/><circle cx="315.7" cy="362.1" r="1.65" class="h"/><circle cx="379.6" cy="343.4" r="1.65" class="h"/><circle cx="359.4" cy="397.3" r="1.65" class="h"/><circle cx="382.2" cy="343.6" r="1.65" class="h"/><circle cx="354.3" cy="329.1" r="2.0" class="b"/><circle cx="348.1" cy="404.7" r="2.0" class="b"/><circle cx="391.0" cy="338.6" r="1.65" class="h"/><circle cx="279.3" cy="411.1" r="1.65" class="h"/><circle cx="376.8" cy="410.4" r="1.65" class="h"/><circle cx="292.7" cy="360.9" r="1.65" class="h"/><circle cx="350.2" cy="350.4" r="2.0" class="b"/><circle cx="350.3" cy="386.9" r="1.65" class="h"/><circle cx="344.0" cy="376.7" r="2.0" class="b"/><circle cx="399.6" cy="329.6" r="2.0" class="b"/><circle cx="356.2" cy="321.2" r="1.65" class="h"/><circle cx="413.1" cy="366.0" r="2.0" class="b"/><circle cx="401.1" cy="374.3" r="1.65" class="h"/><circle cx="343.5" cy="350.1" r="2.0" class="b"/><circle cx="388.6" cy="396.6" r="1.65" class="h"/><circle cx="391.0" cy="320.2" r="1.65" class="h"/><circle cx="277.3" cy="375.2" r="1.65" class="h"/><circle cx="385.2" cy="391.6" r="2.0" class="b"/><circle cx="413.7" cy="383.0" r="1.65" class="h"/><circle cx="279.2" cy="401.9" r="1.65" class="h"/><circle cx="281.7" cy="410.0" r="2.0" class="b"/><circle cx="295.0" cy="398.3" r="1.65" class="h"/><circle cx="369.2" cy="398.6" r="1.65" class="h"/><circle cx="377.8" cy="316.4" r="2.0" class="b"/><circle cx="346.0" cy="318.1" r="1.65" class="h"/></g>
<path d="M450.40 26.90H489.36V28.84H450.40Z M450.40 28.84H489.36V30.78H450.40Z M450.40 30.78H479.62V32.72H450.40Z M450.40 32.72H479.62V34.66H450.40Z M450.40 34.66H489.36V36.60H450.40Z M450.40 36.60H489.36V38.54H450.40Z M450.40 38.54H508.84V40.48H450.40Z M450.40 40.48H479.62V42.42H450.40Z M450.40 42.42H489.36V44.36H450.40Z M450.40 46.30H528.32V48.24H450.40Z M450.40 48.24H469.88V50.18H450.40Z M450.40 50.18H489.36V52.12H450.40Z M450.40 52.12H479.62V54.06H450.40Z M450.40 54.06H499.10V56.00H450.40Z M450.40 56.00H518.58V57.94H450.40Z M450.40 57.94H508.84V59.88H450.40Z M450.40 59.88H489.36V61.82H450.40Z M450.40 61.82H479.62V63.76H450.40Z M450.40 63.76H460.14V65.70H450.40Z M450.40 65.70H518.58V67.64H450.40Z M450.40 67.64H479.62V69.58H450.40Z M450.40 69.58H489.36V71.52H450.40Z M450.40 71.52H528.32V73.46H450.40Z M450.40 73.46H518.58V75.40H450.40Z M450.40 75.40H469.88V77.34H450.40Z M450.40 77.34H508.84V79.28H450.40Z M450.40 79.28H479.62V81.22H450.40Z M450.40 81.22H469.88V83.16H450.40Z M450.40 83.16H489.36V85.10H450.40Z M450.40 85.10H518.58V87.04H450.40Z M450.40 87.04H499.10V88.98H450.40Z M450.40 88.98H489.36V90.92H450.40Z M450.40 90.92H508.84V92.86H450.40Z M450.40 92.86H479.62V94.80H450.40Z M450.40 94.80H499.10V96.74H450.40Z M450.40 96.74H499.10V98.68H450.40Z M450.40 98.68H460.14V100.62H450.40Z M450.40 100.62H489.36V102.56H450.40Z M450.40 102.56H489.36V104.50H450.40Z M450.40 104.50H479.62V106.44H450.40Z M450.40 106.44H499.10V108.38H450.40Z M450.40 108.38H469.88V110.32H450.40Z M450.40 110.32H508.84V112.26H450.40Z M450.40 112.26H499.10V114.20H450.40Z M450.40 114.20H469.88V116.14H450.40Z M450.40 116.14H479.62V118.08H450.40Z M450.40 118.08H469.88V120.02H450.40Z M450.40 120.02H499.10V121.96H450.40Z M450.40 121.96H499.10V123.90H450.40Z" fill="#000"/>
<path d="M450.50 169.60H474.90V171.53H450.50Z M450.50 173.46H474.90V175.38H450.50Z M450.50 175.38H468.80V177.31H450.50Z M450.50 177.31H481.00V179.24H450.50Z M450.50 179.24H517.60V181.17H450.50Z M450.50 181.17H511.50V183.10H450.50Z M450.50 183.10H542.00V185.02H450.50Z M450.50 185.02H499.30V186.95H450.50Z M450.50 186.95H499.30V188.88H450.50Z M450.50 188.88H487.10V190.81H450.50Z M450.50 190.81H474.90V192.74H450.50Z M450.50 192.74H493.20V194.66H450.50Z M450.50 194.66H481.00V196.59H450.50Z M450.50 196.59H468.80V198.52H450.50Z M450.50 198.52H505.40V200.45H450.50Z M450.50 200.45H487.10V202.38H450.50Z M450.50 202.38H499.30V204.30H450.50Z M450.50 204.30H499.30V206.23H450.50Z M450.50 206.23H511.50V208.16H450.50Z M450.50 208.16H468.80V210.09H450.50Z M450.50 210.09H499.30V212.02H450.50Z M450.50 212.02H499.30V213.94H450.50Z M450.50 213.94H493.20V215.87H450.50Z M450.50 215.87H487.10V217.80H450.50Z M450.50 217.80H481.00V219.73H450.50Z M450.50 219.73H468.80V221.66H450.50Z M450.50 221.66H468.80V223.58H450.50Z M450.50 223.58H511.50V225.51H450.50Z M450.50 225.51H505.40V227.44H450.50Z M450.50 227.44H481.00V229.37H450.50Z M450.50 229.37H474.90V231.30H450.50Z M450.50 231.30H481.00V233.22H450.50Z M450.50 233.22H493.20V235.15H450.50Z M450.50 235.15H481.00V237.08H450.50Z M450.50 237.08H517.60V239.01H450.50Z M450.50 239.01H481.00V240.94H450.50Z M450.50 240.94H505.40V242.86H450.50Z M450.50 242.86H499.30V244.79H450.50Z M450.50 244.79H499.30V246.72H450.50Z M450.50 246.72H487.10V248.65H450.50Z M450.50 248.65H481.00V250.58H450.50Z M450.50 250.58H542.00V252.50H450.50Z M450.50 252.50H505.40V254.43H450.50Z M450.50 254.43H481.00V256.36H450.50Z M450.50 256.36H456.60V258.29H450.50Z M450.50 258.29H468.80V260.22H450.50Z M450.50 260.22H468.80V262.14H450.50Z" fill="#000"/>
<path d="M450.20 315.70H528.59V317.64H450.20Z M450.20 317.64H523.15V319.58H450.20Z M450.20 319.58H504.64V321.51H450.20Z M450.20 321.51H486.13V323.45H450.20Z M450.20 323.45H474.15V325.39H450.20Z M450.20 325.39H465.44V327.33H450.20Z M450.20 327.33H474.15V329.27H450.20Z M450.20 329.27H468.71V331.20H450.20Z M450.20 331.20H470.89V333.14H450.20Z M450.20 333.14H464.35V335.08H450.20Z M450.20 335.08H463.26V337.02H450.20Z M450.20 337.02H464.35V338.96H450.20Z M450.20 338.96H479.60V340.89H450.20Z M450.20 340.89H461.09V342.83H450.20Z M450.20 342.83H469.80V344.77H450.20Z M450.20 344.77H473.06V346.71H450.20Z M450.20 346.71H468.71V348.65H450.20Z M450.20 348.65H476.33V350.58H450.20Z M450.20 350.58H466.53V352.52H450.20Z M450.20 352.52H475.24V354.46H450.20Z M450.20 354.46H474.15V356.40H450.20Z M450.20 356.40H465.44V358.34H450.20Z M450.20 358.34H470.89V360.27H450.20Z M450.20 360.27H465.44V362.21H450.20Z M450.20 362.21H475.24V364.15H450.20Z M450.20 364.15H460.00V366.09H450.20Z M450.20 366.09H470.89V368.03H450.20Z M450.20 368.03H473.06V369.96H450.20Z M450.20 369.96H468.71V371.90H450.20Z M450.20 371.90H474.15V373.84H450.20Z M450.20 373.84H476.33V375.78H450.20Z M450.20 375.78H476.33V377.72H450.20Z M450.20 377.72H466.53V379.65H450.20Z M450.20 379.65H466.53V381.59H450.20Z M450.20 381.59H476.33V383.53H450.20Z M450.20 383.53H468.71V385.47H450.20Z M450.20 385.47H465.44V387.41H450.20Z M450.20 387.41H475.24V389.34H450.20Z M450.20 389.34H471.97V391.28H450.20Z M450.20 391.28H471.97V393.22H450.20Z M450.20 393.22H480.68V395.16H450.20Z M450.20 395.16H471.97V397.10H450.20Z M450.20 397.10H470.89V399.03H450.20Z M450.20 399.03H466.53V400.97H450.20Z M450.20 400.97H474.15V402.91H450.20Z M450.20 402.91H483.95V404.85H450.20Z M450.20 404.85H473.06V406.79H450.20Z M450.20 406.79H499.19V408.72H450.20Z M450.20 408.72H495.93V410.66H450.20Z M450.20 410.66H540.57V412.60H450.20Z" fill="#000"/>
<path d="M593.80 25.70H606.81V27.70H593.80Z M593.80 28.13H600.84V30.13H593.80Z M593.80 30.57H606.81V32.57H593.80Z M593.80 33.00H612.38V35.00H593.80Z M593.80 35.43H632.92V37.43H593.80Z M593.80 37.86H612.38V39.86H593.80Z M593.80 40.30H615.80V42.30H593.80Z M593.80 42.73H620.89V44.73H593.80Z M593.80 45.16H624.12V47.16H593.80Z M593.80 47.59H615.32V49.59H593.80Z M593.80 50.03H615.80V52.03H593.80Z M593.80 52.46H629.69V54.46H593.80Z M593.80 54.89H616.78V56.89H593.80Z M593.80 57.32H634.88V59.32H593.80Z M593.80 59.76H616.78V61.76H593.80Z M593.80 62.19H606.81V64.19H593.80Z M593.80 64.62H616.78V66.62H593.80Z M593.80 67.05H609.74V69.05H593.80Z M593.80 69.48H609.74V71.48H593.80Z M593.80 71.92H616.78V73.92H593.80Z M593.80 74.35H610.33V76.35H593.80Z M593.80 76.78H615.80V78.78H593.80Z M593.80 79.22H621.18V81.22H593.80Z M593.80 81.65H616.29V83.65H593.80Z M593.80 84.08H621.18V86.08H593.80Z M593.80 86.51H627.05V88.51H593.80Z M593.80 88.94H624.12V90.94H593.80Z M593.80 91.38H617.27V93.38H593.80Z M593.80 93.81H604.17V95.81H593.80Z M593.80 96.24H615.32V98.24H593.80Z M593.80 98.67H598.10V100.67H593.80Z M593.80 101.11H612.38V103.11H593.80Z M593.80 103.54H627.05V105.54H593.80Z M593.80 105.97H616.29V107.97H593.80Z M593.80 108.41H624.12V110.41H593.80Z M593.80 110.84H632.92V112.84H593.80Z M593.80 113.27H617.27V115.27H593.80Z M593.80 115.70H607.20V117.70H593.80Z M593.80 118.14H612.38V120.14H593.80Z M593.80 120.57H610.33V122.57H593.80Z M593.80 123.00H612.38V125.00H593.80Z" fill="#000"/>
<line x1="618.25" y1="26.70" x2="618.25" y2="124.00" stroke="#f00" stroke-width="1.4"/>
<path d="M593.80 169.00H600.30V171.00H593.80Z M593.80 176.27H600.50V178.27H593.80Z M593.80 178.69H606.40V180.69H593.80Z M593.80 181.11H611.50V183.11H593.80Z M593.80 183.53H614.60V185.53H593.80Z M593.80 185.96H618.20V187.96H593.80Z M593.80 188.38H620.70V190.38H593.80Z M593.80 190.80H623.10V192.80H593.80Z M593.80 193.22H624.40V195.22H593.80Z M593.80 195.65H626.20V197.65H593.80Z M593.80 198.07H626.80V200.07H593.80Z M593.80 200.49H627.40V202.49H593.80Z M593.80 202.91H628.40V204.91H593.80Z M593.80 205.34H628.40V207.34H593.80Z M593.80 207.76H629.30V209.76H593.80Z M593.80 210.18H629.60V212.18H593.80Z M593.80 212.60H629.30V214.60H593.80Z M593.80 215.03H628.60V217.03H593.80Z M593.80 217.45H628.00V219.45H593.80Z M593.80 219.87H626.20V221.87H593.80Z M593.80 222.29H625.00V224.29H593.80Z M593.80 224.72H623.10V226.72H593.80Z M593.80 227.14H621.90V229.14H593.80Z M593.80 229.56H621.30V231.56H593.80Z M593.80 231.98H620.70V233.98H593.80Z M593.80 234.41H620.10V236.41H593.80Z M593.80 236.83H619.50V238.83H593.80Z M593.80 239.25H620.10V241.25H593.80Z M593.80 241.67H617.60V243.67H593.80Z M593.80 244.10H615.80V246.10H593.80Z M593.80 246.52H615.20V248.52H593.80Z M593.80 248.94H614.60V250.94H593.80Z M593.80 251.36H613.40V253.36H593.80Z M593.80 253.79H611.50V255.79H593.80Z M593.80 256.21H606.60V258.21H593.80Z M593.80 258.63H599.90V260.63H593.80Z M593.80 265.90H603.00V267.90H593.80Z" fill="#000"/>
<line x1="618.25" y1="170.00" x2="618.25" y2="266.90" stroke="#f00" stroke-width="1.4"/>
<path d="M594.20 311.25H717.18V313.25H594.20Z M594.20 313.68H662.52V315.68H594.20Z M594.20 316.11H624.46V318.11H594.20Z M594.20 318.54H612.74V320.54H594.20Z M594.20 320.98H606.40V322.98H594.20Z M594.20 323.41H607.57V325.41H594.20Z M594.20 325.84H611.77V327.84H594.20Z M594.20 328.27H606.40V330.27H594.20Z M594.20 330.70H608.45V332.70H594.20Z M594.20 333.13H607.86V335.13H594.20Z M594.20 335.56H605.72V337.56H594.20Z M594.20 337.99H609.13V339.99H594.20Z M594.20 340.43H606.40V342.43H594.20Z M594.20 342.86H608.16V344.86H594.20Z M594.20 345.29H609.13V347.29H594.20Z M594.20 347.72H604.94V349.72H594.20Z M594.20 350.15H607.57V352.15H594.20Z M594.20 352.58H609.82V354.58H594.20Z M594.20 355.01H611.77V357.01H594.20Z M594.20 357.44H605.91V359.44H594.20Z M594.20 359.88H607.57V361.88H594.20Z M594.20 362.31H608.16V364.31H594.20Z M594.20 364.74H611.77V366.74H594.20Z M594.20 367.17H603.96V369.17H594.20Z M594.20 369.60H603.96V371.60H594.20Z M594.20 372.03H607.47V374.03H594.20Z M594.20 374.46H602.98V376.46H594.20Z M594.20 376.89H606.89V378.89H594.20Z M594.20 379.32H608.84V381.32H594.20Z M594.20 381.76H605.91V383.76H594.20Z M594.20 384.19H603.47V386.19H594.20Z M594.20 386.62H601.52V388.62H594.20Z M594.20 389.05H609.52V391.05H594.20Z M594.20 391.48H608.16V393.48H594.20Z M594.20 393.91H605.91V395.91H594.20Z M594.20 396.34H604.94V398.34H594.20Z M594.20 398.77H602.98V400.77H594.20Z M594.20 401.21H603.47V403.21H594.20Z M594.20 403.64H612.74V405.64H594.20Z M594.20 406.07H642.71V408.07H594.20Z M594.20 408.50H779.64V410.50H594.20Z" fill="#000"/>
<line x1="618.60" y1="312.25" x2="618.60" y2="409.50" stroke="#f00" stroke-width="1.4"/>
<line x1="57.90" y1="26.40" x2="57.90" y2="125.00" stroke="#000" stroke-width="2"/>
<line x1="56.90" y1="124.00" x2="199.90" y2="124.00" stroke="#000" stroke-width="2"/>
<line x1="53.60" y1="124.00" x2="57.90" y2="124.00" stroke="#000" stroke-width="1"/>
<line x1="53.60" y1="99.72" x2="57.90" y2="99.72" stroke="#000" stroke-width="1"/>
<line x1="53.60" y1="75.45" x2="57.90" y2="75.45" stroke="#000" stroke-width="1"/>
<line x1="53.60" y1="51.18" x2="57.90" y2="51.18" stroke="#000" stroke-width="1"/>
<line x1="53.60" y1="26.90" x2="57.90" y2="26.90" stroke="#000" stroke-width="1"/>
<text x="51.30" y="128.50" font-size="12.0" text-anchor="end" fill="#000">0</text>
<text x="51.30" y="79.95" font-size="12.0" text-anchor="end" fill="#000">10</text>
<text x="51.30" y="31.40" font-size="12.0" text-anchor="end" fill="#000">20</text>
<line x1="57.90" y1="124.00" x2="57.90" y2="128.00" stroke="#000" stroke-width="1"/>
<line x1="105.07" y1="124.00" x2="105.07" y2="128.00" stroke="#000" stroke-width="1"/>
<line x1="152.23" y1="124.00" x2="152.23" y2="128.00" stroke="#000" stroke-width="1"/>
<line x1="199.40" y1="124.00" x2="199.40" y2="128.00" stroke="#000" stroke-width="1"/>
<text x="58.20" y="139.80" font-size="12.0" text-anchor="middle" fill="#000">20</text>
<text x="105.37" y="139.80" font-size="12.0" text-anchor="middle" fill="#000">30</text>
<text x="152.53" y="139.80" font-size="12.0" text-anchor="middle" fill="#000">40</text>
<text x="199.70" y="139.80" font-size="12.0" text-anchor="middle" fill="#000">50</text>
<line x1="57.90" y1="169.10" x2="57.90" y2="267.00" stroke="#000" stroke-width="2"/>
<line x1="56.90" y1="266.00" x2="200.10" y2="266.00" stroke="#000" stroke-width="2"/>
<line x1="53.60" y1="266.00" x2="57.90" y2="266.00" stroke="#000" stroke-width="1"/>
<line x1="53.60" y1="241.90" x2="57.90" y2="241.90" stroke="#000" stroke-width="1"/>
<line x1="53.60" y1="217.80" x2="57.90" y2="217.80" stroke="#000" stroke-width="1"/>
<line x1="53.60" y1="193.70" x2="57.90" y2="193.70" stroke="#000" stroke-width="1"/>
<line x1="53.60" y1="169.60" x2="57.90" y2="169.60" stroke="#000" stroke-width="1"/>
<text x="51.30" y="270.50" font-size="12.0" text-anchor="end" fill="#000">0</text>
<text x="51.30" y="222.30" font-size="12.0" text-anchor="end" fill="#000">10</text>
<text x="51.30" y="174.10" font-size="12.0" text-anchor="end" fill="#000">20</text>
<line x1="57.90" y1="266.00" x2="57.90" y2="270.00" stroke="#000" stroke-width="1"/>
<line x1="93.32" y1="266.00" x2="93.32" y2="270.00" stroke="#000" stroke-width="1"/>
<line x1="128.75" y1="266.00" x2="128.75" y2="270.00" stroke="#000" stroke-width="1"/>
<line x1="164.17" y1="266.00" x2="164.17" y2="270.00" stroke="#000" stroke-width="1"/>
<line x1="199.60" y1="266.00" x2="199.60" y2="270.00" stroke="#000" stroke-width="1"/>
<text x="58.20" y="282.30" font-size="12.0" text-anchor="middle" fill="#000">0</text>
<text x="129.05" y="282.30" font-size="12.0" text-anchor="middle" fill="#000">10</text>
<text x="199.90" y="282.30" font-size="12.0" text-anchor="middle" fill="#000">20</text>
<line x1="57.90" y1="316.40" x2="57.90" y2="414.00" stroke="#000" stroke-width="2"/>
<line x1="56.90" y1="413.00" x2="196.50" y2="413.00" stroke="#000" stroke-width="2"/>
<line x1="53.60" y1="413.00" x2="57.90" y2="413.00" stroke="#000" stroke-width="1"/>
<line x1="53.60" y1="380.97" x2="57.90" y2="380.97" stroke="#000" stroke-width="1"/>
<line x1="53.60" y1="348.93" x2="57.90" y2="348.93" stroke="#000" stroke-width="1"/>
<line x1="53.60" y1="316.90" x2="57.90" y2="316.90" stroke="#000" stroke-width="1"/>
<text x="51.30" y="417.50" font-size="12.0" text-anchor="end" fill="#000">0</text>
<text x="51.30" y="385.47" font-size="12.0" text-anchor="end" fill="#000">50</text>
<text x="51.30" y="353.43" font-size="12.0" text-anchor="end" fill="#000">100</text>
<text x="51.30" y="321.40" font-size="12.0" text-anchor="end" fill="#000">150</text>
<line x1="57.90" y1="413.00" x2="57.90" y2="417.00" stroke="#000" stroke-width="1"/>
<line x1="103.93" y1="413.00" x2="103.93" y2="417.00" stroke="#000" stroke-width="1"/>
<line x1="149.97" y1="413.00" x2="149.97" y2="417.00" stroke="#000" stroke-width="1"/>
<line x1="196.00" y1="413.00" x2="196.00" y2="417.00" stroke="#000" stroke-width="1"/>
<text x="58.20" y="428.60" font-size="12.0" text-anchor="middle" fill="#000">0</text>
<text x="104.23" y="428.60" font-size="12.0" text-anchor="middle" fill="#000">10</text>
<text x="150.27" y="428.60" font-size="12.0" text-anchor="middle" fill="#000">20</text>
<text x="196.30" y="428.60" font-size="12.0" text-anchor="middle" fill="#000">30</text>
<line x1="272.70" y1="26.40" x2="272.70" y2="125.00" stroke="#000" stroke-width="2"/>
<line x1="271.70" y1="124.00" x2="415.40" y2="124.00" stroke="#000" stroke-width="2"/>
<line x1="269.20" y1="124.00" x2="272.70" y2="124.00" stroke="#000" stroke-width="1"/>
<line x1="269.20" y1="104.58" x2="272.70" y2="104.58" stroke="#000" stroke-width="1"/>
<line x1="269.20" y1="85.16" x2="272.70" y2="85.16" stroke="#000" stroke-width="1"/>
<line x1="269.20" y1="65.74" x2="272.70" y2="65.74" stroke="#000" stroke-width="1"/>
<line x1="269.20" y1="46.32" x2="272.70" y2="46.32" stroke="#000" stroke-width="1"/>
<line x1="269.20" y1="26.90" x2="272.70" y2="26.90" stroke="#000" stroke-width="1"/>
<text x="265.90" y="126.70" font-size="12.0" text-anchor="end" fill="#000">0.0</text>
<text x="265.90" y="107.56" font-size="12.0" text-anchor="end" fill="#000">0.2</text>
<text x="265.90" y="88.42" font-size="12.0" text-anchor="end" fill="#000">0.4</text>
<text x="265.90" y="69.28" font-size="12.0" text-anchor="end" fill="#000">0.6</text>
<text x="265.90" y="50.14" font-size="12.0" text-anchor="end" fill="#000">0.8</text>
<text x="265.90" y="31.00" font-size="12.0" text-anchor="end" fill="#000">1.0</text>
<line x1="272.70" y1="124.00" x2="272.70" y2="128.00" stroke="#000" stroke-width="1"/>
<line x1="320.10" y1="124.00" x2="320.10" y2="128.00" stroke="#000" stroke-width="1"/>
<line x1="367.50" y1="124.00" x2="367.50" y2="128.00" stroke="#000" stroke-width="1"/>
<line x1="414.90" y1="124.00" x2="414.90" y2="128.00" stroke="#000" stroke-width="1"/>
<text x="273.00" y="139.80" font-size="12.0" text-anchor="middle" fill="#000">20</text>
<text x="320.40" y="139.80" font-size="12.0" text-anchor="middle" fill="#000">30</text>
<text x="367.80" y="139.80" font-size="12.0" text-anchor="middle" fill="#000">40</text>
<text x="415.20" y="139.80" font-size="12.0" text-anchor="middle" fill="#000">50</text>
<line x1="272.70" y1="168.50" x2="272.70" y2="266.80" stroke="#000" stroke-width="2"/>
<line x1="271.70" y1="265.80" x2="415.40" y2="265.80" stroke="#000" stroke-width="2"/>
<line x1="269.20" y1="265.80" x2="272.70" y2="265.80" stroke="#000" stroke-width="1"/>
<line x1="269.20" y1="246.44" x2="272.70" y2="246.44" stroke="#000" stroke-width="1"/>
<line x1="269.20" y1="227.08" x2="272.70" y2="227.08" stroke="#000" stroke-width="1"/>
<line x1="269.20" y1="207.72" x2="272.70" y2="207.72" stroke="#000" stroke-width="1"/>
<line x1="269.20" y1="188.36" x2="272.70" y2="188.36" stroke="#000" stroke-width="1"/>
<line x1="269.20" y1="169.00" x2="272.70" y2="169.00" stroke="#000" stroke-width="1"/>
<text x="265.90" y="268.10" font-size="12.0" text-anchor="end" fill="#000">0.0</text>
<text x="265.90" y="249.26" font-size="12.0" text-anchor="end" fill="#000">0.2</text>
<text x="265.90" y="230.42" font-size="12.0" text-anchor="end" fill="#000">0.4</text>
<text x="265.90" y="211.58" font-size="12.0" text-anchor="end" fill="#000">0.6</text>
<text x="265.90" y="192.74" font-size="12.0" text-anchor="end" fill="#000">0.8</text>
<text x="265.90" y="173.90" font-size="12.0" text-anchor="end" fill="#000">1.0</text>
<line x1="272.70" y1="265.80" x2="272.70" y2="269.80" stroke="#000" stroke-width="1"/>
<line x1="308.25" y1="265.80" x2="308.25" y2="269.80" stroke="#000" stroke-width="1"/>
<line x1="343.80" y1="265.80" x2="343.80" y2="269.80" stroke="#000" stroke-width="1"/>
<line x1="379.35" y1="265.80" x2="379.35" y2="269.80" stroke="#000" stroke-width="1"/>
<line x1="414.90" y1="265.80" x2="414.90" y2="269.80" stroke="#000" stroke-width="1"/>
<text x="273.00" y="282.30" font-size="12.0" text-anchor="middle" fill="#000">0</text>
<text x="344.10" y="282.30" font-size="12.0" text-anchor="middle" fill="#000">10</text>
<text x="415.20" y="282.30" font-size="12.0" text-anchor="middle" fill="#000">20</text>
<line x1="272.70" y1="315.50" x2="272.70" y2="413.30" stroke="#000" stroke-width="2"/>
<line x1="271.70" y1="412.30" x2="415.30" y2="412.30" stroke="#000" stroke-width="2"/>
<line x1="269.20" y1="412.30" x2="272.70" y2="412.30" stroke="#000" stroke-width="1"/>
<line x1="269.20" y1="393.04" x2="272.70" y2="393.04" stroke="#000" stroke-width="1"/>
<line x1="269.20" y1="373.78" x2="272.70" y2="373.78" stroke="#000" stroke-width="1"/>
<line x1="269.20" y1="354.52" x2="272.70" y2="354.52" stroke="#000" stroke-width="1"/>
<line x1="269.20" y1="335.26" x2="272.70" y2="335.26" stroke="#000" stroke-width="1"/>
<line x1="269.20" y1="316.00" x2="272.70" y2="316.00" stroke="#000" stroke-width="1"/>
<text x="265.90" y="415.20" font-size="12.0" text-anchor="end" fill="#000">0.0</text>
<text x="265.90" y="396.16" font-size="12.0" text-anchor="end" fill="#000">0.2</text>
<text x="265.90" y="377.12" font-size="12.0" text-anchor="end" fill="#000">0.4</text>
<text x="265.90" y="358.08" font-size="12.0" text-anchor="end" fill="#000">0.6</text>
<text x="265.90" y="339.04" font-size="12.0" text-anchor="end" fill="#000">0.8</text>
<text x="265.90" y="320.00" font-size="12.0" text-anchor="end" fill="#000">1.0</text>
<line x1="272.70" y1="412.30" x2="272.70" y2="416.30" stroke="#000" stroke-width="1"/>
<line x1="320.07" y1="412.30" x2="320.07" y2="416.30" stroke="#000" stroke-width="1"/>
<line x1="367.43" y1="412.30" x2="367.43" y2="416.30" stroke="#000" stroke-width="1"/>
<line x1="414.80" y1="412.30" x2="414.80" y2="416.30" stroke="#000" stroke-width="1"/>
<text x="273.00" y="428.60" font-size="12.0" text-anchor="middle" fill="#000">0</text>
<text x="320.37" y="428.60" font-size="12.0" text-anchor="middle" fill="#000">10</text>
<text x="367.73" y="428.60" font-size="12.0" text-anchor="middle" fill="#000">20</text>
<text x="415.10" y="428.60" font-size="12.0" text-anchor="middle" fill="#000">30</text>
<line x1="450.40" y1="26.40" x2="450.40" y2="124.90" stroke="#000" stroke-width="2"/>
<line x1="449.40" y1="123.90" x2="548.30" y2="123.90" stroke="#000" stroke-width="2"/>
<line x1="447.40" y1="123.90" x2="450.40" y2="123.90" stroke="#000" stroke-width="1"/>
<line x1="447.40" y1="104.50" x2="450.40" y2="104.50" stroke="#000" stroke-width="1"/>
<line x1="447.40" y1="85.10" x2="450.40" y2="85.10" stroke="#000" stroke-width="1"/>
<line x1="447.40" y1="65.70" x2="450.40" y2="65.70" stroke="#000" stroke-width="1"/>
<line x1="447.40" y1="46.30" x2="450.40" y2="46.30" stroke="#000" stroke-width="1"/>
<line x1="447.40" y1="26.90" x2="450.40" y2="26.90" stroke="#000" stroke-width="1"/>
<text x="443.40" y="126.70" font-size="12.0" text-anchor="end" fill="#000">0.0</text>
<text x="443.40" y="107.56" font-size="12.0" text-anchor="end" fill="#000">0.2</text>
<text x="443.40" y="88.42" font-size="12.0" text-anchor="end" fill="#000">0.4</text>
<text x="443.40" y="69.28" font-size="12.0" text-anchor="end" fill="#000">0.6</text>
<text x="443.40" y="50.14" font-size="12.0" text-anchor="end" fill="#000">0.8</text>
<text x="443.40" y="31.00" font-size="12.0" text-anchor="end" fill="#000">1.0</text>
<line x1="450.40" y1="123.90" x2="450.40" y2="127.90" stroke="#000" stroke-width="1"/>
<line x1="469.88" y1="123.90" x2="469.88" y2="127.90" stroke="#000" stroke-width="1"/>
<line x1="489.36" y1="123.90" x2="489.36" y2="127.90" stroke="#000" stroke-width="1"/>
<line x1="508.84" y1="123.90" x2="508.84" y2="127.90" stroke="#000" stroke-width="1"/>
<line x1="528.32" y1="123.90" x2="528.32" y2="127.90" stroke="#000" stroke-width="1"/>
<line x1="547.80" y1="123.90" x2="547.80" y2="127.90" stroke="#000" stroke-width="1"/>
<text x="450.70" y="139.80" font-size="12.0" text-anchor="middle" fill="#000">0</text>
<text x="470.18" y="139.80" font-size="12.0" text-anchor="middle" fill="#000">2</text>
<text x="489.66" y="139.80" font-size="12.0" text-anchor="middle" fill="#000">4</text>
<text x="509.14" y="139.80" font-size="12.0" text-anchor="middle" fill="#000">6</text>
<text x="528.62" y="139.80" font-size="12.0" text-anchor="middle" fill="#000">8</text>
<text x="548.10" y="139.80" font-size="12.0" text-anchor="middle" fill="#000">10</text>
<line x1="450.50" y1="169.10" x2="450.50" y2="267.00" stroke="#000" stroke-width="2"/>
<line x1="449.50" y1="266.00" x2="542.50" y2="266.00" stroke="#000" stroke-width="2"/>
<line x1="447.50" y1="266.00" x2="450.50" y2="266.00" stroke="#000" stroke-width="1"/>
<line x1="447.50" y1="246.72" x2="450.50" y2="246.72" stroke="#000" stroke-width="1"/>
<line x1="447.50" y1="227.44" x2="450.50" y2="227.44" stroke="#000" stroke-width="1"/>
<line x1="447.50" y1="208.16" x2="450.50" y2="208.16" stroke="#000" stroke-width="1"/>
<line x1="447.50" y1="188.88" x2="450.50" y2="188.88" stroke="#000" stroke-width="1"/>
<line x1="447.50" y1="169.60" x2="450.50" y2="169.60" stroke="#000" stroke-width="1"/>
<text x="443.50" y="268.10" font-size="12.0" text-anchor="end" fill="#000">0.0</text>
<text x="443.50" y="249.26" font-size="12.0" text-anchor="end" fill="#000">0.2</text>
<text x="443.50" y="230.42" font-size="12.0" text-anchor="end" fill="#000">0.4</text>
<text x="443.50" y="211.58" font-size="12.0" text-anchor="end" fill="#000">0.6</text>
<text x="443.50" y="192.74" font-size="12.0" text-anchor="end" fill="#000">0.8</text>
<text x="443.50" y="173.90" font-size="12.0" text-anchor="end" fill="#000">1.0</text>
<line x1="450.50" y1="266.00" x2="450.50" y2="270.00" stroke="#000" stroke-width="1"/>
<line x1="481.00" y1="266.00" x2="481.00" y2="270.00" stroke="#000" stroke-width="1"/>
<line x1="511.50" y1="266.00" x2="511.50" y2="270.00" stroke="#000" stroke-width="1"/>
<line x1="542.00" y1="266.00" x2="542.00" y2="270.00" stroke="#000" stroke-width="1"/>
<text x="450.80" y="282.30" font-size="12.0" text-anchor="middle" fill="#000">0</text>
<text x="481.30" y="282.30" font-size="12.0" text-anchor="middle" fill="#000">5</text>
<text x="511.80" y="282.30" font-size="12.0" text-anchor="middle" fill="#000">10</text>
<text x="542.30" y="282.30" font-size="12.0" text-anchor="middle" fill="#000">15</text>
<line x1="450.20" y1="315.20" x2="450.20" y2="413.60" stroke="#000" stroke-width="2"/>
<line x1="449.20" y1="412.60" x2="537.80" y2="412.60" stroke="#000" stroke-width="2"/>
<line x1="447.20" y1="412.60" x2="450.20" y2="412.60" stroke="#000" stroke-width="1"/>
<line x1="447.20" y1="393.22" x2="450.20" y2="393.22" stroke="#000" stroke-width="1"/>
<line x1="447.20" y1="373.84" x2="450.20" y2="373.84" stroke="#000" stroke-width="1"/>
<line x1="447.20" y1="354.46" x2="450.20" y2="354.46" stroke="#000" stroke-width="1"/>
<line x1="447.20" y1="335.08" x2="450.20" y2="335.08" stroke="#000" stroke-width="1"/>
<line x1="447.20" y1="315.70" x2="450.20" y2="315.70" stroke="#000" stroke-width="1"/>
<text x="443.20" y="415.20" font-size="12.0" text-anchor="end" fill="#000">0.0</text>
<text x="443.20" y="396.16" font-size="12.0" text-anchor="end" fill="#000">0.2</text>
<text x="443.20" y="377.12" font-size="12.0" text-anchor="end" fill="#000">0.4</text>
<text x="443.20" y="358.08" font-size="12.0" text-anchor="end" fill="#000">0.6</text>
<text x="443.20" y="339.04" font-size="12.0" text-anchor="end" fill="#000">0.8</text>
<text x="443.20" y="320.00" font-size="12.0" text-anchor="end" fill="#000">1.0</text>
<line x1="450.20" y1="412.60" x2="450.20" y2="416.60" stroke="#000" stroke-width="1"/>
<line x1="471.97" y1="412.60" x2="471.97" y2="416.60" stroke="#000" stroke-width="1"/>
<line x1="493.75" y1="412.60" x2="493.75" y2="416.60" stroke="#000" stroke-width="1"/>
<line x1="515.52" y1="412.60" x2="515.52" y2="416.60" stroke="#000" stroke-width="1"/>
<line x1="537.30" y1="412.60" x2="537.30" y2="416.60" stroke="#000" stroke-width="1"/>
<text x="450.50" y="428.60" font-size="12.0" text-anchor="middle" fill="#000">0</text>
<text x="472.27" y="428.60" font-size="12.0" text-anchor="middle" fill="#000">20</text>
<text x="494.05" y="428.60" font-size="12.0" text-anchor="middle" fill="#000">40</text>
<text x="515.82" y="428.60" font-size="12.0" text-anchor="middle" fill="#000">60</text>
<text x="537.60" y="428.60" font-size="12.0" text-anchor="middle" fill="#000">80</text>
<line x1="593.80" y1="26.20" x2="593.80" y2="126.00" stroke="#000" stroke-width="2"/>
<line x1="592.80" y1="125.00" x2="789.90" y2="125.00" stroke="#000" stroke-width="2"/>
<line x1="588.80" y1="124.00" x2="593.80" y2="124.00" stroke="#000" stroke-width="1"/>
<line x1="588.80" y1="104.54" x2="593.80" y2="104.54" stroke="#000" stroke-width="1"/>
<line x1="588.80" y1="85.08" x2="593.80" y2="85.08" stroke="#000" stroke-width="1"/>
<line x1="588.80" y1="65.62" x2="593.80" y2="65.62" stroke="#000" stroke-width="1"/>
<line x1="588.80" y1="46.16" x2="593.80" y2="46.16" stroke="#000" stroke-width="1"/>
<line x1="588.80" y1="26.70" x2="593.80" y2="26.70" stroke="#000" stroke-width="1"/>
<text x="583.30" y="126.70" font-size="12.0" text-anchor="end" fill="#000">0.0</text>
<text x="583.30" y="107.56" font-size="12.0" text-anchor="end" fill="#000">0.2</text>
<text x="583.30" y="88.42" font-size="12.0" text-anchor="end" fill="#000">0.4</text>
<text x="583.30" y="69.28" font-size="12.0" text-anchor="end" fill="#000">0.6</text>
<text x="583.30" y="50.14" font-size="12.0" text-anchor="end" fill="#000">0.8</text>
<text x="583.30" y="31.00" font-size="12.0" text-anchor="end" fill="#000">1.0</text>
<line x1="593.80" y1="125.00" x2="593.80" y2="129.00" stroke="#000" stroke-width="1"/>
<line x1="642.70" y1="125.00" x2="642.70" y2="129.00" stroke="#000" stroke-width="1"/>
<line x1="691.60" y1="125.00" x2="691.60" y2="129.00" stroke="#000" stroke-width="1"/>
<line x1="740.50" y1="125.00" x2="740.50" y2="129.00" stroke="#000" stroke-width="1"/>
<line x1="789.40" y1="125.00" x2="789.40" y2="129.00" stroke="#000" stroke-width="1"/>
<text x="594.10" y="139.80" font-size="12.0" text-anchor="middle" fill="#000">0.0</text>
<text x="643.00" y="139.80" font-size="12.0" text-anchor="middle" fill="#000">0.05</text>
<text x="691.90" y="139.80" font-size="12.0" text-anchor="middle" fill="#000">0.10</text>
<text x="740.80" y="139.80" font-size="12.0" text-anchor="middle" fill="#000">0.15</text>
<text x="789.70" y="139.80" font-size="12.0" text-anchor="middle" fill="#000">0.20</text>
<line x1="593.80" y1="169.50" x2="593.80" y2="269.10" stroke="#000" stroke-width="2"/>
<line x1="592.80" y1="268.10" x2="789.90" y2="268.10" stroke="#000" stroke-width="2"/>
<line x1="588.80" y1="266.90" x2="593.80" y2="266.90" stroke="#000" stroke-width="1"/>
<line x1="588.80" y1="247.52" x2="593.80" y2="247.52" stroke="#000" stroke-width="1"/>
<line x1="588.80" y1="228.14" x2="593.80" y2="228.14" stroke="#000" stroke-width="1"/>
<line x1="588.80" y1="208.76" x2="593.80" y2="208.76" stroke="#000" stroke-width="1"/>
<line x1="588.80" y1="189.38" x2="593.80" y2="189.38" stroke="#000" stroke-width="1"/>
<line x1="588.80" y1="170.00" x2="593.80" y2="170.00" stroke="#000" stroke-width="1"/>
<text x="583.30" y="268.10" font-size="12.0" text-anchor="end" fill="#000">0.0</text>
<text x="583.30" y="249.26" font-size="12.0" text-anchor="end" fill="#000">0.2</text>
<text x="583.30" y="230.42" font-size="12.0" text-anchor="end" fill="#000">0.4</text>
<text x="583.30" y="211.58" font-size="12.0" text-anchor="end" fill="#000">0.6</text>
<text x="583.30" y="192.74" font-size="12.0" text-anchor="end" fill="#000">0.8</text>
<text x="583.30" y="173.90" font-size="12.0" text-anchor="end" fill="#000">1.0</text>
<line x1="593.80" y1="268.10" x2="593.80" y2="272.10" stroke="#000" stroke-width="1"/>
<line x1="642.70" y1="268.10" x2="642.70" y2="272.10" stroke="#000" stroke-width="1"/>
<line x1="691.60" y1="268.10" x2="691.60" y2="272.10" stroke="#000" stroke-width="1"/>
<line x1="740.50" y1="268.10" x2="740.50" y2="272.10" stroke="#000" stroke-width="1"/>
<line x1="789.40" y1="268.10" x2="789.40" y2="272.10" stroke="#000" stroke-width="1"/>
<text x="594.10" y="282.30" font-size="12.0" text-anchor="middle" fill="#000">0.0</text>
<text x="643.00" y="282.30" font-size="12.0" text-anchor="middle" fill="#000">0.05</text>
<text x="691.90" y="282.30" font-size="12.0" text-anchor="middle" fill="#000">0.10</text>
<text x="740.80" y="282.30" font-size="12.0" text-anchor="middle" fill="#000">0.15</text>
<text x="789.70" y="282.30" font-size="12.0" text-anchor="middle" fill="#000">0.20</text>
<line x1="594.20" y1="311.75" x2="594.20" y2="413.20" stroke="#000" stroke-width="2"/>
<line x1="593.20" y1="412.20" x2="789.90" y2="412.20" stroke="#000" stroke-width="2"/>
<line x1="589.20" y1="409.50" x2="594.20" y2="409.50" stroke="#000" stroke-width="1"/>
<line x1="589.20" y1="390.05" x2="594.20" y2="390.05" stroke="#000" stroke-width="1"/>
<line x1="589.20" y1="370.60" x2="594.20" y2="370.60" stroke="#000" stroke-width="1"/>
<line x1="589.20" y1="351.15" x2="594.20" y2="351.15" stroke="#000" stroke-width="1"/>
<line x1="589.20" y1="331.70" x2="594.20" y2="331.70" stroke="#000" stroke-width="1"/>
<line x1="589.20" y1="312.25" x2="594.20" y2="312.25" stroke="#000" stroke-width="1"/>
<text x="583.70" y="415.20" font-size="12.0" text-anchor="end" fill="#000">0.0</text>
<text x="583.70" y="396.16" font-size="12.0" text-anchor="end" fill="#000">0.2</text>
<text x="583.70" y="377.12" font-size="12.0" text-anchor="end" fill="#000">0.4</text>
<text x="583.70" y="358.08" font-size="12.0" text-anchor="end" fill="#000">0.6</text>
<text x="583.70" y="339.04" font-size="12.0" text-anchor="end" fill="#000">0.8</text>
<text x="583.70" y="320.00" font-size="12.0" text-anchor="end" fill="#000">1.0</text>
<line x1="594.20" y1="412.20" x2="594.20" y2="416.20" stroke="#000" stroke-width="1"/>
<line x1="643.00" y1="412.20" x2="643.00" y2="416.20" stroke="#000" stroke-width="1"/>
<line x1="691.80" y1="412.20" x2="691.80" y2="416.20" stroke="#000" stroke-width="1"/>
<line x1="740.60" y1="412.20" x2="740.60" y2="416.20" stroke="#000" stroke-width="1"/>
<line x1="789.40" y1="412.20" x2="789.40" y2="416.20" stroke="#000" stroke-width="1"/>
<text x="594.50" y="428.60" font-size="12.0" text-anchor="middle" fill="#000">0.0</text>
<text x="643.30" y="428.60" font-size="12.0" text-anchor="middle" fill="#000">0.05</text>
<text x="692.10" y="428.60" font-size="12.0" text-anchor="middle" fill="#000">0.10</text>
<text x="740.90" y="428.60" font-size="12.0" text-anchor="middle" fill="#000">0.15</text>
<text x="789.70" y="428.60" font-size="12.0" text-anchor="middle" fill="#000">0.20</text>
<text x="-0.20" y="15.00" font-size="21.5" text-anchor="start" fill="#000">A</text>
<text x="230.70" y="15.00" font-size="21.5" text-anchor="start" fill="#000">B</text>
<text x="410.90" y="15.00" font-size="21.5" text-anchor="start" fill="#000">C</text>
<text x="552.60" y="15.00" font-size="21.5" text-anchor="start" fill="#000">D</text>
<text x="69.60" y="30.50" font-size="17.5" text-anchor="start" fill="#000">Delayed Discharge</text>
<text x="70.20" y="171.50" font-size="17.2" text-anchor="start" fill="#000">Flight</text>
<text x="69.90" y="310.60" font-size="17.6" text-anchor="start" fill="#000">Grooming</text>
<text x="605.80" y="14.40" font-size="14.0" text-anchor="start" fill="#000">Population-Wide Distribution</text>
<circle cx="159" cy="45.4" r="1.5" fill="#fff" stroke="#747474" stroke-width="0.9"/>
<circle cx="158.6" cy="59" r="1.9" fill="#000"/>
<text x="164.40" y="48.70" font-size="12.1" text-anchor="start" fill="#000">L DLM</text>
<text x="164.40" y="63.70" font-size="12.1" text-anchor="start" fill="#000">R DLM</text>
<text transform="translate(24.6 78.6) rotate(-90)" font-size="13.6" text-anchor="middle">ISI<tspan font-size="7.8" dy="-5">-1</tspan><tspan dy="5"> (Hz)</tspan></text>
<text transform="translate(24.6 216.4) rotate(-90)" font-size="13.6" text-anchor="middle">ISI<tspan font-size="7.8" dy="-5">-1</tspan><tspan dy="5"> (Hz)</tspan></text>
<text transform="translate(24.6 362.2) rotate(-90)" font-size="13.6" text-anchor="middle">ISI<tspan font-size="7.8" dy="-5">-1</tspan><tspan dy="5"> (Hz)</tspan></text>
<text transform="translate(239.3 78.4) rotate(-90)" font-size="13.5" text-anchor="middle">Phase</text>
<text transform="translate(239.3 213.8) rotate(-90)" font-size="13.5" text-anchor="middle">Phase</text>
<text transform="translate(239.3 365.5) rotate(-90)" font-size="13.5" text-anchor="middle">Phase</text>
<text x="103.50" y="446.90" font-size="13.9" text-anchor="start" fill="#000">Time (s)</text>
<text x="319.00" y="446.90" font-size="13.9" text-anchor="start" fill="#000">Time (s)</text>
<text x="458.00" y="446.30" font-size="14.2" text-anchor="start" fill="#000">Spike Count</text>
<text x="664.10" y="446.50" font-size="13.85" text-anchor="start" fill="#000">Fraction</text>
<text x="731.20" y="31.00" font-size="10.6" text-anchor="start" fill="#000">378 spikes</text>
<text x="731.20" y="43.10" font-size="10.6" text-anchor="start" fill="#000">8 flies</text>
<text x="728.70" y="174.80" font-size="10.6" text-anchor="start" fill="#000">49,237 spikes</text>
<text x="728.70" y="186.90" font-size="10.6" text-anchor="start" fill="#000">44 flies</text>
<text x="728.90" y="316.50" font-size="10.6" text-anchor="start" fill="#000">2037 spikes</text>
<text x="728.90" y="328.60" font-size="10.6" text-anchor="start" fill="#000">43 flies</text>
<path d="M642.2 173.9L653.75 170.9L653.75 176.9Z" fill="#f00"/>
<line x1="653.75" y1="173.9" x2="656.6" y2="173.9" stroke="#f00" stroke-width="2.2"/>
<path d="M642.2 262.1L653.75 259.1L653.75 265.1Z" fill="#f00"/>
<line x1="653.75" y1="262.1" x2="656.6" y2="262.1" stroke="#f00" stroke-width="2.2"/>
<path d="M668.2 315.3L668.2 327.5L673.9 325.6Z" fill="#f00"/>
<line x1="671.05" y1="326.55" x2="671.9" y2="329.2" stroke="#f00" stroke-width="2.2"/>
<path d="M667.5 405.6L667.8 393.9L673.3 395.3Z" fill="#f00"/>
<line x1="670.55" y1="394.6" x2="671.1" y2="392.2" stroke="#f00" stroke-width="2.2"/>
</svg>
</body></html>
